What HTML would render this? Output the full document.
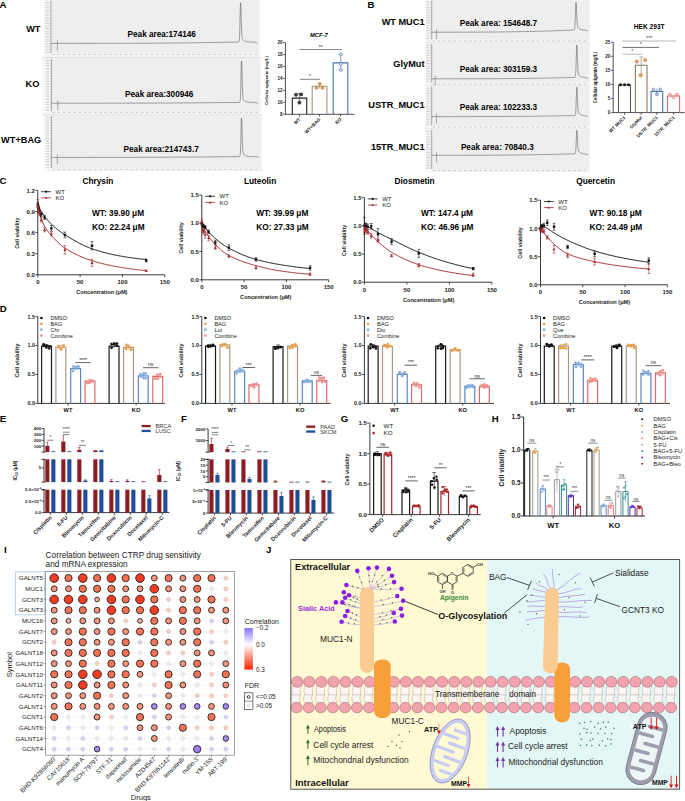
<!DOCTYPE html>
<html><head><meta charset="utf-8"><style>
html,body{margin:0;padding:0;background:#fff;width:685px;height:801px;overflow:hidden}
svg{display:block;font-family:"Liberation Sans",sans-serif}
</style></head><body>
<svg width="685" height="801" viewBox="0 0 685 801">
<text x="-0.5" y="7.8" font-size="9.6" font-weight="bold">A</text>
<text x="40.5" y="31.8" font-size="9.2" font-weight="bold" text-anchor="end">WT</text>
<text x="39.3" y="87.3" font-size="9.2" font-weight="bold" text-anchor="end">KO</text>
<text x="41.2" y="143.3" font-size="9.2" font-weight="bold" text-anchor="end">WT+BAG</text>
<rect x="44" y="0" width="216" height="57" fill="#f4f4f4"/>
<rect x="51" y="0.5" width="207.5" height="52.5" fill="#eeeeee"/>
<line x1="51" y1="0.5" x2="51" y2="53" stroke="#8c8c8c" stroke-width="0.7"/>
<line x1="49.4" y1="52" x2="51" y2="52" stroke="#a8a8a8" stroke-width="0.5"/>
<rect x="45.4" y="51.55" width="3.4" height="0.9" fill="#cdcdcd"/>
<line x1="49.4" y1="49.4" x2="51" y2="49.4" stroke="#a8a8a8" stroke-width="0.5"/>
<rect x="45.4" y="48.95" width="3.4" height="0.9" fill="#cdcdcd"/>
<line x1="49.4" y1="46.8" x2="51" y2="46.8" stroke="#a8a8a8" stroke-width="0.5"/>
<rect x="45.4" y="46.35" width="3.4" height="0.9" fill="#cdcdcd"/>
<line x1="49.4" y1="44.2" x2="51" y2="44.2" stroke="#a8a8a8" stroke-width="0.5"/>
<rect x="45.4" y="43.75" width="3.4" height="0.9" fill="#cdcdcd"/>
<line x1="49.4" y1="41.6" x2="51" y2="41.6" stroke="#a8a8a8" stroke-width="0.5"/>
<rect x="45.4" y="41.15" width="3.4" height="0.9" fill="#cdcdcd"/>
<line x1="49.4" y1="39" x2="51" y2="39" stroke="#a8a8a8" stroke-width="0.5"/>
<rect x="45.4" y="38.55" width="3.4" height="0.9" fill="#cdcdcd"/>
<line x1="49.4" y1="36.4" x2="51" y2="36.4" stroke="#a8a8a8" stroke-width="0.5"/>
<rect x="45.4" y="35.95" width="3.4" height="0.9" fill="#cdcdcd"/>
<line x1="49.4" y1="33.8" x2="51" y2="33.8" stroke="#a8a8a8" stroke-width="0.5"/>
<rect x="45.4" y="33.35" width="3.4" height="0.9" fill="#cdcdcd"/>
<line x1="49.4" y1="31.2" x2="51" y2="31.2" stroke="#a8a8a8" stroke-width="0.5"/>
<rect x="45.4" y="30.75" width="3.4" height="0.9" fill="#cdcdcd"/>
<line x1="49.4" y1="28.6" x2="51" y2="28.6" stroke="#a8a8a8" stroke-width="0.5"/>
<rect x="45.4" y="28.15" width="3.4" height="0.9" fill="#cdcdcd"/>
<line x1="49.4" y1="26" x2="51" y2="26" stroke="#a8a8a8" stroke-width="0.5"/>
<rect x="45.4" y="25.55" width="3.4" height="0.9" fill="#cdcdcd"/>
<line x1="49.4" y1="23.4" x2="51" y2="23.4" stroke="#a8a8a8" stroke-width="0.5"/>
<rect x="45.4" y="22.95" width="3.4" height="0.9" fill="#cdcdcd"/>
<line x1="49.4" y1="20.8" x2="51" y2="20.8" stroke="#a8a8a8" stroke-width="0.5"/>
<rect x="45.4" y="20.35" width="3.4" height="0.9" fill="#cdcdcd"/>
<line x1="49.4" y1="18.2" x2="51" y2="18.2" stroke="#a8a8a8" stroke-width="0.5"/>
<rect x="45.4" y="17.75" width="3.4" height="0.9" fill="#cdcdcd"/>
<line x1="49.4" y1="15.6" x2="51" y2="15.6" stroke="#a8a8a8" stroke-width="0.5"/>
<rect x="45.4" y="15.15" width="3.4" height="0.9" fill="#cdcdcd"/>
<line x1="49.4" y1="13" x2="51" y2="13" stroke="#a8a8a8" stroke-width="0.5"/>
<rect x="45.4" y="12.55" width="3.4" height="0.9" fill="#cdcdcd"/>
<line x1="49.4" y1="10.4" x2="51" y2="10.4" stroke="#a8a8a8" stroke-width="0.5"/>
<rect x="45.4" y="9.95" width="3.4" height="0.9" fill="#cdcdcd"/>
<line x1="49.4" y1="7.8" x2="51" y2="7.8" stroke="#a8a8a8" stroke-width="0.5"/>
<rect x="45.4" y="7.35" width="3.4" height="0.9" fill="#cdcdcd"/>
<line x1="49.4" y1="5.2" x2="51" y2="5.2" stroke="#a8a8a8" stroke-width="0.5"/>
<rect x="45.4" y="4.75" width="3.4" height="0.9" fill="#cdcdcd"/>
<line x1="49.4" y1="2.6" x2="51" y2="2.6" stroke="#a8a8a8" stroke-width="0.5"/>
<rect x="45.4" y="2.15" width="3.4" height="0.9" fill="#cdcdcd"/>
<line x1="52" y1="54.4" x2="54.5" y2="54.4" stroke="#b8b8b8" stroke-width="0.7"/>
<line x1="57.2" y1="54.4" x2="59.7" y2="54.4" stroke="#b8b8b8" stroke-width="0.7"/>
<line x1="62.4" y1="54.4" x2="64.9" y2="54.4" stroke="#b8b8b8" stroke-width="0.7"/>
<line x1="67.6" y1="54.4" x2="70.1" y2="54.4" stroke="#b8b8b8" stroke-width="0.7"/>
<line x1="72.8" y1="54.4" x2="75.3" y2="54.4" stroke="#b8b8b8" stroke-width="0.7"/>
<line x1="78" y1="54.4" x2="80.5" y2="54.4" stroke="#b8b8b8" stroke-width="0.7"/>
<line x1="83.2" y1="54.4" x2="85.7" y2="54.4" stroke="#b8b8b8" stroke-width="0.7"/>
<line x1="88.4" y1="54.4" x2="90.9" y2="54.4" stroke="#b8b8b8" stroke-width="0.7"/>
<line x1="93.6" y1="54.4" x2="96.1" y2="54.4" stroke="#b8b8b8" stroke-width="0.7"/>
<line x1="98.8" y1="54.4" x2="101.3" y2="54.4" stroke="#b8b8b8" stroke-width="0.7"/>
<line x1="104" y1="54.4" x2="106.5" y2="54.4" stroke="#b8b8b8" stroke-width="0.7"/>
<line x1="109.2" y1="54.4" x2="111.7" y2="54.4" stroke="#b8b8b8" stroke-width="0.7"/>
<line x1="114.4" y1="54.4" x2="116.9" y2="54.4" stroke="#b8b8b8" stroke-width="0.7"/>
<line x1="119.6" y1="54.4" x2="122.1" y2="54.4" stroke="#b8b8b8" stroke-width="0.7"/>
<line x1="124.8" y1="54.4" x2="127.3" y2="54.4" stroke="#b8b8b8" stroke-width="0.7"/>
<line x1="130" y1="54.4" x2="132.5" y2="54.4" stroke="#b8b8b8" stroke-width="0.7"/>
<line x1="135.2" y1="54.4" x2="137.7" y2="54.4" stroke="#b8b8b8" stroke-width="0.7"/>
<line x1="140.4" y1="54.4" x2="142.9" y2="54.4" stroke="#b8b8b8" stroke-width="0.7"/>
<line x1="145.6" y1="54.4" x2="148.1" y2="54.4" stroke="#b8b8b8" stroke-width="0.7"/>
<line x1="150.8" y1="54.4" x2="153.3" y2="54.4" stroke="#b8b8b8" stroke-width="0.7"/>
<line x1="156" y1="54.4" x2="158.5" y2="54.4" stroke="#b8b8b8" stroke-width="0.7"/>
<line x1="161.2" y1="54.4" x2="163.7" y2="54.4" stroke="#b8b8b8" stroke-width="0.7"/>
<line x1="166.4" y1="54.4" x2="168.9" y2="54.4" stroke="#b8b8b8" stroke-width="0.7"/>
<line x1="171.6" y1="54.4" x2="174.1" y2="54.4" stroke="#b8b8b8" stroke-width="0.7"/>
<line x1="176.8" y1="54.4" x2="179.3" y2="54.4" stroke="#b8b8b8" stroke-width="0.7"/>
<line x1="182" y1="54.4" x2="184.5" y2="54.4" stroke="#b8b8b8" stroke-width="0.7"/>
<line x1="187.2" y1="54.4" x2="189.7" y2="54.4" stroke="#b8b8b8" stroke-width="0.7"/>
<line x1="192.4" y1="54.4" x2="194.9" y2="54.4" stroke="#b8b8b8" stroke-width="0.7"/>
<line x1="197.6" y1="54.4" x2="200.1" y2="54.4" stroke="#b8b8b8" stroke-width="0.7"/>
<line x1="202.8" y1="54.4" x2="205.3" y2="54.4" stroke="#b8b8b8" stroke-width="0.7"/>
<line x1="208" y1="54.4" x2="210.5" y2="54.4" stroke="#b8b8b8" stroke-width="0.7"/>
<line x1="213.2" y1="54.4" x2="215.7" y2="54.4" stroke="#b8b8b8" stroke-width="0.7"/>
<line x1="218.4" y1="54.4" x2="220.9" y2="54.4" stroke="#b8b8b8" stroke-width="0.7"/>
<line x1="223.6" y1="54.4" x2="226.1" y2="54.4" stroke="#b8b8b8" stroke-width="0.7"/>
<line x1="228.8" y1="54.4" x2="231.3" y2="54.4" stroke="#b8b8b8" stroke-width="0.7"/>
<line x1="234" y1="54.4" x2="236.5" y2="54.4" stroke="#b8b8b8" stroke-width="0.7"/>
<line x1="239.2" y1="54.4" x2="241.7" y2="54.4" stroke="#b8b8b8" stroke-width="0.7"/>
<line x1="244.4" y1="54.4" x2="246.9" y2="54.4" stroke="#b8b8b8" stroke-width="0.7"/>
<line x1="249.6" y1="54.4" x2="252.1" y2="54.4" stroke="#b8b8b8" stroke-width="0.7"/>
<line x1="254.8" y1="54.4" x2="257.3" y2="54.4" stroke="#b8b8b8" stroke-width="0.7"/>
<path d="M51 43.4 L52.55 43.4 L54.11 43.4 L55.66 43.4 L57.22 43.4 L58.77 43.4 L60.33 43.4 L61.88 43.4 L63.44 43.4 L65 43.4 L66.55 43.4 L68.11 43.4 L69.66 43.4 L71.22 43.4 L72.77 43.4 L74.33 43.4 L75.88 43.4 L77.44 43.4 L78.99 43.4 L80.55 43.39 L82.1 43.39 L83.66 43.39 L85.21 43.39 L86.77 43.39 L88.32 43.39 L89.88 43.39 L91.43 43.39 L92.98 43.38 L94.54 43.38 L96.09 43.38 L97.65 43.38 L99.2 43.38 L100.76 43.37 L102.31 43.37 L103.87 43.37 L105.42 43.37 L106.98 43.36 L108.53 43.36 L110.09 43.36 L111.64 43.35 L113.2 43.35 L114.75 43.34 L116.31 43.34 L117.86 43.34 L119.42 43.33 L120.97 43.33 L122.53 43.32 L124.08 43.32 L125.64 43.31 L127.19 43.3 L128.75 43.3 L130.31 43.29 L131.86 43.29 L133.41 43.28 L134.97 43.27 L136.53 43.27 L138.08 43.26 L139.63 43.25 L141.19 43.24 L142.75 43.23 L144.3 43.23 L145.86 43.22 L147.41 43.21 L148.96 43.2 L150.52 43.19 L152.07 43.18 L153.63 43.17 L155.19 43.16 L156.74 43.15 L158.3 43.13 L159.85 43.12 L161.41 43.11 L162.96 43.1 L164.51 43.08 L166.07 43.07 L167.62 43.06 L169.18 43.04 L170.73 43.03 L172.29 43.02 L173.84 43 L175.4 42.99 L176.95 42.97 L178.51 42.95 L180.06 42.94 L181.62 42.92 L183.18 42.9 L184.73 42.88 L186.28 42.87 L187.84 42.85 L189.39 42.83 L190.95 42.81 L192.5 42.79 L194.06 42.77 L195.61 42.75 L197.17 42.73 L198.72 42.71 L200.28 42.68 L201.84 42.66 L203.39 42.64 L204.94 42.61 L206.5 42.59 L208.05 42.57 L209.61 42.54 L211.16 42.51 L212.72 42.49 L214.28 42.46 L215.83 42.44 L217.39 42.41 L218.94 42.38 L220.49 42.35 L222.05 42.32 L223.6 42.29 L225.16 42.26 L226.72 42.23 L228.27 42.2 L229.82 42.17 L231.38 42.14 L232.94 42.1 L234.49 42.07 L236.04 42.03 L237.6 42 L237.6 42 L237.7 42 L237.8 42 L237.9 42 L238 42 L238.1 42 L238.2 42 L238.3 42 L238.4 41.99 L238.5 41.98 L238.6 41.97 L238.7 41.94 L238.8 41.88 L238.9 41.77 L239 41.59 L239.1 41.28 L239.2 40.79 L239.3 40.05 L239.4 38.96 L239.5 37.43 L239.6 35.36 L239.7 32.69 L239.8 29.4 L239.9 25.55 L240 21.28 L240.1 16.8 L240.2 12.43 L240.3 8.51 L240.4 5.4 L240.5 3.39 L240.6 2.7 L240.7 3.19 L240.9 6.92 L241.1 13.36 L241.3 20.71 L241.5 27.32 L241.7 32.29 L241.9 35.52 L242.1 37.42 L242.3 38.48 L242.5 39.09 L242.7 39.49 L242.9 39.79 L243.1 40.04 L243.3 40.26 L243.5 40.46 L243.7 40.63 L243.9 40.78 L244.1 40.92 L244.3 41.04 L244.5 41.14 L244.7 41.24 L244.9 41.32 L245.1 41.4 L245.3 41.46 L245.5 41.52 L245.7 41.58 L245.9 41.62 L246.1 41.67 L246.3 41.7 L246.5 41.74 L246.7 41.76 L246.9 41.79 L247.1 41.81 L247.3 41.83 L247.5 41.85 L247.7 41.87 L247.9 41.88 L248.1 41.9 L248.3 41.91 L248.5 41.92 L248.7 41.93 L249.5 41.95 L250.3 41.97 L251.1 41.98 L251.9 41.99 L252.7 41.99 L253.5 42 L254.3 42.15 L255.1 42.35 L255.9 42.55 L256.7 42.75 L257.5 42.95" fill="none" stroke="#555" stroke-width="0.55"/>
<line x1="57.4" y1="40.4" x2="57.4" y2="50.4" stroke="#777" stroke-width="0.6"/>
<rect x="42.5" y="57" width="219" height="1.6" fill="#dedede"/>
<rect x="42.5" y="58.6" width="218.5" height="55.7" fill="#f4f4f4"/>
<rect x="51.5" y="59.1" width="207.7" height="51.9" fill="#eeeeee"/>
<line x1="51.5" y1="59.1" x2="51.5" y2="111" stroke="#8c8c8c" stroke-width="0.7"/>
<line x1="49.9" y1="110" x2="51.5" y2="110" stroke="#a8a8a8" stroke-width="0.5"/>
<rect x="45.9" y="109.55" width="3.4" height="0.9" fill="#cdcdcd"/>
<line x1="49.9" y1="107.4" x2="51.5" y2="107.4" stroke="#a8a8a8" stroke-width="0.5"/>
<rect x="45.9" y="106.95" width="3.4" height="0.9" fill="#cdcdcd"/>
<line x1="49.9" y1="104.8" x2="51.5" y2="104.8" stroke="#a8a8a8" stroke-width="0.5"/>
<rect x="45.9" y="104.35" width="3.4" height="0.9" fill="#cdcdcd"/>
<line x1="49.9" y1="102.2" x2="51.5" y2="102.2" stroke="#a8a8a8" stroke-width="0.5"/>
<rect x="45.9" y="101.75" width="3.4" height="0.9" fill="#cdcdcd"/>
<line x1="49.9" y1="99.6" x2="51.5" y2="99.6" stroke="#a8a8a8" stroke-width="0.5"/>
<rect x="45.9" y="99.15" width="3.4" height="0.9" fill="#cdcdcd"/>
<line x1="49.9" y1="97" x2="51.5" y2="97" stroke="#a8a8a8" stroke-width="0.5"/>
<rect x="45.9" y="96.55" width="3.4" height="0.9" fill="#cdcdcd"/>
<line x1="49.9" y1="94.4" x2="51.5" y2="94.4" stroke="#a8a8a8" stroke-width="0.5"/>
<rect x="45.9" y="93.95" width="3.4" height="0.9" fill="#cdcdcd"/>
<line x1="49.9" y1="91.8" x2="51.5" y2="91.8" stroke="#a8a8a8" stroke-width="0.5"/>
<rect x="45.9" y="91.35" width="3.4" height="0.9" fill="#cdcdcd"/>
<line x1="49.9" y1="89.2" x2="51.5" y2="89.2" stroke="#a8a8a8" stroke-width="0.5"/>
<rect x="45.9" y="88.75" width="3.4" height="0.9" fill="#cdcdcd"/>
<line x1="49.9" y1="86.6" x2="51.5" y2="86.6" stroke="#a8a8a8" stroke-width="0.5"/>
<rect x="45.9" y="86.15" width="3.4" height="0.9" fill="#cdcdcd"/>
<line x1="49.9" y1="84" x2="51.5" y2="84" stroke="#a8a8a8" stroke-width="0.5"/>
<rect x="45.9" y="83.55" width="3.4" height="0.9" fill="#cdcdcd"/>
<line x1="49.9" y1="81.4" x2="51.5" y2="81.4" stroke="#a8a8a8" stroke-width="0.5"/>
<rect x="45.9" y="80.95" width="3.4" height="0.9" fill="#cdcdcd"/>
<line x1="49.9" y1="78.8" x2="51.5" y2="78.8" stroke="#a8a8a8" stroke-width="0.5"/>
<rect x="45.9" y="78.35" width="3.4" height="0.9" fill="#cdcdcd"/>
<line x1="49.9" y1="76.2" x2="51.5" y2="76.2" stroke="#a8a8a8" stroke-width="0.5"/>
<rect x="45.9" y="75.75" width="3.4" height="0.9" fill="#cdcdcd"/>
<line x1="49.9" y1="73.6" x2="51.5" y2="73.6" stroke="#a8a8a8" stroke-width="0.5"/>
<rect x="45.9" y="73.15" width="3.4" height="0.9" fill="#cdcdcd"/>
<line x1="49.9" y1="71" x2="51.5" y2="71" stroke="#a8a8a8" stroke-width="0.5"/>
<rect x="45.9" y="70.55" width="3.4" height="0.9" fill="#cdcdcd"/>
<line x1="49.9" y1="68.4" x2="51.5" y2="68.4" stroke="#a8a8a8" stroke-width="0.5"/>
<rect x="45.9" y="67.95" width="3.4" height="0.9" fill="#cdcdcd"/>
<line x1="49.9" y1="65.8" x2="51.5" y2="65.8" stroke="#a8a8a8" stroke-width="0.5"/>
<rect x="45.9" y="65.35" width="3.4" height="0.9" fill="#cdcdcd"/>
<line x1="49.9" y1="63.2" x2="51.5" y2="63.2" stroke="#a8a8a8" stroke-width="0.5"/>
<rect x="45.9" y="62.75" width="3.4" height="0.9" fill="#cdcdcd"/>
<line x1="49.9" y1="60.6" x2="51.5" y2="60.6" stroke="#a8a8a8" stroke-width="0.5"/>
<rect x="45.9" y="60.15" width="3.4" height="0.9" fill="#cdcdcd"/>
<line x1="52.5" y1="112.4" x2="55" y2="112.4" stroke="#b8b8b8" stroke-width="0.7"/>
<line x1="57.7" y1="112.4" x2="60.2" y2="112.4" stroke="#b8b8b8" stroke-width="0.7"/>
<line x1="62.9" y1="112.4" x2="65.4" y2="112.4" stroke="#b8b8b8" stroke-width="0.7"/>
<line x1="68.1" y1="112.4" x2="70.6" y2="112.4" stroke="#b8b8b8" stroke-width="0.7"/>
<line x1="73.3" y1="112.4" x2="75.8" y2="112.4" stroke="#b8b8b8" stroke-width="0.7"/>
<line x1="78.5" y1="112.4" x2="81" y2="112.4" stroke="#b8b8b8" stroke-width="0.7"/>
<line x1="83.7" y1="112.4" x2="86.2" y2="112.4" stroke="#b8b8b8" stroke-width="0.7"/>
<line x1="88.9" y1="112.4" x2="91.4" y2="112.4" stroke="#b8b8b8" stroke-width="0.7"/>
<line x1="94.1" y1="112.4" x2="96.6" y2="112.4" stroke="#b8b8b8" stroke-width="0.7"/>
<line x1="99.3" y1="112.4" x2="101.8" y2="112.4" stroke="#b8b8b8" stroke-width="0.7"/>
<line x1="104.5" y1="112.4" x2="107" y2="112.4" stroke="#b8b8b8" stroke-width="0.7"/>
<line x1="109.7" y1="112.4" x2="112.2" y2="112.4" stroke="#b8b8b8" stroke-width="0.7"/>
<line x1="114.9" y1="112.4" x2="117.4" y2="112.4" stroke="#b8b8b8" stroke-width="0.7"/>
<line x1="120.1" y1="112.4" x2="122.6" y2="112.4" stroke="#b8b8b8" stroke-width="0.7"/>
<line x1="125.3" y1="112.4" x2="127.8" y2="112.4" stroke="#b8b8b8" stroke-width="0.7"/>
<line x1="130.5" y1="112.4" x2="133" y2="112.4" stroke="#b8b8b8" stroke-width="0.7"/>
<line x1="135.7" y1="112.4" x2="138.2" y2="112.4" stroke="#b8b8b8" stroke-width="0.7"/>
<line x1="140.9" y1="112.4" x2="143.4" y2="112.4" stroke="#b8b8b8" stroke-width="0.7"/>
<line x1="146.1" y1="112.4" x2="148.6" y2="112.4" stroke="#b8b8b8" stroke-width="0.7"/>
<line x1="151.3" y1="112.4" x2="153.8" y2="112.4" stroke="#b8b8b8" stroke-width="0.7"/>
<line x1="156.5" y1="112.4" x2="159" y2="112.4" stroke="#b8b8b8" stroke-width="0.7"/>
<line x1="161.7" y1="112.4" x2="164.2" y2="112.4" stroke="#b8b8b8" stroke-width="0.7"/>
<line x1="166.9" y1="112.4" x2="169.4" y2="112.4" stroke="#b8b8b8" stroke-width="0.7"/>
<line x1="172.1" y1="112.4" x2="174.6" y2="112.4" stroke="#b8b8b8" stroke-width="0.7"/>
<line x1="177.3" y1="112.4" x2="179.8" y2="112.4" stroke="#b8b8b8" stroke-width="0.7"/>
<line x1="182.5" y1="112.4" x2="185" y2="112.4" stroke="#b8b8b8" stroke-width="0.7"/>
<line x1="187.7" y1="112.4" x2="190.2" y2="112.4" stroke="#b8b8b8" stroke-width="0.7"/>
<line x1="192.9" y1="112.4" x2="195.4" y2="112.4" stroke="#b8b8b8" stroke-width="0.7"/>
<line x1="198.1" y1="112.4" x2="200.6" y2="112.4" stroke="#b8b8b8" stroke-width="0.7"/>
<line x1="203.3" y1="112.4" x2="205.8" y2="112.4" stroke="#b8b8b8" stroke-width="0.7"/>
<line x1="208.5" y1="112.4" x2="211" y2="112.4" stroke="#b8b8b8" stroke-width="0.7"/>
<line x1="213.7" y1="112.4" x2="216.2" y2="112.4" stroke="#b8b8b8" stroke-width="0.7"/>
<line x1="218.9" y1="112.4" x2="221.4" y2="112.4" stroke="#b8b8b8" stroke-width="0.7"/>
<line x1="224.1" y1="112.4" x2="226.6" y2="112.4" stroke="#b8b8b8" stroke-width="0.7"/>
<line x1="229.3" y1="112.4" x2="231.8" y2="112.4" stroke="#b8b8b8" stroke-width="0.7"/>
<line x1="234.5" y1="112.4" x2="237" y2="112.4" stroke="#b8b8b8" stroke-width="0.7"/>
<line x1="239.7" y1="112.4" x2="242.2" y2="112.4" stroke="#b8b8b8" stroke-width="0.7"/>
<line x1="244.9" y1="112.4" x2="247.4" y2="112.4" stroke="#b8b8b8" stroke-width="0.7"/>
<line x1="250.1" y1="112.4" x2="252.6" y2="112.4" stroke="#b8b8b8" stroke-width="0.7"/>
<line x1="255.3" y1="112.4" x2="257.8" y2="112.4" stroke="#b8b8b8" stroke-width="0.7"/>
<path d="M51.5 103.2 L53.06 103.2 L54.62 103.2 L56.17 103.2 L57.73 103.2 L59.29 103.2 L60.85 103.2 L62.41 103.2 L63.97 103.2 L65.53 103.2 L67.08 103.2 L68.64 103.2 L70.2 103.2 L71.76 103.2 L73.32 103.2 L74.88 103.2 L76.43 103.2 L77.99 103.2 L79.55 103.2 L81.11 103.2 L82.67 103.2 L84.22 103.2 L85.78 103.2 L87.34 103.19 L88.9 103.19 L90.46 103.19 L92.02 103.19 L93.58 103.19 L95.13 103.19 L96.69 103.19 L98.25 103.19 L99.81 103.19 L101.37 103.18 L102.92 103.18 L104.48 103.18 L106.04 103.18 L107.6 103.18 L109.16 103.18 L110.72 103.17 L112.28 103.17 L113.83 103.17 L115.39 103.17 L116.95 103.17 L118.51 103.16 L120.07 103.16 L121.62 103.16 L123.18 103.15 L124.74 103.15 L126.3 103.15 L127.86 103.15 L129.42 103.14 L130.97 103.14 L132.53 103.13 L134.09 103.13 L135.65 103.13 L137.21 103.12 L138.77 103.12 L140.32 103.11 L141.88 103.11 L143.44 103.1 L145 103.1 L146.56 103.09 L148.12 103.09 L149.68 103.08 L151.23 103.08 L152.79 103.07 L154.35 103.07 L155.91 103.06 L157.47 103.05 L159.03 103.05 L160.58 103.04 L162.14 103.03 L163.7 103.03 L165.26 103.02 L166.82 103.01 L168.38 103 L169.93 103 L171.49 102.99 L173.05 102.98 L174.61 102.97 L176.17 102.96 L177.72 102.95 L179.28 102.94 L180.84 102.94 L182.4 102.93 L183.96 102.92 L185.52 102.91 L187.07 102.9 L188.63 102.88 L190.19 102.87 L191.75 102.86 L193.31 102.85 L194.87 102.84 L196.43 102.83 L197.98 102.82 L199.54 102.8 L201.1 102.79 L202.66 102.78 L204.22 102.76 L205.78 102.75 L207.33 102.74 L208.89 102.72 L210.45 102.71 L212.01 102.69 L213.57 102.68 L215.12 102.66 L216.68 102.65 L218.24 102.63 L219.8 102.62 L221.36 102.6 L222.92 102.58 L224.47 102.57 L226.03 102.55 L227.59 102.53 L229.15 102.51 L230.71 102.5 L232.27 102.48 L233.82 102.46 L235.38 102.44 L236.94 102.42 L238.5 102.4 L238.5 102.4 L238.6 102.4 L238.7 102.4 L238.8 102.4 L238.9 102.4 L239 102.4 L239.1 102.4 L239.2 102.4 L239.3 102.39 L239.4 102.38 L239.5 102.37 L239.6 102.33 L239.7 102.27 L239.8 102.16 L239.9 101.96 L240 101.64 L240.1 101.13 L240.2 100.35 L240.3 99.2 L240.4 97.58 L240.5 95.4 L240.6 92.59 L240.7 89.13 L240.8 85.07 L240.9 80.57 L241 75.86 L241.1 71.25 L241.2 67.12 L241.3 63.84 L241.4 61.73 L241.5 61 L241.6 61.52 L241.8 65.5 L242 72.34 L242.2 80.13 L242.4 87.13 L242.6 92.37 L242.8 95.77 L243 97.76 L243.2 98.85 L243.4 99.48 L243.6 99.89 L243.8 100.19 L244 100.44 L244.2 100.66 L244.4 100.86 L244.6 101.03 L244.8 101.18 L245 101.32 L245.2 101.44 L245.4 101.54 L245.6 101.64 L245.8 101.72 L246 101.8 L246.2 101.86 L246.4 101.92 L246.6 101.98 L246.8 102.02 L247 102.07 L247.2 102.1 L247.4 102.14 L247.6 102.16 L247.8 102.19 L248 102.21 L248.2 102.23 L248.4 102.25 L248.6 102.27 L248.8 102.28 L249 102.3 L249.2 102.31 L249.4 102.32 L249.6 102.33 L250.4 102.35 L251.2 102.37 L252 102.38 L252.8 102.39 L253.6 102.39 L254.4 102.4 L255.2 102.6 L256 102.8 L256.8 103 L257.6 103.2" fill="none" stroke="#555" stroke-width="0.55"/>
<line x1="57.8" y1="100.2" x2="57.8" y2="110.2" stroke="#777" stroke-width="0.6"/>
<rect x="42.5" y="114.3" width="220" height="1.4" fill="#e2e2e2"/>
<rect x="44" y="115.7" width="218" height="55.8" fill="#f4f4f4"/>
<rect x="51.5" y="116.2" width="208.7" height="51.8" fill="#eeeeee"/>
<line x1="51.5" y1="116.2" x2="51.5" y2="168" stroke="#8c8c8c" stroke-width="0.7"/>
<line x1="49.9" y1="167" x2="51.5" y2="167" stroke="#a8a8a8" stroke-width="0.5"/>
<rect x="45.9" y="166.55" width="3.4" height="0.9" fill="#cdcdcd"/>
<line x1="49.9" y1="164.4" x2="51.5" y2="164.4" stroke="#a8a8a8" stroke-width="0.5"/>
<rect x="45.9" y="163.95" width="3.4" height="0.9" fill="#cdcdcd"/>
<line x1="49.9" y1="161.8" x2="51.5" y2="161.8" stroke="#a8a8a8" stroke-width="0.5"/>
<rect x="45.9" y="161.35" width="3.4" height="0.9" fill="#cdcdcd"/>
<line x1="49.9" y1="159.2" x2="51.5" y2="159.2" stroke="#a8a8a8" stroke-width="0.5"/>
<rect x="45.9" y="158.75" width="3.4" height="0.9" fill="#cdcdcd"/>
<line x1="49.9" y1="156.6" x2="51.5" y2="156.6" stroke="#a8a8a8" stroke-width="0.5"/>
<rect x="45.9" y="156.15" width="3.4" height="0.9" fill="#cdcdcd"/>
<line x1="49.9" y1="154" x2="51.5" y2="154" stroke="#a8a8a8" stroke-width="0.5"/>
<rect x="45.9" y="153.55" width="3.4" height="0.9" fill="#cdcdcd"/>
<line x1="49.9" y1="151.4" x2="51.5" y2="151.4" stroke="#a8a8a8" stroke-width="0.5"/>
<rect x="45.9" y="150.95" width="3.4" height="0.9" fill="#cdcdcd"/>
<line x1="49.9" y1="148.8" x2="51.5" y2="148.8" stroke="#a8a8a8" stroke-width="0.5"/>
<rect x="45.9" y="148.35" width="3.4" height="0.9" fill="#cdcdcd"/>
<line x1="49.9" y1="146.2" x2="51.5" y2="146.2" stroke="#a8a8a8" stroke-width="0.5"/>
<rect x="45.9" y="145.75" width="3.4" height="0.9" fill="#cdcdcd"/>
<line x1="49.9" y1="143.6" x2="51.5" y2="143.6" stroke="#a8a8a8" stroke-width="0.5"/>
<rect x="45.9" y="143.15" width="3.4" height="0.9" fill="#cdcdcd"/>
<line x1="49.9" y1="141" x2="51.5" y2="141" stroke="#a8a8a8" stroke-width="0.5"/>
<rect x="45.9" y="140.55" width="3.4" height="0.9" fill="#cdcdcd"/>
<line x1="49.9" y1="138.4" x2="51.5" y2="138.4" stroke="#a8a8a8" stroke-width="0.5"/>
<rect x="45.9" y="137.95" width="3.4" height="0.9" fill="#cdcdcd"/>
<line x1="49.9" y1="135.8" x2="51.5" y2="135.8" stroke="#a8a8a8" stroke-width="0.5"/>
<rect x="45.9" y="135.35" width="3.4" height="0.9" fill="#cdcdcd"/>
<line x1="49.9" y1="133.2" x2="51.5" y2="133.2" stroke="#a8a8a8" stroke-width="0.5"/>
<rect x="45.9" y="132.75" width="3.4" height="0.9" fill="#cdcdcd"/>
<line x1="49.9" y1="130.6" x2="51.5" y2="130.6" stroke="#a8a8a8" stroke-width="0.5"/>
<rect x="45.9" y="130.15" width="3.4" height="0.9" fill="#cdcdcd"/>
<line x1="49.9" y1="128" x2="51.5" y2="128" stroke="#a8a8a8" stroke-width="0.5"/>
<rect x="45.9" y="127.55" width="3.4" height="0.9" fill="#cdcdcd"/>
<line x1="49.9" y1="125.4" x2="51.5" y2="125.4" stroke="#a8a8a8" stroke-width="0.5"/>
<rect x="45.9" y="124.95" width="3.4" height="0.9" fill="#cdcdcd"/>
<line x1="49.9" y1="122.8" x2="51.5" y2="122.8" stroke="#a8a8a8" stroke-width="0.5"/>
<rect x="45.9" y="122.35" width="3.4" height="0.9" fill="#cdcdcd"/>
<line x1="49.9" y1="120.2" x2="51.5" y2="120.2" stroke="#a8a8a8" stroke-width="0.5"/>
<rect x="45.9" y="119.75" width="3.4" height="0.9" fill="#cdcdcd"/>
<line x1="49.9" y1="117.6" x2="51.5" y2="117.6" stroke="#a8a8a8" stroke-width="0.5"/>
<rect x="45.9" y="117.15" width="3.4" height="0.9" fill="#cdcdcd"/>
<line x1="52.5" y1="169.4" x2="55" y2="169.4" stroke="#b8b8b8" stroke-width="0.7"/>
<line x1="57.7" y1="169.4" x2="60.2" y2="169.4" stroke="#b8b8b8" stroke-width="0.7"/>
<line x1="62.9" y1="169.4" x2="65.4" y2="169.4" stroke="#b8b8b8" stroke-width="0.7"/>
<line x1="68.1" y1="169.4" x2="70.6" y2="169.4" stroke="#b8b8b8" stroke-width="0.7"/>
<line x1="73.3" y1="169.4" x2="75.8" y2="169.4" stroke="#b8b8b8" stroke-width="0.7"/>
<line x1="78.5" y1="169.4" x2="81" y2="169.4" stroke="#b8b8b8" stroke-width="0.7"/>
<line x1="83.7" y1="169.4" x2="86.2" y2="169.4" stroke="#b8b8b8" stroke-width="0.7"/>
<line x1="88.9" y1="169.4" x2="91.4" y2="169.4" stroke="#b8b8b8" stroke-width="0.7"/>
<line x1="94.1" y1="169.4" x2="96.6" y2="169.4" stroke="#b8b8b8" stroke-width="0.7"/>
<line x1="99.3" y1="169.4" x2="101.8" y2="169.4" stroke="#b8b8b8" stroke-width="0.7"/>
<line x1="104.5" y1="169.4" x2="107" y2="169.4" stroke="#b8b8b8" stroke-width="0.7"/>
<line x1="109.7" y1="169.4" x2="112.2" y2="169.4" stroke="#b8b8b8" stroke-width="0.7"/>
<line x1="114.9" y1="169.4" x2="117.4" y2="169.4" stroke="#b8b8b8" stroke-width="0.7"/>
<line x1="120.1" y1="169.4" x2="122.6" y2="169.4" stroke="#b8b8b8" stroke-width="0.7"/>
<line x1="125.3" y1="169.4" x2="127.8" y2="169.4" stroke="#b8b8b8" stroke-width="0.7"/>
<line x1="130.5" y1="169.4" x2="133" y2="169.4" stroke="#b8b8b8" stroke-width="0.7"/>
<line x1="135.7" y1="169.4" x2="138.2" y2="169.4" stroke="#b8b8b8" stroke-width="0.7"/>
<line x1="140.9" y1="169.4" x2="143.4" y2="169.4" stroke="#b8b8b8" stroke-width="0.7"/>
<line x1="146.1" y1="169.4" x2="148.6" y2="169.4" stroke="#b8b8b8" stroke-width="0.7"/>
<line x1="151.3" y1="169.4" x2="153.8" y2="169.4" stroke="#b8b8b8" stroke-width="0.7"/>
<line x1="156.5" y1="169.4" x2="159" y2="169.4" stroke="#b8b8b8" stroke-width="0.7"/>
<line x1="161.7" y1="169.4" x2="164.2" y2="169.4" stroke="#b8b8b8" stroke-width="0.7"/>
<line x1="166.9" y1="169.4" x2="169.4" y2="169.4" stroke="#b8b8b8" stroke-width="0.7"/>
<line x1="172.1" y1="169.4" x2="174.6" y2="169.4" stroke="#b8b8b8" stroke-width="0.7"/>
<line x1="177.3" y1="169.4" x2="179.8" y2="169.4" stroke="#b8b8b8" stroke-width="0.7"/>
<line x1="182.5" y1="169.4" x2="185" y2="169.4" stroke="#b8b8b8" stroke-width="0.7"/>
<line x1="187.7" y1="169.4" x2="190.2" y2="169.4" stroke="#b8b8b8" stroke-width="0.7"/>
<line x1="192.9" y1="169.4" x2="195.4" y2="169.4" stroke="#b8b8b8" stroke-width="0.7"/>
<line x1="198.1" y1="169.4" x2="200.6" y2="169.4" stroke="#b8b8b8" stroke-width="0.7"/>
<line x1="203.3" y1="169.4" x2="205.8" y2="169.4" stroke="#b8b8b8" stroke-width="0.7"/>
<line x1="208.5" y1="169.4" x2="211" y2="169.4" stroke="#b8b8b8" stroke-width="0.7"/>
<line x1="213.7" y1="169.4" x2="216.2" y2="169.4" stroke="#b8b8b8" stroke-width="0.7"/>
<line x1="218.9" y1="169.4" x2="221.4" y2="169.4" stroke="#b8b8b8" stroke-width="0.7"/>
<line x1="224.1" y1="169.4" x2="226.6" y2="169.4" stroke="#b8b8b8" stroke-width="0.7"/>
<line x1="229.3" y1="169.4" x2="231.8" y2="169.4" stroke="#b8b8b8" stroke-width="0.7"/>
<line x1="234.5" y1="169.4" x2="237" y2="169.4" stroke="#b8b8b8" stroke-width="0.7"/>
<line x1="239.7" y1="169.4" x2="242.2" y2="169.4" stroke="#b8b8b8" stroke-width="0.7"/>
<line x1="244.9" y1="169.4" x2="247.4" y2="169.4" stroke="#b8b8b8" stroke-width="0.7"/>
<line x1="250.1" y1="169.4" x2="252.6" y2="169.4" stroke="#b8b8b8" stroke-width="0.7"/>
<line x1="255.3" y1="169.4" x2="257.8" y2="169.4" stroke="#b8b8b8" stroke-width="0.7"/>
<path d="M51.5 157.4 L53.06 157.4 L54.62 157.4 L56.17 157.4 L57.73 157.4 L59.29 157.4 L60.85 157.4 L62.41 157.4 L63.97 157.4 L65.53 157.4 L67.08 157.4 L68.64 157.4 L70.2 157.4 L71.76 157.4 L73.32 157.4 L74.88 157.4 L76.43 157.4 L77.99 157.4 L79.55 157.4 L81.11 157.4 L82.67 157.4 L84.22 157.4 L85.78 157.4 L87.34 157.39 L88.9 157.39 L90.46 157.39 L92.02 157.39 L93.58 157.39 L95.13 157.39 L96.69 157.39 L98.25 157.39 L99.81 157.39 L101.37 157.38 L102.92 157.38 L104.48 157.38 L106.04 157.38 L107.6 157.38 L109.16 157.38 L110.72 157.37 L112.28 157.37 L113.83 157.37 L115.39 157.37 L116.95 157.37 L118.51 157.36 L120.07 157.36 L121.62 157.36 L123.18 157.35 L124.74 157.35 L126.3 157.35 L127.86 157.35 L129.42 157.34 L130.97 157.34 L132.53 157.33 L134.09 157.33 L135.65 157.33 L137.21 157.32 L138.77 157.32 L140.32 157.31 L141.88 157.31 L143.44 157.3 L145 157.3 L146.56 157.29 L148.12 157.29 L149.68 157.28 L151.23 157.28 L152.79 157.27 L154.35 157.27 L155.91 157.26 L157.47 157.25 L159.03 157.25 L160.58 157.24 L162.14 157.23 L163.7 157.23 L165.26 157.22 L166.82 157.21 L168.38 157.2 L169.93 157.2 L171.49 157.19 L173.05 157.18 L174.61 157.17 L176.17 157.16 L177.72 157.15 L179.28 157.14 L180.84 157.14 L182.4 157.13 L183.96 157.12 L185.52 157.11 L187.07 157.1 L188.63 157.08 L190.19 157.07 L191.75 157.06 L193.31 157.05 L194.87 157.04 L196.43 157.03 L197.98 157.02 L199.54 157 L201.1 156.99 L202.66 156.98 L204.22 156.96 L205.78 156.95 L207.33 156.94 L208.89 156.92 L210.45 156.91 L212.01 156.89 L213.57 156.88 L215.12 156.86 L216.68 156.85 L218.24 156.83 L219.8 156.82 L221.36 156.8 L222.92 156.78 L224.47 156.77 L226.03 156.75 L227.59 156.73 L229.15 156.71 L230.71 156.7 L232.27 156.68 L233.82 156.66 L235.38 156.64 L236.94 156.62 L238.5 156.6 L238.5 156.6 L238.6 156.6 L238.7 156.6 L238.8 156.6 L238.9 156.6 L239 156.6 L239.1 156.6 L239.2 156.6 L239.3 156.59 L239.4 156.58 L239.5 156.57 L239.6 156.54 L239.7 156.48 L239.8 156.37 L239.9 156.19 L240 155.89 L240.1 155.42 L240.2 154.69 L240.3 153.62 L240.4 152.11 L240.5 150.08 L240.6 147.45 L240.7 144.23 L240.8 140.45 L240.9 136.25 L241 131.85 L241.1 127.56 L241.2 123.71 L241.3 120.65 L241.4 118.68 L241.5 118 L241.6 118.47 L241.8 122.13 L242 128.43 L242.2 135.64 L242.4 142.12 L242.6 146.99 L242.8 150.17 L243 152.04 L243.2 153.09 L243.4 153.69 L243.6 154.09 L243.8 154.39 L244 154.64 L244.2 154.86 L244.4 155.06 L244.6 155.23 L244.8 155.38 L245 155.52 L245.2 155.64 L245.4 155.74 L245.6 155.84 L245.8 155.92 L246 156 L246.2 156.06 L246.4 156.12 L246.6 156.18 L246.8 156.22 L247 156.27 L247.2 156.3 L247.4 156.34 L247.6 156.36 L247.8 156.39 L248 156.41 L248.2 156.43 L248.4 156.45 L248.6 156.47 L248.8 156.48 L249 156.5 L249.2 156.51 L249.4 156.52 L249.6 156.53 L250.4 156.55 L251.2 156.57 L252 156.58 L252.8 156.59 L253.6 156.59 L254.4 156.6 L255.2 156.6 L256 156.75 L256.8 156.95 L257.6 157.15 L258.4 157.35 L259.2 157.55" fill="none" stroke="#555" stroke-width="0.55"/>
<line x1="57.3" y1="154.4" x2="57.3" y2="164.4" stroke="#777" stroke-width="0.6"/>
<text x="127.6" y="36.6" font-size="8.2" font-weight="bold">Peak area:174146</text>
<text x="125.1" y="97" font-size="8.2" font-weight="bold">Peak area:300946</text>
<text x="123.6" y="151.7" font-size="8.2" font-weight="bold">Peak area:214743.7</text>
<text x="318.8" y="37" font-size="5.8" font-weight="bold" font-style="italic" text-anchor="middle">MCF-7</text>
<line x1="285.4" y1="42.6" x2="285.4" y2="114.3" stroke="#222" stroke-width="0.8"/>
<line x1="285.4" y1="114.3" x2="354.5" y2="114.3" stroke="#222" stroke-width="0.8"/>
<line x1="283.2" y1="114.3" x2="285.4" y2="114.3" stroke="#222" stroke-width="0.7"/>
<text x="282.6" y="116" font-size="4.6" font-weight="bold" text-anchor="end" fill="#222">8</text>
<line x1="283.2" y1="102.35" x2="285.4" y2="102.35" stroke="#222" stroke-width="0.7"/>
<text x="282.6" y="104.05" font-size="4.6" font-weight="bold" text-anchor="end" fill="#222">10</text>
<line x1="283.2" y1="90.4" x2="285.4" y2="90.4" stroke="#222" stroke-width="0.7"/>
<text x="282.6" y="92.1" font-size="4.6" font-weight="bold" text-anchor="end" fill="#222">12</text>
<line x1="283.2" y1="78.45" x2="285.4" y2="78.45" stroke="#222" stroke-width="0.7"/>
<text x="282.6" y="80.15" font-size="4.6" font-weight="bold" text-anchor="end" fill="#222">14</text>
<line x1="283.2" y1="66.5" x2="285.4" y2="66.5" stroke="#222" stroke-width="0.7"/>
<text x="282.6" y="68.2" font-size="4.6" font-weight="bold" text-anchor="end" fill="#222">16</text>
<line x1="283.2" y1="54.55" x2="285.4" y2="54.55" stroke="#222" stroke-width="0.7"/>
<text x="282.6" y="56.25" font-size="4.6" font-weight="bold" text-anchor="end" fill="#222">18</text>
<line x1="283.2" y1="42.6" x2="285.4" y2="42.6" stroke="#222" stroke-width="0.7"/>
<text x="282.6" y="44.3" font-size="4.6" font-weight="bold" text-anchor="end" fill="#222">20</text>
<text x="268" y="80.6" font-size="4.3" font-weight="bold" text-anchor="middle" fill="#222" transform="rotate(-90 268 80.6)">Cellular apigenin (mg/L)</text>
<path d="M292.3 114.3 L292.3 98.17 L306.7 98.17 L306.7 114.3" fill="none" stroke="#222" stroke-width="1.1"/>
<line x1="299.5" y1="114.3" x2="299.5" y2="116.6" stroke="#222" stroke-width="0.7"/>
<path d="M312.2 114.3 L312.2 86.22 L326.9 86.22 L326.9 114.3" fill="none" stroke="#a39684" stroke-width="1.1"/>
<line x1="319.55" y1="114.3" x2="319.55" y2="116.6" stroke="#222" stroke-width="0.7"/>
<path d="M333.2 114.3 L333.2 62.91 L347.8 62.91 L347.8 114.3" fill="none" stroke="#4a72aa" stroke-width="1.1"/>
<line x1="340.5" y1="114.3" x2="340.5" y2="116.6" stroke="#222" stroke-width="0.7"/>
<line x1="299.4" y1="93.5" x2="299.4" y2="103" stroke="#333" stroke-width="0.6"/>
<line x1="297.5" y1="93.5" x2="301.3" y2="93.5" stroke="#333" stroke-width="0.6"/>
<circle cx="296" cy="94.8" r="1.7" fill="#3a3a3a" stroke="#222" stroke-width="0.4"/>
<circle cx="301.2" cy="94.4" r="1.7" fill="#3a3a3a" stroke="#222" stroke-width="0.4"/>
<circle cx="299.4" cy="102.6" r="1.7" fill="#3a3a3a" stroke="#222" stroke-width="0.4"/>
<line x1="319.6" y1="83.5" x2="319.6" y2="88.5" stroke="#8a7a68" stroke-width="0.6"/>
<circle cx="319.8" cy="83.8" r="1.6" fill="#e89a48" stroke="#9a6a30" stroke-width="0.4"/>
<circle cx="316.6" cy="87.8" r="1.6" fill="#e89a48" stroke="#9a6a30" stroke-width="0.4"/>
<circle cx="322.5" cy="87.8" r="1.6" fill="#e89a48" stroke="#9a6a30" stroke-width="0.4"/>
<line x1="340.8" y1="54.3" x2="340.8" y2="70" stroke="#4a72aa" stroke-width="0.7"/>
<line x1="338.9" y1="54.3" x2="342.7" y2="54.3" stroke="#4a72aa" stroke-width="0.7"/>
<line x1="338.9" y1="70" x2="342.7" y2="70" stroke="#4a72aa" stroke-width="0.7"/>
<circle cx="340.8" cy="54.3" r="1.5" fill="#dde6f2" stroke="#4a72aa" stroke-width="0.6"/>
<circle cx="340.8" cy="63.9" r="1.5" fill="#dde6f2" stroke="#4a72aa" stroke-width="0.6"/>
<circle cx="340.8" cy="69.9" r="1.5" fill="#dde6f2" stroke="#4a72aa" stroke-width="0.6"/>
<line x1="300" y1="79.3" x2="320" y2="79.3" stroke="#333" stroke-width="0.6"/>
<text x="310" y="78.3" font-size="5" text-anchor="middle" fill="#333">*</text>
<line x1="299.5" y1="49.5" x2="342" y2="49.5" stroke="#333" stroke-width="0.6"/>
<text x="320.7" y="48.6" font-size="5" text-anchor="middle" fill="#333">**</text>
<text x="300.9" y="119.6" font-size="4.7" font-weight="bold" text-anchor="end" fill="#222" transform="rotate(-45 300.9 119.6)">WT</text>
<text x="320.9" y="119.6" font-size="4.7" font-weight="bold" text-anchor="end" fill="#222" transform="rotate(-45 320.9 119.6)">WT+BAG</text>
<text x="341.9" y="119.6" font-size="4.7" font-weight="bold" text-anchor="end" fill="#222" transform="rotate(-45 341.9 119.6)">KO</text>
<text x="367.4" y="7.7" font-size="9.6" font-weight="bold">B</text>
<text x="424.5" y="25" font-size="9.2" font-weight="bold" text-anchor="end">WT MUC1</text>
<text x="424.5" y="67.3" font-size="9.2" font-weight="bold" text-anchor="end">GlyMut</text>
<text x="424.5" y="108.1" font-size="9.2" font-weight="bold" text-anchor="end">USTR_MUC1</text>
<text x="424.5" y="150.2" font-size="9.2" font-weight="bold" text-anchor="end">15TR_MUC1</text>
<rect x="425.5" y="0" width="164.5" height="42.4" fill="#f4f4f4"/>
<rect x="431.7" y="0.5" width="157.3" height="39" fill="#eeeeee"/>
<line x1="431.7" y1="0.5" x2="431.7" y2="39.5" stroke="#8c8c8c" stroke-width="0.7"/>
<line x1="430.1" y1="38.5" x2="431.7" y2="38.5" stroke="#a8a8a8" stroke-width="0.5"/>
<rect x="426.1" y="38.05" width="3.4" height="0.9" fill="#cdcdcd"/>
<line x1="430.1" y1="35.9" x2="431.7" y2="35.9" stroke="#a8a8a8" stroke-width="0.5"/>
<rect x="426.1" y="35.45" width="3.4" height="0.9" fill="#cdcdcd"/>
<line x1="430.1" y1="33.3" x2="431.7" y2="33.3" stroke="#a8a8a8" stroke-width="0.5"/>
<rect x="426.1" y="32.85" width="3.4" height="0.9" fill="#cdcdcd"/>
<line x1="430.1" y1="30.7" x2="431.7" y2="30.7" stroke="#a8a8a8" stroke-width="0.5"/>
<rect x="426.1" y="30.25" width="3.4" height="0.9" fill="#cdcdcd"/>
<line x1="430.1" y1="28.1" x2="431.7" y2="28.1" stroke="#a8a8a8" stroke-width="0.5"/>
<rect x="426.1" y="27.65" width="3.4" height="0.9" fill="#cdcdcd"/>
<line x1="430.1" y1="25.5" x2="431.7" y2="25.5" stroke="#a8a8a8" stroke-width="0.5"/>
<rect x="426.1" y="25.05" width="3.4" height="0.9" fill="#cdcdcd"/>
<line x1="430.1" y1="22.9" x2="431.7" y2="22.9" stroke="#a8a8a8" stroke-width="0.5"/>
<rect x="426.1" y="22.45" width="3.4" height="0.9" fill="#cdcdcd"/>
<line x1="430.1" y1="20.3" x2="431.7" y2="20.3" stroke="#a8a8a8" stroke-width="0.5"/>
<rect x="426.1" y="19.85" width="3.4" height="0.9" fill="#cdcdcd"/>
<line x1="430.1" y1="17.7" x2="431.7" y2="17.7" stroke="#a8a8a8" stroke-width="0.5"/>
<rect x="426.1" y="17.25" width="3.4" height="0.9" fill="#cdcdcd"/>
<line x1="430.1" y1="15.1" x2="431.7" y2="15.1" stroke="#a8a8a8" stroke-width="0.5"/>
<rect x="426.1" y="14.65" width="3.4" height="0.9" fill="#cdcdcd"/>
<line x1="430.1" y1="12.5" x2="431.7" y2="12.5" stroke="#a8a8a8" stroke-width="0.5"/>
<rect x="426.1" y="12.05" width="3.4" height="0.9" fill="#cdcdcd"/>
<line x1="430.1" y1="9.9" x2="431.7" y2="9.9" stroke="#a8a8a8" stroke-width="0.5"/>
<rect x="426.1" y="9.45" width="3.4" height="0.9" fill="#cdcdcd"/>
<line x1="430.1" y1="7.3" x2="431.7" y2="7.3" stroke="#a8a8a8" stroke-width="0.5"/>
<rect x="426.1" y="6.85" width="3.4" height="0.9" fill="#cdcdcd"/>
<line x1="430.1" y1="4.7" x2="431.7" y2="4.7" stroke="#a8a8a8" stroke-width="0.5"/>
<rect x="426.1" y="4.25" width="3.4" height="0.9" fill="#cdcdcd"/>
<line x1="430.1" y1="2.1" x2="431.7" y2="2.1" stroke="#a8a8a8" stroke-width="0.5"/>
<rect x="426.1" y="1.65" width="3.4" height="0.9" fill="#cdcdcd"/>
<line x1="432.7" y1="40.9" x2="435.2" y2="40.9" stroke="#b8b8b8" stroke-width="0.7"/>
<line x1="437.9" y1="40.9" x2="440.4" y2="40.9" stroke="#b8b8b8" stroke-width="0.7"/>
<line x1="443.1" y1="40.9" x2="445.6" y2="40.9" stroke="#b8b8b8" stroke-width="0.7"/>
<line x1="448.3" y1="40.9" x2="450.8" y2="40.9" stroke="#b8b8b8" stroke-width="0.7"/>
<line x1="453.5" y1="40.9" x2="456" y2="40.9" stroke="#b8b8b8" stroke-width="0.7"/>
<line x1="458.7" y1="40.9" x2="461.2" y2="40.9" stroke="#b8b8b8" stroke-width="0.7"/>
<line x1="463.9" y1="40.9" x2="466.4" y2="40.9" stroke="#b8b8b8" stroke-width="0.7"/>
<line x1="469.1" y1="40.9" x2="471.6" y2="40.9" stroke="#b8b8b8" stroke-width="0.7"/>
<line x1="474.3" y1="40.9" x2="476.8" y2="40.9" stroke="#b8b8b8" stroke-width="0.7"/>
<line x1="479.5" y1="40.9" x2="482" y2="40.9" stroke="#b8b8b8" stroke-width="0.7"/>
<line x1="484.7" y1="40.9" x2="487.2" y2="40.9" stroke="#b8b8b8" stroke-width="0.7"/>
<line x1="489.9" y1="40.9" x2="492.4" y2="40.9" stroke="#b8b8b8" stroke-width="0.7"/>
<line x1="495.1" y1="40.9" x2="497.6" y2="40.9" stroke="#b8b8b8" stroke-width="0.7"/>
<line x1="500.3" y1="40.9" x2="502.8" y2="40.9" stroke="#b8b8b8" stroke-width="0.7"/>
<line x1="505.5" y1="40.9" x2="508" y2="40.9" stroke="#b8b8b8" stroke-width="0.7"/>
<line x1="510.7" y1="40.9" x2="513.2" y2="40.9" stroke="#b8b8b8" stroke-width="0.7"/>
<line x1="515.9" y1="40.9" x2="518.4" y2="40.9" stroke="#b8b8b8" stroke-width="0.7"/>
<line x1="521.1" y1="40.9" x2="523.6" y2="40.9" stroke="#b8b8b8" stroke-width="0.7"/>
<line x1="526.3" y1="40.9" x2="528.8" y2="40.9" stroke="#b8b8b8" stroke-width="0.7"/>
<line x1="531.5" y1="40.9" x2="534" y2="40.9" stroke="#b8b8b8" stroke-width="0.7"/>
<line x1="536.7" y1="40.9" x2="539.2" y2="40.9" stroke="#b8b8b8" stroke-width="0.7"/>
<line x1="541.9" y1="40.9" x2="544.4" y2="40.9" stroke="#b8b8b8" stroke-width="0.7"/>
<line x1="547.1" y1="40.9" x2="549.6" y2="40.9" stroke="#b8b8b8" stroke-width="0.7"/>
<line x1="552.3" y1="40.9" x2="554.8" y2="40.9" stroke="#b8b8b8" stroke-width="0.7"/>
<line x1="557.5" y1="40.9" x2="560" y2="40.9" stroke="#b8b8b8" stroke-width="0.7"/>
<line x1="562.7" y1="40.9" x2="565.2" y2="40.9" stroke="#b8b8b8" stroke-width="0.7"/>
<line x1="567.9" y1="40.9" x2="570.4" y2="40.9" stroke="#b8b8b8" stroke-width="0.7"/>
<line x1="573.1" y1="40.9" x2="575.6" y2="40.9" stroke="#b8b8b8" stroke-width="0.7"/>
<line x1="578.3" y1="40.9" x2="580.8" y2="40.9" stroke="#b8b8b8" stroke-width="0.7"/>
<line x1="583.5" y1="40.9" x2="586" y2="40.9" stroke="#b8b8b8" stroke-width="0.7"/>
<path d="M431.7 32.2 L432.88 32.2 L434.06 32.2 L435.23 32.2 L436.41 32.2 L437.59 32.2 L438.76 32.2 L439.94 32.2 L441.12 32.2 L442.3 32.2 L443.47 32.2 L444.65 32.2 L445.83 32.2 L447.01 32.2 L448.19 32.2 L449.36 32.2 L450.54 32.19 L451.72 32.19 L452.89 32.19 L454.07 32.19 L455.25 32.19 L456.43 32.19 L457.61 32.19 L458.78 32.18 L459.96 32.18 L461.14 32.18 L462.31 32.18 L463.49 32.17 L464.67 32.17 L465.85 32.17 L467.02 32.17 L468.2 32.16 L469.38 32.16 L470.56 32.15 L471.74 32.15 L472.91 32.15 L474.09 32.14 L475.27 32.14 L476.44 32.13 L477.62 32.12 L478.8 32.12 L479.98 32.11 L481.15 32.11 L482.33 32.1 L483.51 32.09 L484.69 32.08 L485.87 32.08 L487.04 32.07 L488.22 32.06 L489.4 32.05 L490.57 32.04 L491.75 32.03 L492.93 32.02 L494.11 32.01 L495.28 32 L496.46 31.99 L497.64 31.98 L498.82 31.96 L500 31.95 L501.17 31.94 L502.35 31.93 L503.53 31.91 L504.7 31.9 L505.88 31.88 L507.06 31.87 L508.24 31.85 L509.41 31.83 L510.59 31.82 L511.77 31.8 L512.95 31.78 L514.12 31.76 L515.3 31.74 L516.48 31.72 L517.66 31.7 L518.84 31.68 L520.01 31.66 L521.19 31.64 L522.37 31.62 L523.54 31.6 L524.72 31.57 L525.9 31.55 L527.08 31.52 L528.25 31.5 L529.43 31.47 L530.61 31.45 L531.79 31.42 L532.97 31.39 L534.14 31.36 L535.32 31.33 L536.5 31.3 L537.67 31.27 L538.85 31.24 L540.03 31.21 L541.21 31.18 L542.38 31.14 L543.56 31.11 L544.74 31.07 L545.92 31.04 L547.1 31 L548.27 30.96 L549.45 30.93 L550.63 30.89 L551.8 30.85 L552.98 30.81 L554.16 30.77 L555.34 30.73 L556.51 30.68 L557.69 30.64 L558.87 30.6 L560.05 30.55 L561.23 30.51 L562.4 30.46 L563.58 30.41 L564.76 30.36 L565.93 30.31 L567.11 30.26 L568.29 30.21 L569.47 30.16 L570.64 30.11 L571.82 30.05 L573 30 L573 30 L573.1 30 L573.2 30 L573.3 30 L573.4 30 L573.5 30 L573.6 30 L573.7 30 L573.8 29.99 L573.9 29.99 L574 29.98 L574.1 29.95 L574.2 29.91 L574.3 29.84 L574.4 29.71 L574.5 29.49 L574.6 29.15 L574.7 28.62 L574.8 27.85 L574.9 26.77 L575 25.3 L575.1 23.41 L575.2 21.09 L575.3 18.37 L575.4 15.34 L575.5 12.18 L575.6 9.08 L575.7 6.31 L575.8 4.11 L575.9 2.69 L576 2.2 L576.1 2.51 L576.3 4.91 L576.5 9.14 L576.7 14.06 L576.9 18.56 L577.1 22.02 L577.3 24.34 L577.5 25.76 L577.7 26.6 L577.9 27.13 L578.1 27.5 L578.3 27.8 L578.5 28.05 L578.7 28.26 L578.9 28.46 L579.1 28.63 L579.3 28.78 L579.5 28.92 L579.7 29.04 L579.9 29.14 L580.1 29.24 L580.3 29.32 L580.5 29.4 L580.7 29.46 L580.9 29.52 L581.1 29.58 L581.3 29.62 L581.5 29.67 L581.7 29.7 L581.9 29.74 L582.1 29.76 L582.3 29.79 L582.5 29.81 L582.7 29.83 L582.9 29.85 L583.1 29.87 L583.3 29.88 L583.5 29.9 L583.7 29.91 L583.9 29.92 L584.1 29.93 L584.9 30.13 L585.7 30.35 L586.5 30.56 L587.3 30.76 L588.1 30.97" fill="none" stroke="#555" stroke-width="0.55"/>
<line x1="436.5" y1="29.2" x2="436.5" y2="39.2" stroke="#777" stroke-width="0.6"/>
<rect x="425" y="42.4" width="165" height="1" fill="#dcdcdc"/>
<rect x="425.5" y="43.2" width="164.5" height="42.2" fill="#f4f4f4"/>
<rect x="431.7" y="43.7" width="157.3" height="38.9" fill="#eeeeee"/>
<line x1="431.7" y1="43.7" x2="431.7" y2="82.6" stroke="#8c8c8c" stroke-width="0.7"/>
<line x1="430.1" y1="81.6" x2="431.7" y2="81.6" stroke="#a8a8a8" stroke-width="0.5"/>
<rect x="426.1" y="81.15" width="3.4" height="0.9" fill="#cdcdcd"/>
<line x1="430.1" y1="79" x2="431.7" y2="79" stroke="#a8a8a8" stroke-width="0.5"/>
<rect x="426.1" y="78.55" width="3.4" height="0.9" fill="#cdcdcd"/>
<line x1="430.1" y1="76.4" x2="431.7" y2="76.4" stroke="#a8a8a8" stroke-width="0.5"/>
<rect x="426.1" y="75.95" width="3.4" height="0.9" fill="#cdcdcd"/>
<line x1="430.1" y1="73.8" x2="431.7" y2="73.8" stroke="#a8a8a8" stroke-width="0.5"/>
<rect x="426.1" y="73.35" width="3.4" height="0.9" fill="#cdcdcd"/>
<line x1="430.1" y1="71.2" x2="431.7" y2="71.2" stroke="#a8a8a8" stroke-width="0.5"/>
<rect x="426.1" y="70.75" width="3.4" height="0.9" fill="#cdcdcd"/>
<line x1="430.1" y1="68.6" x2="431.7" y2="68.6" stroke="#a8a8a8" stroke-width="0.5"/>
<rect x="426.1" y="68.15" width="3.4" height="0.9" fill="#cdcdcd"/>
<line x1="430.1" y1="66" x2="431.7" y2="66" stroke="#a8a8a8" stroke-width="0.5"/>
<rect x="426.1" y="65.55" width="3.4" height="0.9" fill="#cdcdcd"/>
<line x1="430.1" y1="63.4" x2="431.7" y2="63.4" stroke="#a8a8a8" stroke-width="0.5"/>
<rect x="426.1" y="62.95" width="3.4" height="0.9" fill="#cdcdcd"/>
<line x1="430.1" y1="60.8" x2="431.7" y2="60.8" stroke="#a8a8a8" stroke-width="0.5"/>
<rect x="426.1" y="60.35" width="3.4" height="0.9" fill="#cdcdcd"/>
<line x1="430.1" y1="58.2" x2="431.7" y2="58.2" stroke="#a8a8a8" stroke-width="0.5"/>
<rect x="426.1" y="57.75" width="3.4" height="0.9" fill="#cdcdcd"/>
<line x1="430.1" y1="55.6" x2="431.7" y2="55.6" stroke="#a8a8a8" stroke-width="0.5"/>
<rect x="426.1" y="55.15" width="3.4" height="0.9" fill="#cdcdcd"/>
<line x1="430.1" y1="53" x2="431.7" y2="53" stroke="#a8a8a8" stroke-width="0.5"/>
<rect x="426.1" y="52.55" width="3.4" height="0.9" fill="#cdcdcd"/>
<line x1="430.1" y1="50.4" x2="431.7" y2="50.4" stroke="#a8a8a8" stroke-width="0.5"/>
<rect x="426.1" y="49.95" width="3.4" height="0.9" fill="#cdcdcd"/>
<line x1="430.1" y1="47.8" x2="431.7" y2="47.8" stroke="#a8a8a8" stroke-width="0.5"/>
<rect x="426.1" y="47.35" width="3.4" height="0.9" fill="#cdcdcd"/>
<line x1="430.1" y1="45.2" x2="431.7" y2="45.2" stroke="#a8a8a8" stroke-width="0.5"/>
<rect x="426.1" y="44.75" width="3.4" height="0.9" fill="#cdcdcd"/>
<line x1="432.7" y1="84" x2="435.2" y2="84" stroke="#b8b8b8" stroke-width="0.7"/>
<line x1="437.9" y1="84" x2="440.4" y2="84" stroke="#b8b8b8" stroke-width="0.7"/>
<line x1="443.1" y1="84" x2="445.6" y2="84" stroke="#b8b8b8" stroke-width="0.7"/>
<line x1="448.3" y1="84" x2="450.8" y2="84" stroke="#b8b8b8" stroke-width="0.7"/>
<line x1="453.5" y1="84" x2="456" y2="84" stroke="#b8b8b8" stroke-width="0.7"/>
<line x1="458.7" y1="84" x2="461.2" y2="84" stroke="#b8b8b8" stroke-width="0.7"/>
<line x1="463.9" y1="84" x2="466.4" y2="84" stroke="#b8b8b8" stroke-width="0.7"/>
<line x1="469.1" y1="84" x2="471.6" y2="84" stroke="#b8b8b8" stroke-width="0.7"/>
<line x1="474.3" y1="84" x2="476.8" y2="84" stroke="#b8b8b8" stroke-width="0.7"/>
<line x1="479.5" y1="84" x2="482" y2="84" stroke="#b8b8b8" stroke-width="0.7"/>
<line x1="484.7" y1="84" x2="487.2" y2="84" stroke="#b8b8b8" stroke-width="0.7"/>
<line x1="489.9" y1="84" x2="492.4" y2="84" stroke="#b8b8b8" stroke-width="0.7"/>
<line x1="495.1" y1="84" x2="497.6" y2="84" stroke="#b8b8b8" stroke-width="0.7"/>
<line x1="500.3" y1="84" x2="502.8" y2="84" stroke="#b8b8b8" stroke-width="0.7"/>
<line x1="505.5" y1="84" x2="508" y2="84" stroke="#b8b8b8" stroke-width="0.7"/>
<line x1="510.7" y1="84" x2="513.2" y2="84" stroke="#b8b8b8" stroke-width="0.7"/>
<line x1="515.9" y1="84" x2="518.4" y2="84" stroke="#b8b8b8" stroke-width="0.7"/>
<line x1="521.1" y1="84" x2="523.6" y2="84" stroke="#b8b8b8" stroke-width="0.7"/>
<line x1="526.3" y1="84" x2="528.8" y2="84" stroke="#b8b8b8" stroke-width="0.7"/>
<line x1="531.5" y1="84" x2="534" y2="84" stroke="#b8b8b8" stroke-width="0.7"/>
<line x1="536.7" y1="84" x2="539.2" y2="84" stroke="#b8b8b8" stroke-width="0.7"/>
<line x1="541.9" y1="84" x2="544.4" y2="84" stroke="#b8b8b8" stroke-width="0.7"/>
<line x1="547.1" y1="84" x2="549.6" y2="84" stroke="#b8b8b8" stroke-width="0.7"/>
<line x1="552.3" y1="84" x2="554.8" y2="84" stroke="#b8b8b8" stroke-width="0.7"/>
<line x1="557.5" y1="84" x2="560" y2="84" stroke="#b8b8b8" stroke-width="0.7"/>
<line x1="562.7" y1="84" x2="565.2" y2="84" stroke="#b8b8b8" stroke-width="0.7"/>
<line x1="567.9" y1="84" x2="570.4" y2="84" stroke="#b8b8b8" stroke-width="0.7"/>
<line x1="573.1" y1="84" x2="575.6" y2="84" stroke="#b8b8b8" stroke-width="0.7"/>
<line x1="578.3" y1="84" x2="580.8" y2="84" stroke="#b8b8b8" stroke-width="0.7"/>
<line x1="583.5" y1="84" x2="586" y2="84" stroke="#b8b8b8" stroke-width="0.7"/>
<path d="M431.7 78.8 L432.88 78.8 L434.07 78.8 L435.25 78.8 L436.44 78.8 L437.62 78.8 L438.81 78.8 L439.99 78.8 L441.17 78.8 L442.36 78.8 L443.54 78.8 L444.73 78.8 L445.91 78.8 L447.09 78.8 L448.28 78.8 L449.46 78.8 L450.65 78.8 L451.83 78.8 L453.01 78.8 L454.2 78.79 L455.38 78.79 L456.57 78.79 L457.75 78.79 L458.94 78.79 L460.12 78.79 L461.3 78.79 L462.49 78.79 L463.67 78.78 L464.86 78.78 L466.04 78.78 L467.22 78.78 L468.41 78.78 L469.59 78.77 L470.78 78.77 L471.96 78.77 L473.15 78.77 L474.33 78.76 L475.51 78.76 L476.7 78.76 L477.88 78.75 L479.07 78.75 L480.25 78.74 L481.44 78.74 L482.62 78.74 L483.8 78.73 L484.99 78.73 L486.17 78.72 L487.36 78.72 L488.54 78.71 L489.72 78.7 L490.91 78.7 L492.09 78.69 L493.28 78.69 L494.46 78.68 L495.64 78.67 L496.83 78.67 L498.01 78.66 L499.2 78.65 L500.38 78.64 L501.57 78.63 L502.75 78.62 L503.93 78.62 L505.12 78.61 L506.3 78.6 L507.49 78.59 L508.67 78.58 L509.85 78.57 L511.04 78.56 L512.22 78.55 L513.41 78.53 L514.59 78.52 L515.78 78.51 L516.96 78.5 L518.14 78.48 L519.33 78.47 L520.51 78.46 L521.7 78.44 L522.88 78.43 L524.06 78.42 L525.25 78.4 L526.43 78.39 L527.62 78.37 L528.8 78.35 L529.99 78.34 L531.17 78.32 L532.35 78.3 L533.54 78.28 L534.72 78.27 L535.91 78.25 L537.09 78.23 L538.27 78.21 L539.46 78.19 L540.64 78.17 L541.83 78.15 L543.01 78.13 L544.2 78.11 L545.38 78.08 L546.56 78.06 L547.75 78.04 L548.93 78.01 L550.12 77.99 L551.3 77.97 L552.49 77.94 L553.67 77.91 L554.85 77.89 L556.04 77.86 L557.22 77.84 L558.41 77.81 L559.59 77.78 L560.77 77.75 L561.96 77.72 L563.14 77.69 L564.33 77.66 L565.51 77.63 L566.69 77.6 L567.88 77.57 L569.06 77.54 L570.25 77.5 L571.43 77.47 L572.62 77.43 L573.8 77.4 L573.8 77.4 L573.9 77.4 L574 77.4 L574.1 77.4 L574.2 77.4 L574.3 77.4 L574.4 77.4 L574.5 77.4 L574.6 77.39 L574.7 77.39 L574.8 77.37 L574.9 77.35 L575 77.3 L575.1 77.21 L575.2 77.06 L575.3 76.81 L575.4 76.41 L575.5 75.79 L575.6 74.9 L575.7 73.63 L575.8 71.92 L575.9 69.72 L576 67.01 L576.1 63.84 L576.2 60.32 L576.3 56.63 L576.4 53.02 L576.5 49.79 L576.6 47.22 L576.7 45.57 L576.8 45 L576.9 45.38 L577.1 48.32 L577.3 53.43 L577.5 59.32 L577.7 64.67 L577.9 68.73 L578.1 71.42 L578.3 73.02 L578.5 73.95 L578.7 74.51 L578.9 74.9 L579.1 75.2 L579.3 75.45 L579.5 75.66 L579.7 75.86 L579.9 76.03 L580.1 76.18 L580.3 76.32 L580.5 76.44 L580.7 76.54 L580.9 76.64 L581.1 76.72 L581.3 76.8 L581.5 76.86 L581.7 76.92 L581.9 76.98 L582.1 77.02 L582.3 77.07 L582.5 77.1 L582.7 77.14 L582.9 77.16 L583.1 77.19 L583.3 77.21 L583.5 77.23 L583.7 77.25 L583.9 77.27 L584.1 77.28 L584.3 77.32 L584.5 77.38 L584.7 77.44 L584.9 77.5 L585.7 77.73 L586.5 77.95 L587.3 78.16 L588.1 78.36" fill="none" stroke="#555" stroke-width="0.55"/>
<line x1="435.3" y1="75.8" x2="435.3" y2="85.8" stroke="#777" stroke-width="0.6"/>
<rect x="425" y="85.4" width="165" height="1" fill="#dcdcdc"/>
<rect x="425.5" y="86.2" width="164.5" height="42.2" fill="#f4f4f4"/>
<rect x="431.7" y="86.7" width="157.3" height="38.9" fill="#eeeeee"/>
<line x1="431.7" y1="86.7" x2="431.7" y2="125.6" stroke="#8c8c8c" stroke-width="0.7"/>
<line x1="430.1" y1="124.6" x2="431.7" y2="124.6" stroke="#a8a8a8" stroke-width="0.5"/>
<rect x="426.1" y="124.15" width="3.4" height="0.9" fill="#cdcdcd"/>
<line x1="430.1" y1="122" x2="431.7" y2="122" stroke="#a8a8a8" stroke-width="0.5"/>
<rect x="426.1" y="121.55" width="3.4" height="0.9" fill="#cdcdcd"/>
<line x1="430.1" y1="119.4" x2="431.7" y2="119.4" stroke="#a8a8a8" stroke-width="0.5"/>
<rect x="426.1" y="118.95" width="3.4" height="0.9" fill="#cdcdcd"/>
<line x1="430.1" y1="116.8" x2="431.7" y2="116.8" stroke="#a8a8a8" stroke-width="0.5"/>
<rect x="426.1" y="116.35" width="3.4" height="0.9" fill="#cdcdcd"/>
<line x1="430.1" y1="114.2" x2="431.7" y2="114.2" stroke="#a8a8a8" stroke-width="0.5"/>
<rect x="426.1" y="113.75" width="3.4" height="0.9" fill="#cdcdcd"/>
<line x1="430.1" y1="111.6" x2="431.7" y2="111.6" stroke="#a8a8a8" stroke-width="0.5"/>
<rect x="426.1" y="111.15" width="3.4" height="0.9" fill="#cdcdcd"/>
<line x1="430.1" y1="109" x2="431.7" y2="109" stroke="#a8a8a8" stroke-width="0.5"/>
<rect x="426.1" y="108.55" width="3.4" height="0.9" fill="#cdcdcd"/>
<line x1="430.1" y1="106.4" x2="431.7" y2="106.4" stroke="#a8a8a8" stroke-width="0.5"/>
<rect x="426.1" y="105.95" width="3.4" height="0.9" fill="#cdcdcd"/>
<line x1="430.1" y1="103.8" x2="431.7" y2="103.8" stroke="#a8a8a8" stroke-width="0.5"/>
<rect x="426.1" y="103.35" width="3.4" height="0.9" fill="#cdcdcd"/>
<line x1="430.1" y1="101.2" x2="431.7" y2="101.2" stroke="#a8a8a8" stroke-width="0.5"/>
<rect x="426.1" y="100.75" width="3.4" height="0.9" fill="#cdcdcd"/>
<line x1="430.1" y1="98.6" x2="431.7" y2="98.6" stroke="#a8a8a8" stroke-width="0.5"/>
<rect x="426.1" y="98.15" width="3.4" height="0.9" fill="#cdcdcd"/>
<line x1="430.1" y1="96" x2="431.7" y2="96" stroke="#a8a8a8" stroke-width="0.5"/>
<rect x="426.1" y="95.55" width="3.4" height="0.9" fill="#cdcdcd"/>
<line x1="430.1" y1="93.4" x2="431.7" y2="93.4" stroke="#a8a8a8" stroke-width="0.5"/>
<rect x="426.1" y="92.95" width="3.4" height="0.9" fill="#cdcdcd"/>
<line x1="430.1" y1="90.8" x2="431.7" y2="90.8" stroke="#a8a8a8" stroke-width="0.5"/>
<rect x="426.1" y="90.35" width="3.4" height="0.9" fill="#cdcdcd"/>
<line x1="430.1" y1="88.2" x2="431.7" y2="88.2" stroke="#a8a8a8" stroke-width="0.5"/>
<rect x="426.1" y="87.75" width="3.4" height="0.9" fill="#cdcdcd"/>
<line x1="432.7" y1="127" x2="435.2" y2="127" stroke="#b8b8b8" stroke-width="0.7"/>
<line x1="437.9" y1="127" x2="440.4" y2="127" stroke="#b8b8b8" stroke-width="0.7"/>
<line x1="443.1" y1="127" x2="445.6" y2="127" stroke="#b8b8b8" stroke-width="0.7"/>
<line x1="448.3" y1="127" x2="450.8" y2="127" stroke="#b8b8b8" stroke-width="0.7"/>
<line x1="453.5" y1="127" x2="456" y2="127" stroke="#b8b8b8" stroke-width="0.7"/>
<line x1="458.7" y1="127" x2="461.2" y2="127" stroke="#b8b8b8" stroke-width="0.7"/>
<line x1="463.9" y1="127" x2="466.4" y2="127" stroke="#b8b8b8" stroke-width="0.7"/>
<line x1="469.1" y1="127" x2="471.6" y2="127" stroke="#b8b8b8" stroke-width="0.7"/>
<line x1="474.3" y1="127" x2="476.8" y2="127" stroke="#b8b8b8" stroke-width="0.7"/>
<line x1="479.5" y1="127" x2="482" y2="127" stroke="#b8b8b8" stroke-width="0.7"/>
<line x1="484.7" y1="127" x2="487.2" y2="127" stroke="#b8b8b8" stroke-width="0.7"/>
<line x1="489.9" y1="127" x2="492.4" y2="127" stroke="#b8b8b8" stroke-width="0.7"/>
<line x1="495.1" y1="127" x2="497.6" y2="127" stroke="#b8b8b8" stroke-width="0.7"/>
<line x1="500.3" y1="127" x2="502.8" y2="127" stroke="#b8b8b8" stroke-width="0.7"/>
<line x1="505.5" y1="127" x2="508" y2="127" stroke="#b8b8b8" stroke-width="0.7"/>
<line x1="510.7" y1="127" x2="513.2" y2="127" stroke="#b8b8b8" stroke-width="0.7"/>
<line x1="515.9" y1="127" x2="518.4" y2="127" stroke="#b8b8b8" stroke-width="0.7"/>
<line x1="521.1" y1="127" x2="523.6" y2="127" stroke="#b8b8b8" stroke-width="0.7"/>
<line x1="526.3" y1="127" x2="528.8" y2="127" stroke="#b8b8b8" stroke-width="0.7"/>
<line x1="531.5" y1="127" x2="534" y2="127" stroke="#b8b8b8" stroke-width="0.7"/>
<line x1="536.7" y1="127" x2="539.2" y2="127" stroke="#b8b8b8" stroke-width="0.7"/>
<line x1="541.9" y1="127" x2="544.4" y2="127" stroke="#b8b8b8" stroke-width="0.7"/>
<line x1="547.1" y1="127" x2="549.6" y2="127" stroke="#b8b8b8" stroke-width="0.7"/>
<line x1="552.3" y1="127" x2="554.8" y2="127" stroke="#b8b8b8" stroke-width="0.7"/>
<line x1="557.5" y1="127" x2="560" y2="127" stroke="#b8b8b8" stroke-width="0.7"/>
<line x1="562.7" y1="127" x2="565.2" y2="127" stroke="#b8b8b8" stroke-width="0.7"/>
<line x1="567.9" y1="127" x2="570.4" y2="127" stroke="#b8b8b8" stroke-width="0.7"/>
<line x1="573.1" y1="127" x2="575.6" y2="127" stroke="#b8b8b8" stroke-width="0.7"/>
<line x1="578.3" y1="127" x2="580.8" y2="127" stroke="#b8b8b8" stroke-width="0.7"/>
<line x1="583.5" y1="127" x2="586" y2="127" stroke="#b8b8b8" stroke-width="0.7"/>
<path d="M431.7 116.6 L432.88 116.6 L434.07 116.6 L435.25 116.6 L436.44 116.6 L437.62 116.6 L438.81 116.6 L439.99 116.6 L441.17 116.6 L442.36 116.6 L443.54 116.6 L444.73 116.6 L445.91 116.6 L447.09 116.6 L448.28 116.6 L449.46 116.6 L450.65 116.6 L451.83 116.6 L453.01 116.6 L454.2 116.6 L455.38 116.6 L456.57 116.59 L457.75 116.59 L458.94 116.59 L460.12 116.59 L461.3 116.59 L462.49 116.59 L463.67 116.59 L464.86 116.59 L466.04 116.59 L467.22 116.58 L468.41 116.58 L469.59 116.58 L470.78 116.58 L471.96 116.58 L473.15 116.58 L474.33 116.57 L475.51 116.57 L476.7 116.57 L477.88 116.57 L479.07 116.56 L480.25 116.56 L481.44 116.56 L482.62 116.55 L483.8 116.55 L484.99 116.55 L486.17 116.54 L487.36 116.54 L488.54 116.54 L489.72 116.53 L490.91 116.53 L492.09 116.52 L493.28 116.52 L494.46 116.51 L495.64 116.51 L496.83 116.5 L498.01 116.5 L499.2 116.49 L500.38 116.49 L501.57 116.48 L502.75 116.47 L503.93 116.47 L505.12 116.46 L506.3 116.46 L507.49 116.45 L508.67 116.44 L509.85 116.43 L511.04 116.43 L512.22 116.42 L513.41 116.41 L514.59 116.4 L515.78 116.39 L516.96 116.38 L518.14 116.37 L519.33 116.37 L520.51 116.36 L521.7 116.35 L522.88 116.34 L524.06 116.33 L525.25 116.31 L526.43 116.3 L527.62 116.29 L528.8 116.28 L529.99 116.27 L531.17 116.26 L532.35 116.24 L533.54 116.23 L534.72 116.22 L535.91 116.21 L537.09 116.19 L538.27 116.18 L539.46 116.16 L540.64 116.15 L541.83 116.13 L543.01 116.12 L544.2 116.1 L545.38 116.09 L546.56 116.07 L547.75 116.06 L548.93 116.04 L550.12 116.02 L551.3 116 L552.49 115.99 L553.67 115.97 L554.85 115.95 L556.04 115.93 L557.22 115.91 L558.41 115.89 L559.59 115.87 L560.77 115.85 L561.96 115.83 L563.14 115.81 L564.33 115.79 L565.51 115.76 L566.69 115.74 L567.88 115.72 L569.06 115.7 L570.25 115.67 L571.43 115.65 L572.62 115.62 L573.8 115.6 L573.8 115.6 L573.9 115.6 L574 115.6 L574.1 115.6 L574.2 115.6 L574.3 115.6 L574.4 115.6 L574.5 115.6 L574.6 115.59 L574.7 115.59 L574.8 115.58 L574.9 115.55 L575 115.51 L575.1 115.43 L575.2 115.3 L575.3 115.08 L575.4 114.73 L575.5 114.19 L575.6 113.4 L575.7 112.3 L575.8 110.8 L575.9 108.87 L576 106.5 L576.1 103.71 L576.2 100.62 L576.3 97.39 L576.4 94.23 L576.5 91.4 L576.6 89.15 L576.7 87.7 L576.8 87.2 L576.9 87.52 L577.1 89.99 L577.3 94.34 L577.5 99.38 L577.7 104 L577.9 107.53 L578.1 109.9 L578.3 111.34 L578.5 112.2 L578.7 112.73 L578.9 113.1 L579.1 113.4 L579.3 113.65 L579.5 113.86 L579.7 114.06 L579.9 114.23 L580.1 114.38 L580.3 114.52 L580.5 114.64 L580.7 114.74 L580.9 114.84 L581.1 114.92 L581.3 115 L581.5 115.06 L581.7 115.12 L581.9 115.18 L582.1 115.22 L582.3 115.27 L582.5 115.3 L582.7 115.34 L582.9 115.36 L583.1 115.39 L583.3 115.41 L583.5 115.43 L583.7 115.45 L583.9 115.47 L584.1 115.48 L584.3 115.52 L584.5 115.58 L584.7 115.64 L584.9 115.7 L585.7 115.93 L586.5 116.15 L587.3 116.36 L588.1 116.56" fill="none" stroke="#555" stroke-width="0.55"/>
<line x1="436.5" y1="113.6" x2="436.5" y2="123.6" stroke="#777" stroke-width="0.6"/>
<rect x="425" y="128.4" width="165" height="1" fill="#dcdcdc"/>
<rect x="425.5" y="129.2" width="164.5" height="42.8" fill="#f4f4f4"/>
<rect x="431.7" y="129.7" width="157.3" height="39.3" fill="#eeeeee"/>
<line x1="431.7" y1="129.7" x2="431.7" y2="169" stroke="#8c8c8c" stroke-width="0.7"/>
<line x1="430.1" y1="168" x2="431.7" y2="168" stroke="#a8a8a8" stroke-width="0.5"/>
<rect x="426.1" y="167.55" width="3.4" height="0.9" fill="#cdcdcd"/>
<line x1="430.1" y1="165.4" x2="431.7" y2="165.4" stroke="#a8a8a8" stroke-width="0.5"/>
<rect x="426.1" y="164.95" width="3.4" height="0.9" fill="#cdcdcd"/>
<line x1="430.1" y1="162.8" x2="431.7" y2="162.8" stroke="#a8a8a8" stroke-width="0.5"/>
<rect x="426.1" y="162.35" width="3.4" height="0.9" fill="#cdcdcd"/>
<line x1="430.1" y1="160.2" x2="431.7" y2="160.2" stroke="#a8a8a8" stroke-width="0.5"/>
<rect x="426.1" y="159.75" width="3.4" height="0.9" fill="#cdcdcd"/>
<line x1="430.1" y1="157.6" x2="431.7" y2="157.6" stroke="#a8a8a8" stroke-width="0.5"/>
<rect x="426.1" y="157.15" width="3.4" height="0.9" fill="#cdcdcd"/>
<line x1="430.1" y1="155" x2="431.7" y2="155" stroke="#a8a8a8" stroke-width="0.5"/>
<rect x="426.1" y="154.55" width="3.4" height="0.9" fill="#cdcdcd"/>
<line x1="430.1" y1="152.4" x2="431.7" y2="152.4" stroke="#a8a8a8" stroke-width="0.5"/>
<rect x="426.1" y="151.95" width="3.4" height="0.9" fill="#cdcdcd"/>
<line x1="430.1" y1="149.8" x2="431.7" y2="149.8" stroke="#a8a8a8" stroke-width="0.5"/>
<rect x="426.1" y="149.35" width="3.4" height="0.9" fill="#cdcdcd"/>
<line x1="430.1" y1="147.2" x2="431.7" y2="147.2" stroke="#a8a8a8" stroke-width="0.5"/>
<rect x="426.1" y="146.75" width="3.4" height="0.9" fill="#cdcdcd"/>
<line x1="430.1" y1="144.6" x2="431.7" y2="144.6" stroke="#a8a8a8" stroke-width="0.5"/>
<rect x="426.1" y="144.15" width="3.4" height="0.9" fill="#cdcdcd"/>
<line x1="430.1" y1="142" x2="431.7" y2="142" stroke="#a8a8a8" stroke-width="0.5"/>
<rect x="426.1" y="141.55" width="3.4" height="0.9" fill="#cdcdcd"/>
<line x1="430.1" y1="139.4" x2="431.7" y2="139.4" stroke="#a8a8a8" stroke-width="0.5"/>
<rect x="426.1" y="138.95" width="3.4" height="0.9" fill="#cdcdcd"/>
<line x1="430.1" y1="136.8" x2="431.7" y2="136.8" stroke="#a8a8a8" stroke-width="0.5"/>
<rect x="426.1" y="136.35" width="3.4" height="0.9" fill="#cdcdcd"/>
<line x1="430.1" y1="134.2" x2="431.7" y2="134.2" stroke="#a8a8a8" stroke-width="0.5"/>
<rect x="426.1" y="133.75" width="3.4" height="0.9" fill="#cdcdcd"/>
<line x1="430.1" y1="131.6" x2="431.7" y2="131.6" stroke="#a8a8a8" stroke-width="0.5"/>
<rect x="426.1" y="131.15" width="3.4" height="0.9" fill="#cdcdcd"/>
<line x1="432.7" y1="170.4" x2="435.2" y2="170.4" stroke="#b8b8b8" stroke-width="0.7"/>
<line x1="437.9" y1="170.4" x2="440.4" y2="170.4" stroke="#b8b8b8" stroke-width="0.7"/>
<line x1="443.1" y1="170.4" x2="445.6" y2="170.4" stroke="#b8b8b8" stroke-width="0.7"/>
<line x1="448.3" y1="170.4" x2="450.8" y2="170.4" stroke="#b8b8b8" stroke-width="0.7"/>
<line x1="453.5" y1="170.4" x2="456" y2="170.4" stroke="#b8b8b8" stroke-width="0.7"/>
<line x1="458.7" y1="170.4" x2="461.2" y2="170.4" stroke="#b8b8b8" stroke-width="0.7"/>
<line x1="463.9" y1="170.4" x2="466.4" y2="170.4" stroke="#b8b8b8" stroke-width="0.7"/>
<line x1="469.1" y1="170.4" x2="471.6" y2="170.4" stroke="#b8b8b8" stroke-width="0.7"/>
<line x1="474.3" y1="170.4" x2="476.8" y2="170.4" stroke="#b8b8b8" stroke-width="0.7"/>
<line x1="479.5" y1="170.4" x2="482" y2="170.4" stroke="#b8b8b8" stroke-width="0.7"/>
<line x1="484.7" y1="170.4" x2="487.2" y2="170.4" stroke="#b8b8b8" stroke-width="0.7"/>
<line x1="489.9" y1="170.4" x2="492.4" y2="170.4" stroke="#b8b8b8" stroke-width="0.7"/>
<line x1="495.1" y1="170.4" x2="497.6" y2="170.4" stroke="#b8b8b8" stroke-width="0.7"/>
<line x1="500.3" y1="170.4" x2="502.8" y2="170.4" stroke="#b8b8b8" stroke-width="0.7"/>
<line x1="505.5" y1="170.4" x2="508" y2="170.4" stroke="#b8b8b8" stroke-width="0.7"/>
<line x1="510.7" y1="170.4" x2="513.2" y2="170.4" stroke="#b8b8b8" stroke-width="0.7"/>
<line x1="515.9" y1="170.4" x2="518.4" y2="170.4" stroke="#b8b8b8" stroke-width="0.7"/>
<line x1="521.1" y1="170.4" x2="523.6" y2="170.4" stroke="#b8b8b8" stroke-width="0.7"/>
<line x1="526.3" y1="170.4" x2="528.8" y2="170.4" stroke="#b8b8b8" stroke-width="0.7"/>
<line x1="531.5" y1="170.4" x2="534" y2="170.4" stroke="#b8b8b8" stroke-width="0.7"/>
<line x1="536.7" y1="170.4" x2="539.2" y2="170.4" stroke="#b8b8b8" stroke-width="0.7"/>
<line x1="541.9" y1="170.4" x2="544.4" y2="170.4" stroke="#b8b8b8" stroke-width="0.7"/>
<line x1="547.1" y1="170.4" x2="549.6" y2="170.4" stroke="#b8b8b8" stroke-width="0.7"/>
<line x1="552.3" y1="170.4" x2="554.8" y2="170.4" stroke="#b8b8b8" stroke-width="0.7"/>
<line x1="557.5" y1="170.4" x2="560" y2="170.4" stroke="#b8b8b8" stroke-width="0.7"/>
<line x1="562.7" y1="170.4" x2="565.2" y2="170.4" stroke="#b8b8b8" stroke-width="0.7"/>
<line x1="567.9" y1="170.4" x2="570.4" y2="170.4" stroke="#b8b8b8" stroke-width="0.7"/>
<line x1="573.1" y1="170.4" x2="575.6" y2="170.4" stroke="#b8b8b8" stroke-width="0.7"/>
<line x1="578.3" y1="170.4" x2="580.8" y2="170.4" stroke="#b8b8b8" stroke-width="0.7"/>
<line x1="583.5" y1="170.4" x2="586" y2="170.4" stroke="#b8b8b8" stroke-width="0.7"/>
<path d="M431.7 155.3 L432.88 155.3 L434.07 155.3 L435.25 155.3 L436.44 155.3 L437.62 155.3 L438.81 155.3 L439.99 155.3 L441.17 155.3 L442.36 155.3 L443.54 155.3 L444.73 155.3 L445.91 155.3 L447.09 155.3 L448.28 155.3 L449.46 155.3 L450.65 155.3 L451.83 155.3 L453.01 155.29 L454.2 155.29 L455.38 155.29 L456.57 155.29 L457.75 155.29 L458.94 155.29 L460.12 155.29 L461.3 155.29 L462.49 155.28 L463.67 155.28 L464.86 155.28 L466.04 155.28 L467.22 155.28 L468.41 155.27 L469.59 155.27 L470.78 155.27 L471.96 155.27 L473.15 155.26 L474.33 155.26 L475.51 155.26 L476.7 155.25 L477.88 155.25 L479.07 155.24 L480.25 155.24 L481.44 155.24 L482.62 155.23 L483.8 155.23 L484.99 155.22 L486.17 155.22 L487.36 155.21 L488.54 155.2 L489.72 155.2 L490.91 155.19 L492.09 155.18 L493.28 155.18 L494.46 155.17 L495.64 155.16 L496.83 155.16 L498.01 155.15 L499.2 155.14 L500.38 155.13 L501.57 155.12 L502.75 155.11 L503.93 155.1 L505.12 155.09 L506.3 155.08 L507.49 155.07 L508.67 155.06 L509.85 155.05 L511.04 155.04 L512.22 155.03 L513.41 155.01 L514.59 155 L515.78 154.99 L516.96 154.98 L518.14 154.96 L519.33 154.95 L520.51 154.93 L521.7 154.92 L522.88 154.9 L524.06 154.89 L525.25 154.87 L526.43 154.86 L527.62 154.84 L528.8 154.82 L529.99 154.8 L531.17 154.79 L532.35 154.77 L533.54 154.75 L534.72 154.73 L535.91 154.71 L537.09 154.69 L538.27 154.67 L539.46 154.65 L540.64 154.62 L541.83 154.6 L543.01 154.58 L544.2 154.56 L545.38 154.53 L546.56 154.51 L547.75 154.48 L548.93 154.46 L550.12 154.43 L551.3 154.41 L552.49 154.38 L553.67 154.35 L554.85 154.32 L556.04 154.3 L557.22 154.27 L558.41 154.24 L559.59 154.21 L560.77 154.18 L561.96 154.14 L563.14 154.11 L564.33 154.08 L565.51 154.05 L566.69 154.01 L567.88 153.98 L569.06 153.95 L570.25 153.91 L571.43 153.87 L572.62 153.84 L573.8 153.8 L573.8 153.8 L573.9 153.8 L574 153.8 L574.1 153.8 L574.2 153.8 L574.3 153.8 L574.4 153.8 L574.5 153.8 L574.6 153.8 L574.7 153.79 L574.8 153.78 L574.9 153.76 L575 153.73 L575.1 153.66 L575.2 153.55 L575.3 153.37 L575.4 153.08 L575.5 152.63 L575.6 151.98 L575.7 151.05 L575.8 149.81 L575.9 148.21 L576 146.24 L576.1 143.92 L576.2 141.36 L576.3 138.67 L576.4 136.04 L576.5 133.69 L576.6 131.82 L576.7 130.62 L576.8 130.2 L576.9 130.44 L577.1 132.36 L577.3 135.78 L577.5 139.81 L577.7 143.55 L577.9 146.46 L578.1 148.44 L578.3 149.69 L578.5 150.45 L578.7 150.95 L578.9 151.31 L579.1 151.6 L579.3 151.85 L579.5 152.06 L579.7 152.26 L579.9 152.43 L580.1 152.58 L580.3 152.72 L580.5 152.84 L580.7 152.94 L580.9 153.04 L581.1 153.12 L581.3 153.2 L581.5 153.26 L581.7 153.32 L581.9 153.38 L582.1 153.42 L582.3 153.47 L582.5 153.5 L582.7 153.54 L582.9 153.56 L583.1 153.59 L583.3 153.61 L583.5 153.63 L583.7 153.65 L583.9 153.67 L584.1 153.68 L584.3 153.72 L584.5 153.78 L584.7 153.84 L584.9 153.9 L585.7 154.13 L586.5 154.35 L587.3 154.56 L588.1 154.76" fill="none" stroke="#555" stroke-width="0.55"/>
<line x1="436.5" y1="152.3" x2="436.5" y2="162.3" stroke="#777" stroke-width="0.6"/>
<text x="459.7" y="25.6" font-size="8.2" font-weight="bold">Peak area: 154648.7</text>
<text x="459.7" y="71.6" font-size="8.2" font-weight="bold">Peak area: 303159.3</text>
<text x="459.7" y="109.7" font-size="8.2" font-weight="bold">Peak area: 102233.3</text>
<text x="460.9" y="150" font-size="8.2" font-weight="bold">Peak area: 70840.3</text>
<text x="649.2" y="28.6" font-size="6.6" font-weight="bold" text-anchor="middle">HEK 293T</text>
<line x1="613.2" y1="42.2" x2="613.2" y2="112.6" stroke="#222" stroke-width="0.8"/>
<line x1="613.2" y1="112.6" x2="684.6" y2="112.6" stroke="#222" stroke-width="0.8"/>
<line x1="611" y1="112.6" x2="613.2" y2="112.6" stroke="#222" stroke-width="0.7"/>
<text x="610.4" y="114.3" font-size="4.6" font-weight="bold" text-anchor="end" fill="#222">0</text>
<line x1="611" y1="98.52" x2="613.2" y2="98.52" stroke="#222" stroke-width="0.7"/>
<text x="610.4" y="100.22" font-size="4.6" font-weight="bold" text-anchor="end" fill="#222">5</text>
<line x1="611" y1="84.44" x2="613.2" y2="84.44" stroke="#222" stroke-width="0.7"/>
<text x="610.4" y="86.14" font-size="4.6" font-weight="bold" text-anchor="end" fill="#222">10</text>
<line x1="611" y1="70.36" x2="613.2" y2="70.36" stroke="#222" stroke-width="0.7"/>
<text x="610.4" y="72.06" font-size="4.6" font-weight="bold" text-anchor="end" fill="#222">15</text>
<line x1="611" y1="56.28" x2="613.2" y2="56.28" stroke="#222" stroke-width="0.7"/>
<text x="610.4" y="57.98" font-size="4.6" font-weight="bold" text-anchor="end" fill="#222">20</text>
<line x1="611" y1="42.2" x2="613.2" y2="42.2" stroke="#222" stroke-width="0.7"/>
<text x="610.4" y="43.9" font-size="4.6" font-weight="bold" text-anchor="end" fill="#222">25</text>
<text x="597.4" y="77.7" font-size="4.5" font-weight="bold" text-anchor="middle" fill="#222" transform="rotate(-90 597.4 77.7)">Cellular apigenin (mg/L)</text>
<path d="M618.5 112.6 L618.5 84.72 L630.5 84.72 L630.5 112.6" fill="none" stroke="#555" stroke-width="1.1"/>
<line x1="624.5" y1="112.6" x2="624.5" y2="114.8" stroke="#222" stroke-width="0.7"/>
<text x="625.9" y="117.9" font-size="4.6" font-weight="bold" text-anchor="end" fill="#222" transform="rotate(-45 625.9 117.9)">WT MUC1</text>
<path d="M635.4 112.6 L635.4 65.29 L647 65.29 L647 112.6" fill="none" stroke="#8a7a66" stroke-width="1.1"/>
<line x1="641.2" y1="112.6" x2="641.2" y2="114.8" stroke="#222" stroke-width="0.7"/>
<text x="642.6" y="117.9" font-size="4.6" font-weight="bold" text-anchor="end" fill="#222" transform="rotate(-45 642.6 117.9)">GlyMut</text>
<path d="M651.1 112.6 L651.1 91.48 L662.7 91.48 L662.7 112.6" fill="none" stroke="#4a72aa" stroke-width="1.1"/>
<line x1="656.9" y1="112.6" x2="656.9" y2="114.8" stroke="#222" stroke-width="0.7"/>
<text x="658.3" y="117.9" font-size="4.6" font-weight="bold" text-anchor="end" fill="#222" transform="rotate(-45 658.3 117.9)">USTR_MUC1</text>
<path d="M667.6 112.6 L667.6 95.99 L679.6 95.99 L679.6 112.6" fill="none" stroke="#e06868" stroke-width="1.1"/>
<line x1="673.6" y1="112.6" x2="673.6" y2="114.8" stroke="#222" stroke-width="0.7"/>
<text x="675" y="117.9" font-size="4.6" font-weight="bold" text-anchor="end" fill="#222" transform="rotate(-45 675 117.9)">15TR_MUC1</text>
<circle cx="620.5" cy="84.8" r="1.5" fill="#111"/>
<circle cx="624.5" cy="84.8" r="1.5" fill="#111"/>
<circle cx="628.5" cy="84.8" r="1.5" fill="#111"/>
<line x1="641.2" y1="57" x2="641.2" y2="76" stroke="#8a7a66" stroke-width="0.6"/>
<line x1="639.4" y1="57" x2="643" y2="57" stroke="#8a7a66" stroke-width="0.6"/>
<circle cx="636.8" cy="61.6" r="1.7" fill="#e8a050" stroke="#9a6a30" stroke-width="0.4"/>
<circle cx="645.2" cy="60.1" r="1.7" fill="#e8a050" stroke="#9a6a30" stroke-width="0.4"/>
<circle cx="640.7" cy="75.3" r="1.7" fill="#e8a050" stroke="#9a6a30" stroke-width="0.4"/>
<circle cx="653.5" cy="89.5" r="1.4" fill="#dde6f2" stroke="#4a72aa" stroke-width="0.7"/>
<circle cx="660.2" cy="89.5" r="1.4" fill="#dde6f2" stroke="#4a72aa" stroke-width="0.7"/>
<circle cx="656.9" cy="94.2" r="1.4" fill="#dde6f2" stroke="#4a72aa" stroke-width="0.7"/>
<line x1="656.9" y1="88.5" x2="656.9" y2="94.5" stroke="#4a72aa" stroke-width="0.6"/>
<circle cx="670" cy="94.6" r="1.4" fill="#f6d0d0" stroke="#e06868" stroke-width="0.7"/>
<circle cx="677" cy="94.6" r="1.4" fill="#f6d0d0" stroke="#e06868" stroke-width="0.7"/>
<circle cx="673.5" cy="97.2" r="1.4" fill="#f6d0d0" stroke="#e06868" stroke-width="0.7"/>
<line x1="622.5" y1="54.2" x2="642" y2="54.2" stroke="#999" stroke-width="0.7"/>
<text x="632.3" y="52.7" font-size="5" text-anchor="middle" fill="#333">*</text>
<line x1="622.5" y1="47.4" x2="659" y2="47.4" stroke="#333" stroke-width="0.7"/>
<text x="640.8" y="45.9" font-size="5" text-anchor="middle" fill="#333">*</text>
<line x1="622.5" y1="41" x2="676" y2="41" stroke="#999" stroke-width="0.7"/>
<text x="649.2" y="39.5" font-size="5" text-anchor="middle" fill="#333">***</text>
<text x="97.9" y="184" font-size="8.3" font-weight="bold" text-anchor="middle">Chrysin</text>
<line x1="37.8" y1="190.4" x2="37.8" y2="274.8" stroke="#222" stroke-width="0.9"/>
<line x1="37.8" y1="274.8" x2="164.8" y2="274.8" stroke="#222" stroke-width="0.9"/>
<line x1="35.4" y1="274.8" x2="37.8" y2="274.8" stroke="#222" stroke-width="0.8"/>
<text x="34.9" y="276.9" font-size="6" font-weight="bold" text-anchor="end" fill="#222">0.0</text>
<line x1="35.4" y1="253.7" x2="37.8" y2="253.7" stroke="#222" stroke-width="0.8"/>
<text x="34.9" y="255.8" font-size="6" font-weight="bold" text-anchor="end" fill="#222">0.3</text>
<line x1="35.4" y1="232.6" x2="37.8" y2="232.6" stroke="#222" stroke-width="0.8"/>
<text x="34.9" y="234.7" font-size="6" font-weight="bold" text-anchor="end" fill="#222">0.6</text>
<line x1="35.4" y1="211.5" x2="37.8" y2="211.5" stroke="#222" stroke-width="0.8"/>
<text x="34.9" y="213.6" font-size="6" font-weight="bold" text-anchor="end" fill="#222">0.9</text>
<line x1="35.4" y1="190.4" x2="37.8" y2="190.4" stroke="#222" stroke-width="0.8"/>
<text x="34.9" y="192.5" font-size="6" font-weight="bold" text-anchor="end" fill="#222">1.2</text>
<line x1="37.8" y1="274.8" x2="37.8" y2="277.2" stroke="#222" stroke-width="0.8"/>
<text x="37.8" y="284.2" font-size="6" font-weight="bold" text-anchor="middle" fill="#222">0</text>
<line x1="80.13" y1="274.8" x2="80.13" y2="277.2" stroke="#222" stroke-width="0.8"/>
<text x="80.13" y="284.2" font-size="6" font-weight="bold" text-anchor="middle" fill="#222">50</text>
<line x1="122.47" y1="274.8" x2="122.47" y2="277.2" stroke="#222" stroke-width="0.8"/>
<text x="122.47" y="284.2" font-size="6" font-weight="bold" text-anchor="middle" fill="#222">100</text>
<line x1="164.8" y1="274.8" x2="164.8" y2="277.2" stroke="#222" stroke-width="0.8"/>
<text x="164.8" y="284.2" font-size="6" font-weight="bold" text-anchor="middle" fill="#222">150</text>
<text x="101.8" y="294.4" font-size="5.6" font-weight="bold" text-anchor="middle" fill="#222">Concentration (μM)</text>
<text x="19.2" y="233.1" font-size="5.4" font-weight="bold" text-anchor="middle" fill="#222" transform="rotate(-90 19.2 233.1)">Cell viability</text>
<line x1="41.2" y1="191.7" x2="51" y2="191.7" stroke="#111" stroke-width="0.8"/>
<circle cx="46.1" cy="191.7" r="1.1" fill="#111"/>
<line x1="41.2" y1="197.8" x2="51" y2="197.8" stroke="#a8262a" stroke-width="0.8"/>
<path d="M46.1 196.5 L47.4 198.8 L44.8 198.8 Z" fill="#a8262a"/>
<text x="55.6" y="193.8" font-size="6" fill="#222">WT</text>
<text x="55.6" y="199.9" font-size="6" fill="#222">KO</text>
<path d="M37.8 204.47 L38.65 206.43 L39.49 208.27 L40.34 209.97 L41.19 211.5 L42.03 212.88 L42.88 214.14 L43.73 215.31 L44.57 216.42 L45.42 217.51 L46.27 218.57 L47.11 219.59 L47.96 220.59 L48.81 221.55 L49.65 222.46 L50.5 223.33 L51.35 224.16 L52.19 224.95 L53.04 225.72 L53.89 226.47 L54.73 227.21 L55.58 227.92 L56.43 228.62 L57.27 229.3 L58.12 229.96 L58.97 230.6 L59.81 231.23 L60.66 231.85 L61.51 232.45 L62.35 233.03 L63.2 233.61 L64.05 234.16 L64.89 234.71 L65.74 235.25 L66.59 235.78 L67.43 236.31 L68.28 236.84 L69.13 237.36 L69.97 237.88 L70.82 238.39 L71.67 238.9 L72.51 239.4 L73.36 239.89 L74.21 240.38 L75.05 240.87 L75.9 241.34 L76.75 241.81 L77.59 242.27 L78.44 242.73 L79.29 243.18 L80.13 243.62 L80.98 244.05 L81.83 244.47 L82.67 244.88 L83.52 245.29 L84.37 245.68 L85.21 246.07 L86.06 246.45 L86.91 246.81 L87.75 247.17 L88.6 247.51 L89.45 247.84 L90.29 248.17 L91.14 248.48 L91.99 248.78 L92.83 249.07 L93.68 249.35 L94.53 249.63 L95.37 249.91 L96.22 250.18 L97.07 250.45 L97.91 250.71 L98.76 250.97 L99.61 251.22 L100.45 251.47 L101.3 251.71 L102.15 251.95 L102.99 252.19 L103.84 252.42 L104.69 252.64 L105.53 252.86 L106.38 253.08 L107.23 253.29 L108.07 253.5 L108.92 253.7 L109.77 253.9 L110.61 254.1 L111.46 254.29 L112.31 254.47 L113.15 254.66 L114 254.83 L114.85 255.01 L115.69 255.18 L116.54 255.34 L117.39 255.5 L118.23 255.66 L119.08 255.81 L119.93 255.96 L120.77 256.11 L121.62 256.26 L122.47 256.4 L123.31 256.54 L124.16 256.69 L125.01 256.83 L125.85 256.97 L126.7 257.1 L127.55 257.24 L128.39 257.37 L129.24 257.5 L130.09 257.63 L130.93 257.75 L131.78 257.87 L132.63 257.99 L133.47 258.11 L134.32 258.23 L135.17 258.34 L136.01 258.44 L136.86 258.55 L137.71 258.65 L138.55 258.75 L139.4 258.84 L140.25 258.94 L141.09 259.02 L141.94 259.11 L142.79 259.19 L143.63 259.26 L144.48 259.34 L145.33 259.4 L146.17 259.47" fill="none" stroke="#111" stroke-width="1"/>
<path d="M37.8 206.58 L38.65 209.98 L39.49 213.14 L40.34 216 L41.19 218.53 L42.03 220.79 L42.88 222.84 L43.73 224.67 L44.57 226.27 L45.42 227.69 L46.27 229 L47.11 230.23 L47.96 231.37 L48.81 232.44 L49.65 233.47 L50.5 234.45 L51.35 235.41 L52.19 236.36 L53.04 237.3 L53.89 238.22 L54.73 239.13 L55.58 240.02 L56.43 240.89 L57.27 241.73 L58.12 242.56 L58.97 243.35 L59.81 244.13 L60.66 244.87 L61.51 245.58 L62.35 246.26 L63.2 246.9 L64.05 247.51 L64.89 248.07 L65.74 248.62 L66.59 249.15 L67.43 249.67 L68.28 250.18 L69.13 250.68 L69.97 251.17 L70.82 251.65 L71.67 252.12 L72.51 252.58 L73.36 253.03 L74.21 253.47 L75.05 253.9 L75.9 254.33 L76.75 254.74 L77.59 255.14 L78.44 255.54 L79.29 255.93 L80.13 256.3 L80.98 256.67 L81.83 257.03 L82.67 257.38 L83.52 257.73 L84.37 258.06 L85.21 258.39 L86.06 258.71 L86.91 259.02 L87.75 259.32 L88.6 259.62 L89.45 259.91 L90.29 260.19 L91.14 260.47 L91.99 260.73 L92.83 260.99 L93.68 261.25 L94.53 261.5 L95.37 261.75 L96.22 261.99 L97.07 262.23 L97.91 262.47 L98.76 262.7 L99.61 262.92 L100.45 263.14 L101.3 263.36 L102.15 263.58 L102.99 263.78 L103.84 263.99 L104.69 264.19 L105.53 264.39 L106.38 264.58 L107.23 264.77 L108.07 264.96 L108.92 265.14 L109.77 265.32 L110.61 265.49 L111.46 265.67 L112.31 265.83 L113.15 266 L114 266.16 L114.85 266.32 L115.69 266.47 L116.54 266.63 L117.39 266.77 L118.23 266.92 L119.08 267.06 L119.93 267.2 L120.77 267.34 L121.62 267.48 L122.47 267.62 L123.31 267.75 L124.16 267.89 L125.01 268.02 L125.85 268.15 L126.7 268.28 L127.55 268.41 L128.39 268.53 L129.24 268.65 L130.09 268.77 L130.93 268.89 L131.78 269.01 L132.63 269.12 L133.47 269.23 L134.32 269.34 L135.17 269.45 L136.01 269.56 L136.86 269.66 L137.71 269.76 L138.55 269.85 L139.4 269.95 L140.25 270.04 L141.09 270.12 L141.94 270.21 L142.79 270.29 L143.63 270.37 L144.48 270.44 L145.33 270.51 L146.17 270.58" fill="none" stroke="#a8262a" stroke-width="1"/>
<line x1="37.8" y1="206.58" x2="37.8" y2="202.36" stroke="#111" stroke-width="0.6"/>
<line x1="36.5" y1="202.36" x2="39.1" y2="202.36" stroke="#111" stroke-width="0.6"/>
<line x1="36.5" y1="206.58" x2="39.1" y2="206.58" stroke="#111" stroke-width="0.6"/>
<rect x="36.6" y="203.27" width="2.4" height="2.4" fill="#111"/>
<line x1="38.65" y1="210.8" x2="38.65" y2="205.17" stroke="#111" stroke-width="0.6"/>
<line x1="37.35" y1="205.17" x2="39.95" y2="205.17" stroke="#111" stroke-width="0.6"/>
<line x1="37.35" y1="210.8" x2="39.95" y2="210.8" stroke="#111" stroke-width="0.6"/>
<rect x="37.45" y="206.78" width="2.4" height="2.4" fill="#111"/>
<line x1="39.49" y1="213.61" x2="39.49" y2="209.39" stroke="#111" stroke-width="0.6"/>
<line x1="38.19" y1="209.39" x2="40.79" y2="209.39" stroke="#111" stroke-width="0.6"/>
<line x1="38.19" y1="213.61" x2="40.79" y2="213.61" stroke="#111" stroke-width="0.6"/>
<rect x="38.29" y="210.3" width="2.4" height="2.4" fill="#111"/>
<line x1="41.19" y1="216.42" x2="41.19" y2="212.2" stroke="#111" stroke-width="0.6"/>
<line x1="39.89" y1="212.2" x2="42.49" y2="212.2" stroke="#111" stroke-width="0.6"/>
<line x1="39.89" y1="216.42" x2="42.49" y2="216.42" stroke="#111" stroke-width="0.6"/>
<rect x="39.99" y="213.11" width="2.4" height="2.4" fill="#111"/>
<line x1="44.57" y1="219.59" x2="44.57" y2="215.37" stroke="#111" stroke-width="0.6"/>
<line x1="43.27" y1="215.37" x2="45.87" y2="215.37" stroke="#111" stroke-width="0.6"/>
<line x1="43.27" y1="219.59" x2="45.87" y2="219.59" stroke="#111" stroke-width="0.6"/>
<rect x="43.37" y="216.28" width="2.4" height="2.4" fill="#111"/>
<line x1="51.35" y1="231.19" x2="51.35" y2="225.57" stroke="#111" stroke-width="0.6"/>
<line x1="50.05" y1="225.57" x2="52.65" y2="225.57" stroke="#111" stroke-width="0.6"/>
<line x1="50.05" y1="231.19" x2="52.65" y2="231.19" stroke="#111" stroke-width="0.6"/>
<rect x="50.15" y="227.18" width="2.4" height="2.4" fill="#111"/>
<line x1="64.89" y1="237.73" x2="64.89" y2="232.11" stroke="#111" stroke-width="0.6"/>
<line x1="63.59" y1="232.11" x2="66.19" y2="232.11" stroke="#111" stroke-width="0.6"/>
<line x1="63.59" y1="237.73" x2="66.19" y2="237.73" stroke="#111" stroke-width="0.6"/>
<rect x="63.69" y="233.72" width="2.4" height="2.4" fill="#111"/>
<line x1="91.99" y1="249.97" x2="91.99" y2="241.53" stroke="#111" stroke-width="0.6"/>
<line x1="90.69" y1="241.53" x2="93.29" y2="241.53" stroke="#111" stroke-width="0.6"/>
<line x1="90.69" y1="249.97" x2="93.29" y2="249.97" stroke="#111" stroke-width="0.6"/>
<rect x="90.79" y="244.55" width="2.4" height="2.4" fill="#111"/>
<line x1="146.17" y1="261.86" x2="146.17" y2="259.05" stroke="#111" stroke-width="0.6"/>
<line x1="144.87" y1="259.05" x2="147.47" y2="259.05" stroke="#111" stroke-width="0.6"/>
<line x1="144.87" y1="261.86" x2="147.47" y2="261.86" stroke="#111" stroke-width="0.6"/>
<rect x="144.97" y="259.25" width="2.4" height="2.4" fill="#111"/>
<line x1="37.8" y1="213.61" x2="37.8" y2="199.54" stroke="#a8262a" stroke-width="0.6"/>
<line x1="36.5" y1="199.54" x2="39.1" y2="199.54" stroke="#a8262a" stroke-width="0.6"/>
<line x1="36.5" y1="213.61" x2="39.1" y2="213.61" stroke="#a8262a" stroke-width="0.6"/>
<path d="M37.8 205.08 L39.3 207.68 L36.3 207.68 Z" fill="#a8262a"/>
<line x1="38.65" y1="213.61" x2="38.65" y2="206.58" stroke="#a8262a" stroke-width="0.6"/>
<line x1="37.35" y1="206.58" x2="39.95" y2="206.58" stroke="#a8262a" stroke-width="0.6"/>
<line x1="37.35" y1="213.61" x2="39.95" y2="213.61" stroke="#a8262a" stroke-width="0.6"/>
<path d="M38.65 208.59 L40.15 211.19 L37.15 211.19 Z" fill="#a8262a"/>
<line x1="39.49" y1="215.72" x2="39.49" y2="210.09" stroke="#a8262a" stroke-width="0.6"/>
<line x1="38.19" y1="210.09" x2="40.79" y2="210.09" stroke="#a8262a" stroke-width="0.6"/>
<line x1="38.19" y1="215.72" x2="40.79" y2="215.72" stroke="#a8262a" stroke-width="0.6"/>
<path d="M39.49 211.41 L40.99 214.01 L37.99 214.01 Z" fill="#a8262a"/>
<line x1="41.19" y1="222.05" x2="41.19" y2="217.83" stroke="#a8262a" stroke-width="0.6"/>
<line x1="39.89" y1="217.83" x2="42.49" y2="217.83" stroke="#a8262a" stroke-width="0.6"/>
<line x1="39.89" y1="222.05" x2="42.49" y2="222.05" stroke="#a8262a" stroke-width="0.6"/>
<path d="M41.19 218.44 L42.69 221.04 L39.69 221.04 Z" fill="#a8262a"/>
<line x1="44.57" y1="231.9" x2="44.57" y2="227.68" stroke="#a8262a" stroke-width="0.6"/>
<line x1="43.27" y1="227.68" x2="45.87" y2="227.68" stroke="#a8262a" stroke-width="0.6"/>
<line x1="43.27" y1="231.9" x2="45.87" y2="231.9" stroke="#a8262a" stroke-width="0.6"/>
<path d="M44.57 228.29 L46.07 230.89 L43.07 230.89 Z" fill="#a8262a"/>
<line x1="51.35" y1="236.12" x2="51.35" y2="231.9" stroke="#a8262a" stroke-width="0.6"/>
<line x1="50.05" y1="231.9" x2="52.65" y2="231.9" stroke="#a8262a" stroke-width="0.6"/>
<line x1="50.05" y1="236.12" x2="52.65" y2="236.12" stroke="#a8262a" stroke-width="0.6"/>
<path d="M51.35 232.51 L52.85 235.11 L49.85 235.11 Z" fill="#a8262a"/>
<line x1="64.89" y1="254.05" x2="64.89" y2="245.61" stroke="#a8262a" stroke-width="0.6"/>
<line x1="63.59" y1="245.61" x2="66.19" y2="245.61" stroke="#a8262a" stroke-width="0.6"/>
<line x1="63.59" y1="254.05" x2="66.19" y2="254.05" stroke="#a8262a" stroke-width="0.6"/>
<path d="M64.89 248.33 L66.39 250.93 L63.39 250.93 Z" fill="#a8262a"/>
<line x1="91.99" y1="266.36" x2="91.99" y2="259.33" stroke="#a8262a" stroke-width="0.6"/>
<line x1="90.69" y1="259.33" x2="93.29" y2="259.33" stroke="#a8262a" stroke-width="0.6"/>
<line x1="90.69" y1="266.36" x2="93.29" y2="266.36" stroke="#a8262a" stroke-width="0.6"/>
<path d="M91.99 261.34 L93.49 263.94 L90.49 263.94 Z" fill="#a8262a"/>
<line x1="146.17" y1="271.42" x2="146.17" y2="270.02" stroke="#a8262a" stroke-width="0.6"/>
<line x1="144.87" y1="270.02" x2="147.47" y2="270.02" stroke="#a8262a" stroke-width="0.6"/>
<line x1="144.87" y1="271.42" x2="147.47" y2="271.42" stroke="#a8262a" stroke-width="0.6"/>
<path d="M146.17 269.22 L147.67 271.82 L144.67 271.82 Z" fill="#a8262a"/>
<text x="92" y="215.6" font-size="8.3" font-weight="bold">WT: 39.90 μM</text>
<text x="92" y="230" font-size="8.3" font-weight="bold">KO: 22.24 μM</text>
<text x="260.1" y="184" font-size="8.3" font-weight="bold" text-anchor="middle">Luteolin</text>
<line x1="201.8" y1="195" x2="201.8" y2="279.8" stroke="#222" stroke-width="0.9"/>
<line x1="201.8" y1="279.8" x2="328.7" y2="279.8" stroke="#222" stroke-width="0.9"/>
<line x1="199.4" y1="279.8" x2="201.8" y2="279.8" stroke="#222" stroke-width="0.8"/>
<text x="198.9" y="281.9" font-size="6" font-weight="bold" text-anchor="end" fill="#222">0.0</text>
<line x1="199.4" y1="251.53" x2="201.8" y2="251.53" stroke="#222" stroke-width="0.8"/>
<text x="198.9" y="253.63" font-size="6" font-weight="bold" text-anchor="end" fill="#222">0.5</text>
<line x1="199.4" y1="223.27" x2="201.8" y2="223.27" stroke="#222" stroke-width="0.8"/>
<text x="198.9" y="225.37" font-size="6" font-weight="bold" text-anchor="end" fill="#222">1.0</text>
<line x1="199.4" y1="195" x2="201.8" y2="195" stroke="#222" stroke-width="0.8"/>
<text x="198.9" y="197.1" font-size="6" font-weight="bold" text-anchor="end" fill="#222">1.5</text>
<line x1="201.8" y1="279.8" x2="201.8" y2="282.2" stroke="#222" stroke-width="0.8"/>
<text x="201.8" y="289.2" font-size="6" font-weight="bold" text-anchor="middle" fill="#222">0</text>
<line x1="244.1" y1="279.8" x2="244.1" y2="282.2" stroke="#222" stroke-width="0.8"/>
<text x="244.1" y="289.2" font-size="6" font-weight="bold" text-anchor="middle" fill="#222">50</text>
<line x1="286.4" y1="279.8" x2="286.4" y2="282.2" stroke="#222" stroke-width="0.8"/>
<text x="286.4" y="289.2" font-size="6" font-weight="bold" text-anchor="middle" fill="#222">100</text>
<line x1="328.7" y1="279.8" x2="328.7" y2="282.2" stroke="#222" stroke-width="0.8"/>
<text x="328.7" y="289.2" font-size="6" font-weight="bold" text-anchor="middle" fill="#222">150</text>
<text x="265.75" y="299.4" font-size="5.6" font-weight="bold" text-anchor="middle" fill="#222">Concentration (μM)</text>
<text x="183.2" y="237.9" font-size="5.4" font-weight="bold" text-anchor="middle" fill="#222" transform="rotate(-90 183.2 237.9)">Cell viability</text>
<line x1="205.2" y1="196.3" x2="215" y2="196.3" stroke="#111" stroke-width="0.8"/>
<circle cx="210.1" cy="196.3" r="1.1" fill="#111"/>
<line x1="205.2" y1="202.4" x2="215" y2="202.4" stroke="#a8262a" stroke-width="0.8"/>
<path d="M210.1 201.1 L211.4 203.4 L208.8 203.4 Z" fill="#a8262a"/>
<text x="219.6" y="198.4" font-size="6" fill="#222">WT</text>
<text x="219.6" y="204.5" font-size="6" fill="#222">KO</text>
<path d="M201.8 223.27 L202.65 224.45 L203.49 225.6 L204.34 226.71 L205.18 227.79 L206.03 228.83 L206.88 229.84 L207.72 230.81 L208.57 231.75 L209.41 232.66 L210.26 233.57 L211.11 234.47 L211.95 235.34 L212.8 236.19 L213.64 237.01 L214.49 237.79 L215.34 238.53 L216.18 239.24 L217.03 239.94 L217.87 240.63 L218.72 241.3 L219.57 241.96 L220.41 242.61 L221.26 243.24 L222.1 243.85 L222.95 244.45 L223.8 245.03 L224.64 245.6 L225.49 246.15 L226.33 246.67 L227.18 247.18 L228.03 247.67 L228.87 248.14 L229.72 248.6 L230.56 249.05 L231.41 249.49 L232.26 249.93 L233.1 250.36 L233.95 250.78 L234.79 251.2 L235.64 251.62 L236.49 252.02 L237.33 252.42 L238.18 252.82 L239.02 253.2 L239.87 253.58 L240.72 253.96 L241.56 254.32 L242.41 254.68 L243.25 255.04 L244.1 255.38 L244.95 255.72 L245.79 256.05 L246.64 256.38 L247.48 256.7 L248.33 257.01 L249.18 257.31 L250.02 257.6 L250.87 257.89 L251.71 258.17 L252.56 258.44 L253.41 258.7 L254.25 258.96 L255.1 259.21 L255.94 259.45 L256.79 259.68 L257.64 259.91 L258.48 260.13 L259.33 260.35 L260.17 260.57 L261.02 260.78 L261.87 260.99 L262.71 261.19 L263.56 261.39 L264.4 261.59 L265.25 261.78 L266.1 261.97 L266.94 262.15 L267.79 262.33 L268.63 262.51 L269.48 262.69 L270.33 262.86 L271.17 263.03 L272.02 263.19 L272.86 263.35 L273.71 263.51 L274.56 263.67 L275.4 263.82 L276.25 263.98 L277.09 264.12 L277.94 264.27 L278.79 264.41 L279.63 264.56 L280.48 264.7 L281.32 264.83 L282.17 264.97 L283.02 265.1 L283.86 265.23 L284.71 265.36 L285.55 265.49 L286.4 265.62 L287.25 265.75 L288.09 265.87 L288.94 266 L289.78 266.12 L290.63 266.24 L291.48 266.36 L292.32 266.48 L293.17 266.6 L294.01 266.71 L294.86 266.82 L295.71 266.94 L296.55 267.04 L297.4 267.15 L298.24 267.26 L299.09 267.36 L299.94 267.46 L300.78 267.56 L301.63 267.66 L302.47 267.75 L303.32 267.84 L304.17 267.93 L305.01 268.02 L305.86 268.11 L306.7 268.19 L307.55 268.27 L308.4 268.35 L309.24 268.42 L310.09 268.49" fill="none" stroke="#111" stroke-width="1"/>
<path d="M201.8 224.96 L202.65 226.63 L203.49 228.22 L204.34 229.74 L205.18 231.18 L206.03 232.54 L206.88 233.84 L207.72 235.08 L208.57 236.27 L209.41 237.44 L210.26 238.59 L211.11 239.73 L211.95 240.83 L212.8 241.9 L213.64 242.91 L214.49 243.87 L215.34 244.75 L216.18 245.58 L217.03 246.4 L217.87 247.2 L218.72 247.99 L219.57 248.75 L220.41 249.49 L221.26 250.21 L222.1 250.91 L222.95 251.58 L223.8 252.22 L224.64 252.84 L225.49 253.43 L226.33 253.99 L227.18 254.53 L228.03 255.02 L228.87 255.49 L229.72 255.93 L230.56 256.37 L231.41 256.79 L232.26 257.2 L233.1 257.61 L233.95 258 L234.79 258.39 L235.64 258.76 L236.49 259.13 L237.33 259.49 L238.18 259.84 L239.02 260.18 L239.87 260.51 L240.72 260.84 L241.56 261.16 L242.41 261.47 L243.25 261.77 L244.1 262.07 L244.95 262.36 L245.79 262.65 L246.64 262.93 L247.48 263.2 L248.33 263.47 L249.18 263.73 L250.02 263.99 L250.87 264.24 L251.71 264.49 L252.56 264.73 L253.41 264.97 L254.25 265.21 L255.1 265.44 L255.94 265.67 L256.79 265.89 L257.64 266.12 L258.48 266.34 L259.33 266.55 L260.17 266.77 L261.02 266.98 L261.87 267.19 L262.71 267.4 L263.56 267.6 L264.4 267.8 L265.25 268 L266.1 268.19 L266.94 268.38 L267.79 268.57 L268.63 268.75 L269.48 268.93 L270.33 269.11 L271.17 269.28 L272.02 269.45 L272.86 269.62 L273.71 269.78 L274.56 269.94 L275.4 270.1 L276.25 270.25 L277.09 270.4 L277.94 270.54 L278.79 270.68 L279.63 270.82 L280.48 270.95 L281.32 271.08 L282.17 271.2 L283.02 271.32 L283.86 271.44 L284.71 271.55 L285.55 271.67 L286.4 271.78 L287.25 271.9 L288.09 272.01 L288.94 272.12 L289.78 272.23 L290.63 272.33 L291.48 272.44 L292.32 272.54 L293.17 272.64 L294.01 272.74 L294.86 272.84 L295.71 272.93 L296.55 273.03 L297.4 273.12 L298.24 273.21 L299.09 273.29 L299.94 273.38 L300.78 273.46 L301.63 273.54 L302.47 273.61 L303.32 273.68 L304.17 273.75 L305.01 273.82 L305.86 273.88 L306.7 273.94 L307.55 274 L308.4 274.05 L309.24 274.1 L310.09 274.15" fill="none" stroke="#a8262a" stroke-width="1"/>
<line x1="201.8" y1="224.96" x2="201.8" y2="221.57" stroke="#111" stroke-width="0.6"/>
<line x1="200.5" y1="221.57" x2="203.1" y2="221.57" stroke="#111" stroke-width="0.6"/>
<line x1="200.5" y1="224.96" x2="203.1" y2="224.96" stroke="#111" stroke-width="0.6"/>
<rect x="200.6" y="222.07" width="2.4" height="2.4" fill="#111"/>
<line x1="202.65" y1="227.22" x2="202.65" y2="223.83" stroke="#111" stroke-width="0.6"/>
<line x1="201.35" y1="223.83" x2="203.95" y2="223.83" stroke="#111" stroke-width="0.6"/>
<line x1="201.35" y1="227.22" x2="203.95" y2="227.22" stroke="#111" stroke-width="0.6"/>
<rect x="201.45" y="224.33" width="2.4" height="2.4" fill="#111"/>
<line x1="203.49" y1="227.79" x2="203.49" y2="224.4" stroke="#111" stroke-width="0.6"/>
<line x1="202.19" y1="224.4" x2="204.79" y2="224.4" stroke="#111" stroke-width="0.6"/>
<line x1="202.19" y1="227.79" x2="204.79" y2="227.79" stroke="#111" stroke-width="0.6"/>
<rect x="202.29" y="224.89" width="2.4" height="2.4" fill="#111"/>
<line x1="205.18" y1="228.92" x2="205.18" y2="225.53" stroke="#111" stroke-width="0.6"/>
<line x1="203.88" y1="225.53" x2="206.48" y2="225.53" stroke="#111" stroke-width="0.6"/>
<line x1="203.88" y1="228.92" x2="206.48" y2="228.92" stroke="#111" stroke-width="0.6"/>
<rect x="203.98" y="226.02" width="2.4" height="2.4" fill="#111"/>
<line x1="208.57" y1="233.44" x2="208.57" y2="230.05" stroke="#111" stroke-width="0.6"/>
<line x1="207.27" y1="230.05" x2="209.87" y2="230.05" stroke="#111" stroke-width="0.6"/>
<line x1="207.27" y1="233.44" x2="209.87" y2="233.44" stroke="#111" stroke-width="0.6"/>
<rect x="207.37" y="230.55" width="2.4" height="2.4" fill="#111"/>
<line x1="215.34" y1="244.75" x2="215.34" y2="240.23" stroke="#111" stroke-width="0.6"/>
<line x1="214.04" y1="240.23" x2="216.64" y2="240.23" stroke="#111" stroke-width="0.6"/>
<line x1="214.04" y1="244.75" x2="216.64" y2="244.75" stroke="#111" stroke-width="0.6"/>
<rect x="214.14" y="241.29" width="2.4" height="2.4" fill="#111"/>
<line x1="228.87" y1="250.4" x2="228.87" y2="244.75" stroke="#111" stroke-width="0.6"/>
<line x1="227.57" y1="244.75" x2="230.17" y2="244.75" stroke="#111" stroke-width="0.6"/>
<line x1="227.57" y1="250.4" x2="230.17" y2="250.4" stroke="#111" stroke-width="0.6"/>
<rect x="227.67" y="246.38" width="2.4" height="2.4" fill="#111"/>
<line x1="255.94" y1="261.14" x2="255.94" y2="257.75" stroke="#111" stroke-width="0.6"/>
<line x1="254.64" y1="257.75" x2="257.24" y2="257.75" stroke="#111" stroke-width="0.6"/>
<line x1="254.64" y1="261.14" x2="257.24" y2="261.14" stroke="#111" stroke-width="0.6"/>
<rect x="254.74" y="258.25" width="2.4" height="2.4" fill="#111"/>
<line x1="310.09" y1="270.19" x2="310.09" y2="265.67" stroke="#111" stroke-width="0.6"/>
<line x1="308.79" y1="265.67" x2="311.39" y2="265.67" stroke="#111" stroke-width="0.6"/>
<line x1="308.79" y1="270.19" x2="311.39" y2="270.19" stroke="#111" stroke-width="0.6"/>
<rect x="308.89" y="266.73" width="2.4" height="2.4" fill="#111"/>
<line x1="201.8" y1="224.96" x2="201.8" y2="219.31" stroke="#a8262a" stroke-width="0.6"/>
<line x1="200.5" y1="219.31" x2="203.1" y2="219.31" stroke="#a8262a" stroke-width="0.6"/>
<line x1="200.5" y1="224.96" x2="203.1" y2="224.96" stroke="#a8262a" stroke-width="0.6"/>
<path d="M201.8 220.64 L203.3 223.24 L200.3 223.24 Z" fill="#a8262a"/>
<line x1="202.65" y1="232.31" x2="202.65" y2="227.79" stroke="#a8262a" stroke-width="0.6"/>
<line x1="201.35" y1="227.79" x2="203.95" y2="227.79" stroke="#a8262a" stroke-width="0.6"/>
<line x1="201.35" y1="232.31" x2="203.95" y2="232.31" stroke="#a8262a" stroke-width="0.6"/>
<path d="M202.65 228.55 L204.15 231.15 L201.15 231.15 Z" fill="#a8262a"/>
<line x1="203.49" y1="234.01" x2="203.49" y2="229.49" stroke="#a8262a" stroke-width="0.6"/>
<line x1="202.19" y1="229.49" x2="204.79" y2="229.49" stroke="#a8262a" stroke-width="0.6"/>
<line x1="202.19" y1="234.01" x2="204.79" y2="234.01" stroke="#a8262a" stroke-width="0.6"/>
<path d="M203.49 230.25 L204.99 232.85 L201.99 232.85 Z" fill="#a8262a"/>
<line x1="205.18" y1="237.97" x2="205.18" y2="231.18" stroke="#a8262a" stroke-width="0.6"/>
<line x1="203.88" y1="231.18" x2="206.48" y2="231.18" stroke="#a8262a" stroke-width="0.6"/>
<line x1="203.88" y1="237.97" x2="206.48" y2="237.97" stroke="#a8262a" stroke-width="0.6"/>
<path d="M205.18 233.07 L206.68 235.67 L203.68 235.67 Z" fill="#a8262a"/>
<line x1="208.57" y1="240.79" x2="208.57" y2="235.14" stroke="#a8262a" stroke-width="0.6"/>
<line x1="207.27" y1="235.14" x2="209.87" y2="235.14" stroke="#a8262a" stroke-width="0.6"/>
<line x1="207.27" y1="240.79" x2="209.87" y2="240.79" stroke="#a8262a" stroke-width="0.6"/>
<path d="M208.57 236.47 L210.07 239.07 L207.07 239.07 Z" fill="#a8262a"/>
<line x1="215.34" y1="249.27" x2="215.34" y2="245.88" stroke="#a8262a" stroke-width="0.6"/>
<line x1="214.04" y1="245.88" x2="216.64" y2="245.88" stroke="#a8262a" stroke-width="0.6"/>
<line x1="214.04" y1="249.27" x2="216.64" y2="249.27" stroke="#a8262a" stroke-width="0.6"/>
<path d="M215.34 246.08 L216.84 248.68 L213.84 248.68 Z" fill="#a8262a"/>
<line x1="228.87" y1="257.19" x2="228.87" y2="254.93" stroke="#a8262a" stroke-width="0.6"/>
<line x1="227.57" y1="254.93" x2="230.17" y2="254.93" stroke="#a8262a" stroke-width="0.6"/>
<line x1="227.57" y1="257.19" x2="230.17" y2="257.19" stroke="#a8262a" stroke-width="0.6"/>
<path d="M228.87 254.56 L230.37 257.16 L227.37 257.16 Z" fill="#a8262a"/>
<line x1="255.94" y1="269.06" x2="255.94" y2="266.8" stroke="#a8262a" stroke-width="0.6"/>
<line x1="254.64" y1="266.8" x2="257.24" y2="266.8" stroke="#a8262a" stroke-width="0.6"/>
<line x1="254.64" y1="269.06" x2="257.24" y2="269.06" stroke="#a8262a" stroke-width="0.6"/>
<path d="M255.94 266.43 L257.44 269.03 L254.44 269.03 Z" fill="#a8262a"/>
<line x1="310.09" y1="275.28" x2="310.09" y2="273.02" stroke="#a8262a" stroke-width="0.6"/>
<line x1="308.79" y1="273.02" x2="311.39" y2="273.02" stroke="#a8262a" stroke-width="0.6"/>
<line x1="308.79" y1="275.28" x2="311.39" y2="275.28" stroke="#a8262a" stroke-width="0.6"/>
<path d="M310.09 272.65 L311.59 275.25 L308.59 275.25 Z" fill="#a8262a"/>
<text x="256.2" y="215.6" font-size="8.3" font-weight="bold">WT: 39.99 μM</text>
<text x="256.2" y="230" font-size="8.3" font-weight="bold">KO: 27.33 μM</text>
<text x="414.6" y="184" font-size="8.3" font-weight="bold" text-anchor="middle">Diosmetin</text>
<line x1="364.4" y1="197.6" x2="364.4" y2="282.2" stroke="#222" stroke-width="0.9"/>
<line x1="364.4" y1="282.2" x2="491.9" y2="282.2" stroke="#222" stroke-width="0.9"/>
<line x1="362" y1="282.2" x2="364.4" y2="282.2" stroke="#222" stroke-width="0.8"/>
<text x="361.5" y="284.3" font-size="6" font-weight="bold" text-anchor="end" fill="#222">0.0</text>
<line x1="362" y1="254" x2="364.4" y2="254" stroke="#222" stroke-width="0.8"/>
<text x="361.5" y="256.1" font-size="6" font-weight="bold" text-anchor="end" fill="#222">0.5</text>
<line x1="362" y1="225.8" x2="364.4" y2="225.8" stroke="#222" stroke-width="0.8"/>
<text x="361.5" y="227.9" font-size="6" font-weight="bold" text-anchor="end" fill="#222">1.0</text>
<line x1="362" y1="197.6" x2="364.4" y2="197.6" stroke="#222" stroke-width="0.8"/>
<text x="361.5" y="199.7" font-size="6" font-weight="bold" text-anchor="end" fill="#222">1.5</text>
<line x1="364.4" y1="282.2" x2="364.4" y2="284.6" stroke="#222" stroke-width="0.8"/>
<text x="364.4" y="291.6" font-size="6" font-weight="bold" text-anchor="middle" fill="#222">0</text>
<line x1="406.9" y1="282.2" x2="406.9" y2="284.6" stroke="#222" stroke-width="0.8"/>
<text x="406.9" y="291.6" font-size="6" font-weight="bold" text-anchor="middle" fill="#222">50</text>
<line x1="449.4" y1="282.2" x2="449.4" y2="284.6" stroke="#222" stroke-width="0.8"/>
<text x="449.4" y="291.6" font-size="6" font-weight="bold" text-anchor="middle" fill="#222">100</text>
<line x1="491.9" y1="282.2" x2="491.9" y2="284.6" stroke="#222" stroke-width="0.8"/>
<text x="491.9" y="291.6" font-size="6" font-weight="bold" text-anchor="middle" fill="#222">150</text>
<text x="428.65" y="301.8" font-size="5.6" font-weight="bold" text-anchor="middle" fill="#222">Concentration (μM)</text>
<text x="345.8" y="240.4" font-size="5.4" font-weight="bold" text-anchor="middle" fill="#222" transform="rotate(-90 345.8 240.4)">Cell viability</text>
<line x1="367.8" y1="198.9" x2="377.6" y2="198.9" stroke="#111" stroke-width="0.8"/>
<circle cx="372.7" cy="198.9" r="1.1" fill="#111"/>
<line x1="367.8" y1="205" x2="377.6" y2="205" stroke="#a8262a" stroke-width="0.8"/>
<path d="M372.7 203.7 L374 206 L371.4 206 Z" fill="#a8262a"/>
<text x="382.2" y="201" font-size="6" fill="#222">WT</text>
<text x="382.2" y="207.1" font-size="6" fill="#222">KO</text>
<path d="M364.4 225.8 L365.25 226.03 L366.1 226.3 L366.95 226.6 L367.8 226.93 L368.65 227.3 L369.5 227.72 L370.35 228.17 L371.2 228.62 L372.05 229.09 L372.9 229.57 L373.75 230.08 L374.6 230.59 L375.45 231.1 L376.3 231.6 L377.15 232.1 L378 232.57 L378.85 233.02 L379.7 233.47 L380.55 233.91 L381.4 234.35 L382.25 234.78 L383.1 235.2 L383.95 235.62 L384.8 236.04 L385.65 236.46 L386.5 236.87 L387.35 237.28 L388.2 237.69 L389.05 238.1 L389.9 238.51 L390.75 238.92 L391.6 239.34 L392.45 239.75 L393.3 240.17 L394.15 240.59 L395 241.01 L395.85 241.44 L396.7 241.86 L397.55 242.29 L398.4 242.71 L399.25 243.14 L400.1 243.57 L400.95 243.99 L401.8 244.42 L402.65 244.84 L403.5 245.26 L404.35 245.68 L405.2 246.1 L406.05 246.52 L406.9 246.94 L407.75 247.35 L408.6 247.76 L409.45 248.16 L410.3 248.56 L411.15 248.96 L412 249.35 L412.85 249.74 L413.7 250.13 L414.55 250.5 L415.4 250.88 L416.25 251.24 L417.1 251.61 L417.95 251.96 L418.8 252.31 L419.65 252.65 L420.5 252.99 L421.35 253.33 L422.2 253.67 L423.05 254 L423.9 254.33 L424.75 254.66 L425.6 254.98 L426.45 255.31 L427.3 255.63 L428.15 255.94 L429 256.26 L429.85 256.57 L430.7 256.88 L431.55 257.19 L432.4 257.49 L433.25 257.79 L434.1 258.08 L434.95 258.38 L435.8 258.67 L436.65 258.96 L437.5 259.24 L438.35 259.52 L439.2 259.8 L440.05 260.07 L440.9 260.34 L441.75 260.61 L442.6 260.88 L443.45 261.14 L444.3 261.39 L445.15 261.65 L446 261.9 L446.85 262.14 L447.7 262.39 L448.55 262.63 L449.4 262.87 L450.25 263.11 L451.1 263.35 L451.95 263.59 L452.8 263.82 L453.65 264.05 L454.5 264.28 L455.35 264.5 L456.2 264.73 L457.05 264.95 L457.9 265.17 L458.75 265.39 L459.6 265.6 L460.45 265.81 L461.3 266.02 L462.15 266.23 L463 266.44 L463.85 266.64 L464.7 266.84 L465.55 267.03 L466.4 267.22 L467.25 267.42 L468.1 267.6 L468.95 267.79 L469.8 267.97 L470.65 268.15 L471.5 268.32 L472.35 268.49 L473.2 268.66" fill="none" stroke="#111" stroke-width="1"/>
<path d="M364.4 227.49 L365.25 228.29 L366.1 229.12 L366.95 229.98 L367.8 230.88 L368.65 231.83 L369.5 232.85 L370.35 233.86 L371.2 234.82 L372.05 235.74 L372.9 236.63 L373.75 237.51 L374.6 238.37 L375.45 239.21 L376.3 240.03 L377.15 240.82 L378 241.59 L378.85 242.35 L379.7 243.1 L380.55 243.85 L381.4 244.59 L382.25 245.32 L383.1 246.05 L383.95 246.76 L384.8 247.45 L385.65 248.13 L386.5 248.8 L387.35 249.44 L388.2 250.06 L389.05 250.66 L389.9 251.24 L390.75 251.79 L391.6 252.31 L392.45 252.81 L393.3 253.3 L394.15 253.79 L395 254.27 L395.85 254.74 L396.7 255.21 L397.55 255.66 L398.4 256.11 L399.25 256.56 L400.1 256.99 L400.95 257.42 L401.8 257.84 L402.65 258.25 L403.5 258.65 L404.35 259.05 L405.2 259.44 L406.05 259.82 L406.9 260.2 L407.75 260.57 L408.6 260.93 L409.45 261.28 L410.3 261.63 L411.15 261.97 L412 262.3 L412.85 262.63 L413.7 262.95 L414.55 263.26 L415.4 263.57 L416.25 263.86 L417.1 264.15 L417.95 264.44 L418.8 264.72 L419.65 264.99 L420.5 265.25 L421.35 265.52 L422.2 265.78 L423.05 266.03 L423.9 266.28 L424.75 266.53 L425.6 266.77 L426.45 267.01 L427.3 267.24 L428.15 267.48 L429 267.7 L429.85 267.93 L430.7 268.14 L431.55 268.36 L432.4 268.57 L433.25 268.78 L434.1 268.98 L434.95 269.18 L435.8 269.38 L436.65 269.58 L437.5 269.77 L438.35 269.95 L439.2 270.14 L440.05 270.32 L440.9 270.49 L441.75 270.67 L442.6 270.84 L443.45 271 L444.3 271.17 L445.15 271.33 L446 271.48 L446.85 271.64 L447.7 271.79 L448.55 271.95 L449.4 272.1 L450.25 272.25 L451.1 272.39 L451.95 272.54 L452.8 272.68 L453.65 272.83 L454.5 272.97 L455.35 273.1 L456.2 273.24 L457.05 273.37 L457.9 273.51 L458.75 273.64 L459.6 273.76 L460.45 273.89 L461.3 274.01 L462.15 274.13 L463 274.25 L463.85 274.36 L464.7 274.48 L465.55 274.59 L466.4 274.69 L467.25 274.8 L468.1 274.9 L468.95 274.99 L469.8 275.09 L470.65 275.18 L471.5 275.27 L472.35 275.35 L473.2 275.43" fill="none" stroke="#a8262a" stroke-width="1"/>
<line x1="364.4" y1="234.26" x2="364.4" y2="217.34" stroke="#111" stroke-width="0.6"/>
<line x1="363.1" y1="217.34" x2="365.7" y2="217.34" stroke="#111" stroke-width="0.6"/>
<line x1="363.1" y1="234.26" x2="365.7" y2="234.26" stroke="#111" stroke-width="0.6"/>
<rect x="363.2" y="224.6" width="2.4" height="2.4" fill="#111"/>
<line x1="365.25" y1="228.62" x2="365.25" y2="222.98" stroke="#111" stroke-width="0.6"/>
<line x1="363.95" y1="222.98" x2="366.55" y2="222.98" stroke="#111" stroke-width="0.6"/>
<line x1="363.95" y1="228.62" x2="366.55" y2="228.62" stroke="#111" stroke-width="0.6"/>
<rect x="364.05" y="224.6" width="2.4" height="2.4" fill="#111"/>
<line x1="366.1" y1="228.06" x2="366.1" y2="223.54" stroke="#111" stroke-width="0.6"/>
<line x1="364.8" y1="223.54" x2="367.4" y2="223.54" stroke="#111" stroke-width="0.6"/>
<line x1="364.8" y1="228.06" x2="367.4" y2="228.06" stroke="#111" stroke-width="0.6"/>
<rect x="364.9" y="224.6" width="2.4" height="2.4" fill="#111"/>
<line x1="367.8" y1="229.75" x2="367.8" y2="224.11" stroke="#111" stroke-width="0.6"/>
<line x1="366.5" y1="224.11" x2="369.1" y2="224.11" stroke="#111" stroke-width="0.6"/>
<line x1="366.5" y1="229.75" x2="369.1" y2="229.75" stroke="#111" stroke-width="0.6"/>
<rect x="366.6" y="225.73" width="2.4" height="2.4" fill="#111"/>
<line x1="371.2" y1="229.18" x2="371.2" y2="223.54" stroke="#111" stroke-width="0.6"/>
<line x1="369.9" y1="223.54" x2="372.5" y2="223.54" stroke="#111" stroke-width="0.6"/>
<line x1="369.9" y1="229.18" x2="372.5" y2="229.18" stroke="#111" stroke-width="0.6"/>
<rect x="370" y="225.16" width="2.4" height="2.4" fill="#111"/>
<line x1="378" y1="239.9" x2="378" y2="228.62" stroke="#111" stroke-width="0.6"/>
<line x1="376.7" y1="228.62" x2="379.3" y2="228.62" stroke="#111" stroke-width="0.6"/>
<line x1="376.7" y1="239.9" x2="379.3" y2="239.9" stroke="#111" stroke-width="0.6"/>
<rect x="376.8" y="233.06" width="2.4" height="2.4" fill="#111"/>
<line x1="391.6" y1="244.41" x2="391.6" y2="238.77" stroke="#111" stroke-width="0.6"/>
<line x1="390.3" y1="238.77" x2="392.9" y2="238.77" stroke="#111" stroke-width="0.6"/>
<line x1="390.3" y1="244.41" x2="392.9" y2="244.41" stroke="#111" stroke-width="0.6"/>
<rect x="390.4" y="240.39" width="2.4" height="2.4" fill="#111"/>
<line x1="418.8" y1="257.38" x2="418.8" y2="249.49" stroke="#111" stroke-width="0.6"/>
<line x1="417.5" y1="249.49" x2="420.1" y2="249.49" stroke="#111" stroke-width="0.6"/>
<line x1="417.5" y1="257.38" x2="420.1" y2="257.38" stroke="#111" stroke-width="0.6"/>
<rect x="417.6" y="252.24" width="2.4" height="2.4" fill="#111"/>
<line x1="473.2" y1="269.79" x2="473.2" y2="267.54" stroke="#111" stroke-width="0.6"/>
<line x1="471.9" y1="267.54" x2="474.5" y2="267.54" stroke="#111" stroke-width="0.6"/>
<line x1="471.9" y1="269.79" x2="474.5" y2="269.79" stroke="#111" stroke-width="0.6"/>
<rect x="472" y="267.46" width="2.4" height="2.4" fill="#111"/>
<line x1="364.4" y1="232" x2="364.4" y2="225.24" stroke="#a8262a" stroke-width="0.6"/>
<line x1="363.1" y1="225.24" x2="365.7" y2="225.24" stroke="#a8262a" stroke-width="0.6"/>
<line x1="363.1" y1="232" x2="365.7" y2="232" stroke="#a8262a" stroke-width="0.6"/>
<path d="M364.4 227.12 L365.9 229.72 L362.9 229.72 Z" fill="#a8262a"/>
<line x1="365.25" y1="232" x2="365.25" y2="227.49" stroke="#a8262a" stroke-width="0.6"/>
<line x1="363.95" y1="227.49" x2="366.55" y2="227.49" stroke="#a8262a" stroke-width="0.6"/>
<line x1="363.95" y1="232" x2="366.55" y2="232" stroke="#a8262a" stroke-width="0.6"/>
<path d="M365.25 228.25 L366.75 230.85 L363.75 230.85 Z" fill="#a8262a"/>
<line x1="366.1" y1="232.57" x2="366.1" y2="228.06" stroke="#a8262a" stroke-width="0.6"/>
<line x1="364.8" y1="228.06" x2="367.4" y2="228.06" stroke="#a8262a" stroke-width="0.6"/>
<line x1="364.8" y1="232.57" x2="367.4" y2="232.57" stroke="#a8262a" stroke-width="0.6"/>
<path d="M366.1 228.81 L367.6 231.41 L364.6 231.41 Z" fill="#a8262a"/>
<line x1="367.8" y1="234.26" x2="367.8" y2="230.88" stroke="#a8262a" stroke-width="0.6"/>
<line x1="366.5" y1="230.88" x2="369.1" y2="230.88" stroke="#a8262a" stroke-width="0.6"/>
<line x1="366.5" y1="234.26" x2="369.1" y2="234.26" stroke="#a8262a" stroke-width="0.6"/>
<path d="M367.8 231.07 L369.3 233.67 L366.3 233.67 Z" fill="#a8262a"/>
<line x1="371.2" y1="238.21" x2="371.2" y2="233.7" stroke="#a8262a" stroke-width="0.6"/>
<line x1="369.9" y1="233.7" x2="372.5" y2="233.7" stroke="#a8262a" stroke-width="0.6"/>
<line x1="369.9" y1="238.21" x2="372.5" y2="238.21" stroke="#a8262a" stroke-width="0.6"/>
<path d="M371.2 234.45 L372.7 237.05 L369.7 237.05 Z" fill="#a8262a"/>
<line x1="378" y1="242.16" x2="378" y2="238.77" stroke="#a8262a" stroke-width="0.6"/>
<line x1="376.7" y1="238.77" x2="379.3" y2="238.77" stroke="#a8262a" stroke-width="0.6"/>
<line x1="376.7" y1="242.16" x2="379.3" y2="242.16" stroke="#a8262a" stroke-width="0.6"/>
<path d="M378 238.96 L379.5 241.56 L376.5 241.56 Z" fill="#a8262a"/>
<line x1="391.6" y1="256.82" x2="391.6" y2="254.56" stroke="#a8262a" stroke-width="0.6"/>
<line x1="390.3" y1="254.56" x2="392.9" y2="254.56" stroke="#a8262a" stroke-width="0.6"/>
<line x1="390.3" y1="256.82" x2="392.9" y2="256.82" stroke="#a8262a" stroke-width="0.6"/>
<path d="M391.6 254.19 L393.1 256.79 L390.1 256.79 Z" fill="#a8262a"/>
<line x1="418.8" y1="266.97" x2="418.8" y2="263.59" stroke="#a8262a" stroke-width="0.6"/>
<line x1="417.5" y1="263.59" x2="420.1" y2="263.59" stroke="#a8262a" stroke-width="0.6"/>
<line x1="417.5" y1="266.97" x2="420.1" y2="266.97" stroke="#a8262a" stroke-width="0.6"/>
<path d="M418.8 263.78 L420.3 266.38 L417.3 266.38 Z" fill="#a8262a"/>
<line x1="473.2" y1="276.56" x2="473.2" y2="273.18" stroke="#a8262a" stroke-width="0.6"/>
<line x1="471.9" y1="273.18" x2="474.5" y2="273.18" stroke="#a8262a" stroke-width="0.6"/>
<line x1="471.9" y1="276.56" x2="474.5" y2="276.56" stroke="#a8262a" stroke-width="0.6"/>
<path d="M473.2 273.37 L474.7 275.97 L471.7 275.97 Z" fill="#a8262a"/>
<text x="420.9" y="215.6" font-size="8.3" font-weight="bold">WT: 147.4 μM</text>
<text x="420.9" y="230" font-size="8.3" font-weight="bold">KO: 46.96 μM</text>
<text x="595.6" y="184" font-size="8.3" font-weight="bold" text-anchor="middle">Quercetin</text>
<line x1="540.5" y1="200.2" x2="540.5" y2="284.8" stroke="#222" stroke-width="0.9"/>
<line x1="540.5" y1="284.8" x2="667.4" y2="284.8" stroke="#222" stroke-width="0.9"/>
<line x1="538.1" y1="284.8" x2="540.5" y2="284.8" stroke="#222" stroke-width="0.8"/>
<text x="537.6" y="286.9" font-size="6" font-weight="bold" text-anchor="end" fill="#222">0.0</text>
<line x1="538.1" y1="256.6" x2="540.5" y2="256.6" stroke="#222" stroke-width="0.8"/>
<text x="537.6" y="258.7" font-size="6" font-weight="bold" text-anchor="end" fill="#222">0.5</text>
<line x1="538.1" y1="228.4" x2="540.5" y2="228.4" stroke="#222" stroke-width="0.8"/>
<text x="537.6" y="230.5" font-size="6" font-weight="bold" text-anchor="end" fill="#222">1.0</text>
<line x1="538.1" y1="200.2" x2="540.5" y2="200.2" stroke="#222" stroke-width="0.8"/>
<text x="537.6" y="202.3" font-size="6" font-weight="bold" text-anchor="end" fill="#222">1.5</text>
<line x1="540.5" y1="284.8" x2="540.5" y2="287.2" stroke="#222" stroke-width="0.8"/>
<text x="540.5" y="294.2" font-size="6" font-weight="bold" text-anchor="middle" fill="#222">0</text>
<line x1="582.8" y1="284.8" x2="582.8" y2="287.2" stroke="#222" stroke-width="0.8"/>
<text x="582.8" y="294.2" font-size="6" font-weight="bold" text-anchor="middle" fill="#222">50</text>
<line x1="625.1" y1="284.8" x2="625.1" y2="287.2" stroke="#222" stroke-width="0.8"/>
<text x="625.1" y="294.2" font-size="6" font-weight="bold" text-anchor="middle" fill="#222">100</text>
<line x1="667.4" y1="284.8" x2="667.4" y2="287.2" stroke="#222" stroke-width="0.8"/>
<text x="667.4" y="294.2" font-size="6" font-weight="bold" text-anchor="middle" fill="#222">150</text>
<text x="604.45" y="304.4" font-size="5.6" font-weight="bold" text-anchor="middle" fill="#222">Concentration (μM)</text>
<text x="521.9" y="243" font-size="5.4" font-weight="bold" text-anchor="middle" fill="#222" transform="rotate(-90 521.9 243)">Cell viability</text>
<line x1="543.9" y1="201.5" x2="553.7" y2="201.5" stroke="#111" stroke-width="0.8"/>
<circle cx="548.8" cy="201.5" r="1.1" fill="#111"/>
<line x1="543.9" y1="207.6" x2="553.7" y2="207.6" stroke="#a8262a" stroke-width="0.8"/>
<path d="M548.8 206.3 L550.1 208.6 L547.5 208.6 Z" fill="#a8262a"/>
<text x="558.3" y="203.6" font-size="6" fill="#222">WT</text>
<text x="558.3" y="209.7" font-size="6" fill="#222">KO</text>
<path d="M540.5 224.45 L541.35 224.91 L542.19 225.39 L543.04 225.87 L543.88 226.36 L544.73 226.86 L545.58 227.36 L546.42 227.88 L547.27 228.4 L548.11 228.94 L548.96 229.51 L549.81 230.08 L550.65 230.67 L551.5 231.26 L552.34 231.83 L553.19 232.38 L554.04 232.91 L554.88 233.42 L555.73 233.92 L556.57 234.42 L557.42 234.91 L558.27 235.4 L559.11 235.88 L559.96 236.35 L560.8 236.81 L561.65 237.27 L562.5 237.72 L563.34 238.16 L564.19 238.6 L565.03 239.02 L565.88 239.44 L566.73 239.85 L567.57 240.24 L568.42 240.64 L569.26 241.03 L570.11 241.41 L570.96 241.8 L571.8 242.18 L572.65 242.56 L573.49 242.93 L574.34 243.3 L575.19 243.67 L576.03 244.03 L576.88 244.39 L577.72 244.75 L578.57 245.1 L579.42 245.45 L580.26 245.8 L581.11 246.14 L581.95 246.48 L582.8 246.81 L583.65 247.14 L584.49 247.46 L585.34 247.78 L586.18 248.1 L587.03 248.4 L587.88 248.71 L588.72 249.01 L589.57 249.3 L590.41 249.59 L591.26 249.88 L592.11 250.16 L592.95 250.43 L593.8 250.7 L594.64 250.96 L595.49 251.22 L596.34 251.47 L597.18 251.72 L598.03 251.97 L598.87 252.22 L599.72 252.46 L600.57 252.7 L601.41 252.93 L602.26 253.16 L603.1 253.39 L603.95 253.62 L604.8 253.84 L605.64 254.06 L606.49 254.28 L607.33 254.49 L608.18 254.7 L609.03 254.91 L609.87 255.12 L610.72 255.32 L611.56 255.52 L612.41 255.72 L613.26 255.92 L614.1 256.11 L614.95 256.3 L615.79 256.49 L616.64 256.67 L617.49 256.85 L618.33 257.03 L619.18 257.21 L620.02 257.38 L620.87 257.56 L621.72 257.73 L622.56 257.9 L623.41 258.06 L624.25 258.23 L625.1 258.39 L625.95 258.56 L626.79 258.72 L627.64 258.88 L628.48 259.04 L629.33 259.19 L630.18 259.35 L631.02 259.5 L631.87 259.65 L632.71 259.8 L633.56 259.95 L634.41 260.09 L635.25 260.24 L636.1 260.38 L636.94 260.52 L637.79 260.66 L638.64 260.79 L639.48 260.93 L640.33 261.06 L641.17 261.19 L642.02 261.31 L642.87 261.44 L643.71 261.56 L644.56 261.68 L645.4 261.8 L646.25 261.91 L647.1 262.02 L647.94 262.13 L648.79 262.24" fill="none" stroke="#111" stroke-width="1"/>
<path d="M540.5 229.53 L541.35 230.32 L542.19 231.15 L543.04 232.02 L543.88 232.91 L544.73 233.86 L545.58 234.86 L546.42 235.88 L547.27 236.86 L548.11 237.82 L548.96 238.8 L549.81 239.78 L550.65 240.74 L551.5 241.67 L552.34 242.57 L553.19 243.41 L554.04 244.19 L554.88 244.93 L555.73 245.66 L556.57 246.38 L557.42 247.08 L558.27 247.78 L559.11 248.45 L559.96 249.1 L560.8 249.74 L561.65 250.35 L562.5 250.93 L563.34 251.49 L564.19 252.01 L565.03 252.51 L565.88 252.97 L566.73 253.39 L567.57 253.78 L568.42 254.14 L569.26 254.49 L570.11 254.83 L570.96 255.16 L571.8 255.48 L572.65 255.8 L573.49 256.1 L574.34 256.39 L575.19 256.68 L576.03 256.96 L576.88 257.23 L577.72 257.49 L578.57 257.75 L579.42 258 L580.26 258.24 L581.11 258.48 L581.95 258.71 L582.8 258.93 L583.65 259.15 L584.49 259.37 L585.34 259.58 L586.18 259.78 L587.03 259.99 L587.88 260.18 L588.72 260.38 L589.57 260.57 L590.41 260.76 L591.26 260.95 L592.11 261.13 L592.95 261.31 L593.8 261.5 L594.64 261.68 L595.49 261.85 L596.34 262.03 L597.18 262.2 L598.03 262.37 L598.87 262.54 L599.72 262.7 L600.57 262.87 L601.41 263.03 L602.26 263.18 L603.1 263.34 L603.95 263.49 L604.8 263.64 L605.64 263.79 L606.49 263.93 L607.33 264.08 L608.18 264.22 L609.03 264.35 L609.87 264.49 L610.72 264.62 L611.56 264.76 L612.41 264.89 L613.26 265.01 L614.1 265.14 L614.95 265.26 L615.79 265.39 L616.64 265.51 L617.49 265.62 L618.33 265.74 L619.18 265.85 L620.02 265.97 L620.87 266.08 L621.72 266.19 L622.56 266.3 L623.41 266.4 L624.25 266.51 L625.1 266.61 L625.95 266.72 L626.79 266.82 L627.64 266.92 L628.48 267.02 L629.33 267.12 L630.18 267.22 L631.02 267.32 L631.87 267.42 L632.71 267.51 L633.56 267.6 L634.41 267.69 L635.25 267.79 L636.1 267.87 L636.94 267.96 L637.79 268.05 L638.64 268.13 L639.48 268.21 L640.33 268.3 L641.17 268.37 L642.02 268.45 L642.87 268.53 L643.71 268.6 L644.56 268.67 L645.4 268.75 L646.25 268.81 L647.1 268.88 L647.94 268.95 L648.79 269.01" fill="none" stroke="#a8262a" stroke-width="1"/>
<line x1="540.5" y1="229.53" x2="540.5" y2="227.27" stroke="#111" stroke-width="0.6"/>
<line x1="539.2" y1="227.27" x2="541.8" y2="227.27" stroke="#111" stroke-width="0.6"/>
<line x1="539.2" y1="229.53" x2="541.8" y2="229.53" stroke="#111" stroke-width="0.6"/>
<rect x="539.3" y="227.2" width="2.4" height="2.4" fill="#111"/>
<line x1="541.35" y1="228.96" x2="541.35" y2="225.58" stroke="#111" stroke-width="0.6"/>
<line x1="540.05" y1="225.58" x2="542.65" y2="225.58" stroke="#111" stroke-width="0.6"/>
<line x1="540.05" y1="228.96" x2="542.65" y2="228.96" stroke="#111" stroke-width="0.6"/>
<rect x="540.15" y="226.07" width="2.4" height="2.4" fill="#111"/>
<line x1="542.19" y1="227.84" x2="542.19" y2="224.45" stroke="#111" stroke-width="0.6"/>
<line x1="540.89" y1="224.45" x2="543.49" y2="224.45" stroke="#111" stroke-width="0.6"/>
<line x1="540.89" y1="227.84" x2="543.49" y2="227.84" stroke="#111" stroke-width="0.6"/>
<rect x="540.99" y="224.94" width="2.4" height="2.4" fill="#111"/>
<line x1="543.88" y1="227.84" x2="543.88" y2="223.32" stroke="#111" stroke-width="0.6"/>
<line x1="542.58" y1="223.32" x2="545.18" y2="223.32" stroke="#111" stroke-width="0.6"/>
<line x1="542.58" y1="227.84" x2="545.18" y2="227.84" stroke="#111" stroke-width="0.6"/>
<rect x="542.68" y="224.38" width="2.4" height="2.4" fill="#111"/>
<line x1="547.27" y1="225.58" x2="547.27" y2="219.94" stroke="#111" stroke-width="0.6"/>
<line x1="545.97" y1="219.94" x2="548.57" y2="219.94" stroke="#111" stroke-width="0.6"/>
<line x1="545.97" y1="225.58" x2="548.57" y2="225.58" stroke="#111" stroke-width="0.6"/>
<rect x="546.07" y="221.56" width="2.4" height="2.4" fill="#111"/>
<line x1="554.04" y1="230.09" x2="554.04" y2="223.32" stroke="#111" stroke-width="0.6"/>
<line x1="552.74" y1="223.32" x2="555.34" y2="223.32" stroke="#111" stroke-width="0.6"/>
<line x1="552.74" y1="230.09" x2="555.34" y2="230.09" stroke="#111" stroke-width="0.6"/>
<rect x="552.84" y="225.51" width="2.4" height="2.4" fill="#111"/>
<line x1="567.57" y1="248.7" x2="567.57" y2="245.32" stroke="#111" stroke-width="0.6"/>
<line x1="566.27" y1="245.32" x2="568.87" y2="245.32" stroke="#111" stroke-width="0.6"/>
<line x1="566.27" y1="248.7" x2="568.87" y2="248.7" stroke="#111" stroke-width="0.6"/>
<rect x="566.37" y="245.81" width="2.4" height="2.4" fill="#111"/>
<line x1="594.64" y1="256.6" x2="594.64" y2="250.96" stroke="#111" stroke-width="0.6"/>
<line x1="593.34" y1="250.96" x2="595.94" y2="250.96" stroke="#111" stroke-width="0.6"/>
<line x1="593.34" y1="256.6" x2="595.94" y2="256.6" stroke="#111" stroke-width="0.6"/>
<rect x="593.44" y="252.58" width="2.4" height="2.4" fill="#111"/>
<line x1="648.79" y1="263.37" x2="648.79" y2="257.73" stroke="#111" stroke-width="0.6"/>
<line x1="647.49" y1="257.73" x2="650.09" y2="257.73" stroke="#111" stroke-width="0.6"/>
<line x1="647.49" y1="263.37" x2="650.09" y2="263.37" stroke="#111" stroke-width="0.6"/>
<rect x="647.59" y="259.35" width="2.4" height="2.4" fill="#111"/>
<line x1="540.5" y1="231.22" x2="540.5" y2="227.84" stroke="#a8262a" stroke-width="0.6"/>
<line x1="539.2" y1="227.84" x2="541.8" y2="227.84" stroke="#a8262a" stroke-width="0.6"/>
<line x1="539.2" y1="231.22" x2="541.8" y2="231.22" stroke="#a8262a" stroke-width="0.6"/>
<path d="M540.5 228.03 L542 230.63 L539 230.63 Z" fill="#a8262a"/>
<line x1="541.35" y1="231.78" x2="541.35" y2="228.4" stroke="#a8262a" stroke-width="0.6"/>
<line x1="540.05" y1="228.4" x2="542.65" y2="228.4" stroke="#a8262a" stroke-width="0.6"/>
<line x1="540.05" y1="231.78" x2="542.65" y2="231.78" stroke="#a8262a" stroke-width="0.6"/>
<path d="M541.35 228.59 L542.85 231.19 L539.85 231.19 Z" fill="#a8262a"/>
<line x1="542.19" y1="232.35" x2="542.19" y2="228.96" stroke="#a8262a" stroke-width="0.6"/>
<line x1="540.89" y1="228.96" x2="543.49" y2="228.96" stroke="#a8262a" stroke-width="0.6"/>
<line x1="540.89" y1="232.35" x2="543.49" y2="232.35" stroke="#a8262a" stroke-width="0.6"/>
<path d="M542.19 229.16 L543.69 231.76 L540.69 231.76 Z" fill="#a8262a"/>
<line x1="543.88" y1="232.91" x2="543.88" y2="229.53" stroke="#a8262a" stroke-width="0.6"/>
<line x1="542.58" y1="229.53" x2="545.18" y2="229.53" stroke="#a8262a" stroke-width="0.6"/>
<line x1="542.58" y1="232.91" x2="545.18" y2="232.91" stroke="#a8262a" stroke-width="0.6"/>
<path d="M543.88 229.72 L545.38 232.32 L542.38 232.32 Z" fill="#a8262a"/>
<line x1="547.27" y1="239.12" x2="547.27" y2="235.73" stroke="#a8262a" stroke-width="0.6"/>
<line x1="545.97" y1="235.73" x2="548.57" y2="235.73" stroke="#a8262a" stroke-width="0.6"/>
<line x1="545.97" y1="239.12" x2="548.57" y2="239.12" stroke="#a8262a" stroke-width="0.6"/>
<path d="M547.27 235.92 L548.77 238.52 L545.77 238.52 Z" fill="#a8262a"/>
<line x1="554.04" y1="253.22" x2="554.04" y2="245.32" stroke="#a8262a" stroke-width="0.6"/>
<line x1="552.74" y1="245.32" x2="555.34" y2="245.32" stroke="#a8262a" stroke-width="0.6"/>
<line x1="552.74" y1="253.22" x2="555.34" y2="253.22" stroke="#a8262a" stroke-width="0.6"/>
<path d="M554.04 247.77 L555.54 250.37 L552.54 250.37 Z" fill="#a8262a"/>
<line x1="567.57" y1="257.73" x2="567.57" y2="253.22" stroke="#a8262a" stroke-width="0.6"/>
<line x1="566.27" y1="253.22" x2="568.87" y2="253.22" stroke="#a8262a" stroke-width="0.6"/>
<line x1="566.27" y1="257.73" x2="568.87" y2="257.73" stroke="#a8262a" stroke-width="0.6"/>
<path d="M567.57 253.97 L569.07 256.57 L566.07 256.57 Z" fill="#a8262a"/>
<line x1="594.64" y1="265.06" x2="594.64" y2="258.29" stroke="#a8262a" stroke-width="0.6"/>
<line x1="593.34" y1="258.29" x2="595.94" y2="258.29" stroke="#a8262a" stroke-width="0.6"/>
<line x1="593.34" y1="265.06" x2="595.94" y2="265.06" stroke="#a8262a" stroke-width="0.6"/>
<path d="M594.64 260.18 L596.14 262.78 L593.14 262.78 Z" fill="#a8262a"/>
<line x1="648.79" y1="273.52" x2="648.79" y2="264.5" stroke="#a8262a" stroke-width="0.6"/>
<line x1="647.49" y1="264.5" x2="650.09" y2="264.5" stroke="#a8262a" stroke-width="0.6"/>
<line x1="647.49" y1="273.52" x2="650.09" y2="273.52" stroke="#a8262a" stroke-width="0.6"/>
<path d="M648.79 267.51 L650.29 270.11 L647.29 270.11 Z" fill="#a8262a"/>
<text x="589.6" y="215.6" font-size="8.3" font-weight="bold">WT: 90.18 μM</text>
<text x="589.6" y="230" font-size="8.3" font-weight="bold">KO: 24.49 μM</text>
<text x="-0.5" y="184" font-size="9.6" font-weight="bold">C</text>
<line x1="37.8" y1="316.6" x2="37.8" y2="403.4" stroke="#222" stroke-width="0.9"/>
<line x1="37.8" y1="403.4" x2="164.8" y2="403.4" stroke="#222" stroke-width="0.9"/>
<line x1="35.4" y1="403.4" x2="37.8" y2="403.4" stroke="#222" stroke-width="0.8"/>
<text x="35" y="405.3" font-size="5.4" font-weight="bold" text-anchor="end" fill="#222">0.0</text>
<line x1="35.4" y1="374.47" x2="37.8" y2="374.47" stroke="#222" stroke-width="0.8"/>
<text x="35" y="376.37" font-size="5.4" font-weight="bold" text-anchor="end" fill="#222">0.5</text>
<line x1="35.4" y1="345.53" x2="37.8" y2="345.53" stroke="#222" stroke-width="0.8"/>
<text x="35" y="347.43" font-size="5.4" font-weight="bold" text-anchor="end" fill="#222">1.0</text>
<line x1="35.4" y1="316.6" x2="37.8" y2="316.6" stroke="#222" stroke-width="0.8"/>
<text x="35" y="318.5" font-size="5.4" font-weight="bold" text-anchor="end" fill="#222">1.5</text>
<text x="19.4" y="360.5" font-size="5.8" font-weight="bold" text-anchor="middle" fill="#222" transform="rotate(-90 19.4 360.5)">Cell viability</text>
<path d="M41.6 403.4 L41.6 346.11 L51.5 346.11 L51.5 403.4" fill="none" stroke="#1a1a1a" stroke-width="1.2"/>
<line x1="46.55" y1="347.85" x2="46.55" y2="344.38" stroke="#1a1a1a" stroke-width="0.6"/>
<line x1="44.55" y1="344.38" x2="48.55" y2="344.38" stroke="#1a1a1a" stroke-width="0.6"/>
<circle cx="43.74" cy="345.88" r="1.35" fill="#111111"/>
<circle cx="46.45" cy="345.57" r="1.35" fill="#111111"/>
<circle cx="49.25" cy="348.37" r="1.35" fill="#111111"/>
<circle cx="43.56" cy="344.35" r="1.35" fill="#111111"/>
<circle cx="46.36" cy="347.5" r="1.35" fill="#111111"/>
<circle cx="49.55" cy="346.27" r="1.35" fill="#111111"/>
<path d="M55.9 403.4 L55.9 347.27 L65.8 347.27 L65.8 403.4" fill="none" stroke="#a6998a" stroke-width="1.2"/>
<line x1="60.85" y1="349.01" x2="60.85" y2="345.53" stroke="#a6998a" stroke-width="0.6"/>
<line x1="58.85" y1="345.53" x2="62.85" y2="345.53" stroke="#a6998a" stroke-width="0.6"/>
<circle cx="58.52" cy="347.39" r="1.35" fill="#f0a040"/>
<circle cx="60.96" cy="349.09" r="1.35" fill="#f0a040"/>
<circle cx="63.56" cy="345.35" r="1.35" fill="#f0a040"/>
<circle cx="58.27" cy="346.01" r="1.35" fill="#f0a040"/>
<circle cx="60.99" cy="349.54" r="1.35" fill="#f0a040"/>
<circle cx="63.66" cy="346.79" r="1.35" fill="#f0a040"/>
<path d="M70.7 403.4 L70.7 368.68 L80.6 368.68 L80.6 403.4" fill="none" stroke="#5b86c4" stroke-width="1.2"/>
<line x1="75.65" y1="370.13" x2="75.65" y2="367.23" stroke="#5b86c4" stroke-width="0.6"/>
<line x1="73.65" y1="367.23" x2="77.65" y2="367.23" stroke="#5b86c4" stroke-width="0.6"/>
<circle cx="72.89" cy="371.12" r="1.35" fill="#86aee0"/>
<circle cx="75.94" cy="368.82" r="1.35" fill="#86aee0"/>
<circle cx="78.43" cy="366.71" r="1.35" fill="#86aee0"/>
<circle cx="73.22" cy="366.49" r="1.35" fill="#86aee0"/>
<circle cx="75.57" cy="367.11" r="1.35" fill="#86aee0"/>
<circle cx="78.21" cy="366.41" r="1.35" fill="#86aee0"/>
<path d="M85 403.4 L85 381.12 L94.9 381.12 L94.9 403.4" fill="none" stroke="#e06a6a" stroke-width="1.2"/>
<line x1="89.95" y1="382.57" x2="89.95" y2="379.67" stroke="#e06a6a" stroke-width="0.6"/>
<line x1="87.95" y1="379.67" x2="91.95" y2="379.67" stroke="#e06a6a" stroke-width="0.6"/>
<circle cx="87.65" cy="383.22" r="1.35" fill="#f09090"/>
<circle cx="89.66" cy="382.6" r="1.35" fill="#f09090"/>
<circle cx="92.92" cy="381.45" r="1.35" fill="#f09090"/>
<circle cx="87.45" cy="382.16" r="1.35" fill="#f09090"/>
<circle cx="89.96" cy="381.72" r="1.35" fill="#f09090"/>
<circle cx="92.43" cy="380.68" r="1.35" fill="#f09090"/>
<path d="M109.1 403.4 L109.1 346.11 L119 346.11 L119 403.4" fill="none" stroke="#1a1a1a" stroke-width="1.2"/>
<line x1="114.05" y1="347.85" x2="114.05" y2="344.38" stroke="#1a1a1a" stroke-width="0.6"/>
<line x1="112.05" y1="344.38" x2="116.05" y2="344.38" stroke="#1a1a1a" stroke-width="0.6"/>
<circle cx="111.52" cy="344.01" r="1.35" fill="#111111"/>
<circle cx="114.2" cy="343.88" r="1.35" fill="#111111"/>
<circle cx="116.94" cy="343.55" r="1.35" fill="#111111"/>
<circle cx="111.59" cy="347.87" r="1.35" fill="#111111"/>
<circle cx="114.34" cy="343.69" r="1.35" fill="#111111"/>
<circle cx="116.97" cy="345.75" r="1.35" fill="#111111"/>
<path d="M123.6 403.4 L123.6 347.44 L133.5 347.44 L133.5 403.4" fill="none" stroke="#a6998a" stroke-width="1.2"/>
<line x1="128.55" y1="349.18" x2="128.55" y2="345.71" stroke="#a6998a" stroke-width="0.6"/>
<line x1="126.55" y1="345.71" x2="130.55" y2="345.71" stroke="#a6998a" stroke-width="0.6"/>
<circle cx="126.12" cy="348.95" r="1.35" fill="#f0a040"/>
<circle cx="128.82" cy="347.06" r="1.35" fill="#f0a040"/>
<circle cx="130.98" cy="349.72" r="1.35" fill="#f0a040"/>
<circle cx="126.23" cy="344.89" r="1.35" fill="#f0a040"/>
<circle cx="128.22" cy="345.88" r="1.35" fill="#f0a040"/>
<circle cx="131.08" cy="349.26" r="1.35" fill="#f0a040"/>
<path d="M138.3 403.4 L138.3 375.86 L148.2 375.86 L148.2 403.4" fill="none" stroke="#5b86c4" stroke-width="1.2"/>
<line x1="143.25" y1="377.3" x2="143.25" y2="374.41" stroke="#5b86c4" stroke-width="0.6"/>
<line x1="141.25" y1="374.41" x2="145.25" y2="374.41" stroke="#5b86c4" stroke-width="0.6"/>
<circle cx="140.49" cy="374.46" r="1.35" fill="#86aee0"/>
<circle cx="143.55" cy="378.23" r="1.35" fill="#86aee0"/>
<circle cx="145.94" cy="378.23" r="1.35" fill="#86aee0"/>
<circle cx="140.82" cy="376.74" r="1.35" fill="#86aee0"/>
<circle cx="143.55" cy="373.35" r="1.35" fill="#86aee0"/>
<circle cx="145.85" cy="373.26" r="1.35" fill="#86aee0"/>
<path d="M152.8 403.4 L152.8 376.43 L162.7 376.43 L162.7 403.4" fill="none" stroke="#e06a6a" stroke-width="1.2"/>
<line x1="157.75" y1="377.88" x2="157.75" y2="374.99" stroke="#e06a6a" stroke-width="0.6"/>
<line x1="155.75" y1="374.99" x2="159.75" y2="374.99" stroke="#e06a6a" stroke-width="0.6"/>
<circle cx="155" cy="378.64" r="1.35" fill="#f09090"/>
<circle cx="157.83" cy="378.87" r="1.35" fill="#f09090"/>
<circle cx="160.11" cy="376.91" r="1.35" fill="#f09090"/>
<circle cx="155.24" cy="378.22" r="1.35" fill="#f09090"/>
<circle cx="157.38" cy="374.52" r="1.35" fill="#f09090"/>
<circle cx="160.2" cy="374.05" r="1.35" fill="#f09090"/>
<line x1="68" y1="403.4" x2="68" y2="405.6" stroke="#222" stroke-width="0.8"/>
<text x="68" y="412.3" font-size="5.7" font-weight="bold" text-anchor="middle" fill="#111">WT</text>
<line x1="136.1" y1="403.4" x2="136.1" y2="405.6" stroke="#222" stroke-width="0.8"/>
<text x="136.1" y="412.3" font-size="5.7" font-weight="bold" text-anchor="middle" fill="#111">KO</text>
<line x1="75.4" y1="362.6" x2="90.7" y2="362.6" stroke="#222" stroke-width="0.7"/>
<text x="83.05" y="361.6" font-size="5" text-anchor="middle" fill="#222">****</text>
<line x1="143" y1="367.7" x2="158.4" y2="367.7" stroke="#222" stroke-width="0.7"/>
<text x="150.7" y="366.4" font-size="5" text-anchor="middle" fill="#222">ns</text>
<circle cx="41.4" cy="318" r="1.35" fill="#111"/>
<text x="50.4" y="320" font-size="5.6" fill="#222">DMSO</text>
<circle cx="41.4" cy="323.85" r="1.35" fill="#f0a040"/>
<text x="50.4" y="325.85" font-size="5.6" fill="#222">BAG</text>
<circle cx="41.4" cy="329.7" r="1.35" fill="#86aee0"/>
<text x="50.4" y="331.7" font-size="5.6" fill="#222">Chr</text>
<circle cx="41.4" cy="335.55" r="1.35" fill="#f09090"/>
<text x="50.4" y="337.55" font-size="5.6" fill="#222">Combine</text>
<line x1="201.8" y1="316.6" x2="201.8" y2="403.4" stroke="#222" stroke-width="0.9"/>
<line x1="201.8" y1="403.4" x2="330.5" y2="403.4" stroke="#222" stroke-width="0.9"/>
<line x1="199.4" y1="403.4" x2="201.8" y2="403.4" stroke="#222" stroke-width="0.8"/>
<text x="199" y="405.3" font-size="5.4" font-weight="bold" text-anchor="end" fill="#222">0.0</text>
<line x1="199.4" y1="374.47" x2="201.8" y2="374.47" stroke="#222" stroke-width="0.8"/>
<text x="199" y="376.37" font-size="5.4" font-weight="bold" text-anchor="end" fill="#222">0.5</text>
<line x1="199.4" y1="345.53" x2="201.8" y2="345.53" stroke="#222" stroke-width="0.8"/>
<text x="199" y="347.43" font-size="5.4" font-weight="bold" text-anchor="end" fill="#222">1.0</text>
<line x1="199.4" y1="316.6" x2="201.8" y2="316.6" stroke="#222" stroke-width="0.8"/>
<text x="199" y="318.5" font-size="5.4" font-weight="bold" text-anchor="end" fill="#222">1.5</text>
<text x="183.4" y="360.5" font-size="5.8" font-weight="bold" text-anchor="middle" fill="#222" transform="rotate(-90 183.4 360.5)">Cell viability</text>
<path d="M205.6 403.4 L205.6 346.11 L215.5 346.11 L215.5 403.4" fill="none" stroke="#1a1a1a" stroke-width="1.2"/>
<line x1="210.55" y1="347.85" x2="210.55" y2="344.38" stroke="#1a1a1a" stroke-width="0.6"/>
<line x1="208.55" y1="344.38" x2="212.55" y2="344.38" stroke="#1a1a1a" stroke-width="0.6"/>
<circle cx="208.27" cy="346.75" r="1.35" fill="#111111"/>
<circle cx="210.52" cy="346.01" r="1.35" fill="#111111"/>
<circle cx="213.27" cy="345.61" r="1.35" fill="#111111"/>
<circle cx="208" cy="345.49" r="1.35" fill="#111111"/>
<circle cx="210.9" cy="346.08" r="1.35" fill="#111111"/>
<circle cx="213.09" cy="344.96" r="1.35" fill="#111111"/>
<path d="M219.9 403.4 L219.9 344.95 L229.8 344.95 L229.8 403.4" fill="none" stroke="#a6998a" stroke-width="1.2"/>
<line x1="224.85" y1="346.69" x2="224.85" y2="343.22" stroke="#a6998a" stroke-width="0.6"/>
<line x1="222.85" y1="343.22" x2="226.85" y2="343.22" stroke="#a6998a" stroke-width="0.6"/>
<circle cx="222.04" cy="345.99" r="1.35" fill="#f0a040"/>
<circle cx="225.23" cy="344.84" r="1.35" fill="#f0a040"/>
<circle cx="227.49" cy="347.5" r="1.35" fill="#f0a040"/>
<circle cx="222.18" cy="344.54" r="1.35" fill="#f0a040"/>
<circle cx="224.47" cy="344.35" r="1.35" fill="#f0a040"/>
<circle cx="227.56" cy="347.25" r="1.35" fill="#f0a040"/>
<path d="M234.7 403.4 L234.7 370.99 L244.6 370.99 L244.6 403.4" fill="none" stroke="#5b86c4" stroke-width="1.2"/>
<line x1="239.65" y1="372.44" x2="239.65" y2="369.55" stroke="#5b86c4" stroke-width="0.6"/>
<line x1="237.65" y1="369.55" x2="241.65" y2="369.55" stroke="#5b86c4" stroke-width="0.6"/>
<circle cx="237.15" cy="371.17" r="1.35" fill="#86aee0"/>
<circle cx="239.79" cy="371.76" r="1.35" fill="#86aee0"/>
<circle cx="242.42" cy="369.75" r="1.35" fill="#86aee0"/>
<circle cx="236.67" cy="373.28" r="1.35" fill="#86aee0"/>
<circle cx="239.79" cy="368.58" r="1.35" fill="#86aee0"/>
<circle cx="242.05" cy="371.22" r="1.35" fill="#86aee0"/>
<path d="M249 403.4 L249 384.88 L258.9 384.88 L258.9 403.4" fill="none" stroke="#e06a6a" stroke-width="1.2"/>
<line x1="253.95" y1="386.33" x2="253.95" y2="383.44" stroke="#e06a6a" stroke-width="0.6"/>
<line x1="251.95" y1="383.44" x2="255.95" y2="383.44" stroke="#e06a6a" stroke-width="0.6"/>
<circle cx="251.42" cy="385.82" r="1.35" fill="#f09090"/>
<circle cx="253.84" cy="385.86" r="1.35" fill="#f09090"/>
<circle cx="256.45" cy="384.38" r="1.35" fill="#f09090"/>
<circle cx="251.19" cy="385.52" r="1.35" fill="#f09090"/>
<circle cx="254.17" cy="387.35" r="1.35" fill="#f09090"/>
<circle cx="256.61" cy="383.66" r="1.35" fill="#f09090"/>
<path d="M273.1 403.4 L273.1 346.69 L283 346.69 L283 403.4" fill="none" stroke="#1a1a1a" stroke-width="1.2"/>
<line x1="278.05" y1="348.43" x2="278.05" y2="344.95" stroke="#1a1a1a" stroke-width="0.6"/>
<line x1="276.05" y1="344.95" x2="280.05" y2="344.95" stroke="#1a1a1a" stroke-width="0.6"/>
<circle cx="275.3" cy="348.14" r="1.35" fill="#111111"/>
<circle cx="278.29" cy="348.05" r="1.35" fill="#111111"/>
<circle cx="280.4" cy="347.03" r="1.35" fill="#111111"/>
<circle cx="275.61" cy="348.76" r="1.35" fill="#111111"/>
<circle cx="277.91" cy="347.56" r="1.35" fill="#111111"/>
<circle cx="280.92" cy="347.01" r="1.35" fill="#111111"/>
<path d="M287.6 403.4 L287.6 346.11 L297.5 346.11 L297.5 403.4" fill="none" stroke="#a6998a" stroke-width="1.2"/>
<line x1="292.55" y1="347.85" x2="292.55" y2="344.38" stroke="#a6998a" stroke-width="0.6"/>
<line x1="290.55" y1="344.38" x2="294.55" y2="344.38" stroke="#a6998a" stroke-width="0.6"/>
<circle cx="290.23" cy="347.83" r="1.35" fill="#f0a040"/>
<circle cx="292.42" cy="345.33" r="1.35" fill="#f0a040"/>
<circle cx="295.46" cy="346.37" r="1.35" fill="#f0a040"/>
<circle cx="289.73" cy="348.09" r="1.35" fill="#f0a040"/>
<circle cx="292.57" cy="347.72" r="1.35" fill="#f0a040"/>
<circle cx="295.4" cy="344.35" r="1.35" fill="#f0a040"/>
<path d="M302.3 403.4 L302.3 380.83 L312.2 380.83 L312.2 403.4" fill="none" stroke="#5b86c4" stroke-width="1.2"/>
<line x1="307.25" y1="382.28" x2="307.25" y2="379.39" stroke="#5b86c4" stroke-width="0.6"/>
<line x1="305.25" y1="379.39" x2="309.25" y2="379.39" stroke="#5b86c4" stroke-width="0.6"/>
<circle cx="304.4" cy="381.99" r="1.35" fill="#86aee0"/>
<circle cx="307.5" cy="380.09" r="1.35" fill="#86aee0"/>
<circle cx="310.1" cy="381.64" r="1.35" fill="#86aee0"/>
<circle cx="304.35" cy="381.92" r="1.35" fill="#86aee0"/>
<circle cx="307.49" cy="382.02" r="1.35" fill="#86aee0"/>
<circle cx="309.73" cy="381.26" r="1.35" fill="#86aee0"/>
<path d="M316.8 403.4 L316.8 380.25 L326.7 380.25 L326.7 403.4" fill="none" stroke="#e06a6a" stroke-width="1.2"/>
<line x1="321.75" y1="381.7" x2="321.75" y2="378.81" stroke="#e06a6a" stroke-width="0.6"/>
<line x1="319.75" y1="378.81" x2="323.75" y2="378.81" stroke="#e06a6a" stroke-width="0.6"/>
<circle cx="319.09" cy="380.72" r="1.35" fill="#f09090"/>
<circle cx="322.09" cy="382.04" r="1.35" fill="#f09090"/>
<circle cx="323.95" cy="377.94" r="1.35" fill="#f09090"/>
<circle cx="319.45" cy="377.72" r="1.35" fill="#f09090"/>
<circle cx="321.7" cy="377.91" r="1.35" fill="#f09090"/>
<circle cx="324.69" cy="381.7" r="1.35" fill="#f09090"/>
<line x1="232" y1="403.4" x2="232" y2="405.6" stroke="#222" stroke-width="0.8"/>
<text x="232" y="412.3" font-size="5.7" font-weight="bold" text-anchor="middle" fill="#111">WT</text>
<line x1="300.1" y1="403.4" x2="300.1" y2="405.6" stroke="#222" stroke-width="0.8"/>
<text x="300.1" y="412.3" font-size="5.7" font-weight="bold" text-anchor="middle" fill="#111">KO</text>
<line x1="242.5" y1="367.5" x2="254.9" y2="367.5" stroke="#222" stroke-width="0.7"/>
<text x="248.7" y="366.5" font-size="5" text-anchor="middle" fill="#222">***</text>
<line x1="310.8" y1="375.4" x2="322.1" y2="375.4" stroke="#222" stroke-width="0.7"/>
<text x="316.45" y="374.1" font-size="5" text-anchor="middle" fill="#222">ns</text>
<circle cx="205.4" cy="318" r="1.35" fill="#111"/>
<text x="214.4" y="320" font-size="5.6" fill="#222">DMSO</text>
<circle cx="205.4" cy="323.85" r="1.35" fill="#f0a040"/>
<text x="214.4" y="325.85" font-size="5.6" fill="#222">BAG</text>
<circle cx="205.4" cy="329.7" r="1.35" fill="#86aee0"/>
<text x="214.4" y="331.7" font-size="5.6" fill="#222">Lut</text>
<circle cx="205.4" cy="335.55" r="1.35" fill="#f09090"/>
<text x="214.4" y="337.55" font-size="5.6" fill="#222">Combine</text>
<line x1="364.4" y1="316.6" x2="364.4" y2="403.4" stroke="#222" stroke-width="0.9"/>
<line x1="364.4" y1="403.4" x2="494" y2="403.4" stroke="#222" stroke-width="0.9"/>
<line x1="362" y1="403.4" x2="364.4" y2="403.4" stroke="#222" stroke-width="0.8"/>
<text x="361.6" y="405.3" font-size="5.4" font-weight="bold" text-anchor="end" fill="#222">0.0</text>
<line x1="362" y1="374.47" x2="364.4" y2="374.47" stroke="#222" stroke-width="0.8"/>
<text x="361.6" y="376.37" font-size="5.4" font-weight="bold" text-anchor="end" fill="#222">0.5</text>
<line x1="362" y1="345.53" x2="364.4" y2="345.53" stroke="#222" stroke-width="0.8"/>
<text x="361.6" y="347.43" font-size="5.4" font-weight="bold" text-anchor="end" fill="#222">1.0</text>
<line x1="362" y1="316.6" x2="364.4" y2="316.6" stroke="#222" stroke-width="0.8"/>
<text x="361.6" y="318.5" font-size="5.4" font-weight="bold" text-anchor="end" fill="#222">1.5</text>
<text x="346" y="360.5" font-size="5.8" font-weight="bold" text-anchor="middle" fill="#222" transform="rotate(-90 346 360.5)">Cell viability</text>
<path d="M368.2 403.4 L368.2 346.11 L378.1 346.11 L378.1 403.4" fill="none" stroke="#1a1a1a" stroke-width="1.2"/>
<line x1="373.15" y1="347.85" x2="373.15" y2="344.38" stroke="#1a1a1a" stroke-width="0.6"/>
<line x1="371.15" y1="344.38" x2="375.15" y2="344.38" stroke="#1a1a1a" stroke-width="0.6"/>
<circle cx="370.75" cy="344.36" r="1.35" fill="#111111"/>
<circle cx="373.28" cy="346.01" r="1.35" fill="#111111"/>
<circle cx="375.58" cy="346.94" r="1.35" fill="#111111"/>
<circle cx="370.33" cy="348.36" r="1.35" fill="#111111"/>
<circle cx="373.22" cy="347.22" r="1.35" fill="#111111"/>
<circle cx="376" cy="348.48" r="1.35" fill="#111111"/>
<path d="M382.5 403.4 L382.5 346.4 L392.4 346.4 L392.4 403.4" fill="none" stroke="#a6998a" stroke-width="1.2"/>
<line x1="387.45" y1="348.14" x2="387.45" y2="344.67" stroke="#a6998a" stroke-width="0.6"/>
<line x1="385.45" y1="344.67" x2="389.45" y2="344.67" stroke="#a6998a" stroke-width="0.6"/>
<circle cx="385.17" cy="345.39" r="1.35" fill="#f0a040"/>
<circle cx="387.79" cy="344.34" r="1.35" fill="#f0a040"/>
<circle cx="390.37" cy="346" r="1.35" fill="#f0a040"/>
<circle cx="384.46" cy="345.12" r="1.35" fill="#f0a040"/>
<circle cx="387.19" cy="347.44" r="1.35" fill="#f0a040"/>
<circle cx="390.18" cy="346.27" r="1.35" fill="#f0a040"/>
<path d="M397.3 403.4 L397.3 374.47 L407.2 374.47 L407.2 403.4" fill="none" stroke="#5b86c4" stroke-width="1.2"/>
<line x1="402.25" y1="375.91" x2="402.25" y2="373.02" stroke="#5b86c4" stroke-width="0.6"/>
<line x1="400.25" y1="373.02" x2="404.25" y2="373.02" stroke="#5b86c4" stroke-width="0.6"/>
<circle cx="399.58" cy="372.18" r="1.35" fill="#86aee0"/>
<circle cx="402.34" cy="375.29" r="1.35" fill="#86aee0"/>
<circle cx="404.65" cy="372.58" r="1.35" fill="#86aee0"/>
<circle cx="399.63" cy="373" r="1.35" fill="#86aee0"/>
<circle cx="402.13" cy="376.04" r="1.35" fill="#86aee0"/>
<circle cx="404.88" cy="372.82" r="1.35" fill="#86aee0"/>
<path d="M411.6 403.4 L411.6 384.88 L421.5 384.88 L421.5 403.4" fill="none" stroke="#e06a6a" stroke-width="1.2"/>
<line x1="416.55" y1="386.33" x2="416.55" y2="383.44" stroke="#e06a6a" stroke-width="0.6"/>
<line x1="414.55" y1="383.44" x2="418.55" y2="383.44" stroke="#e06a6a" stroke-width="0.6"/>
<circle cx="413.69" cy="383.36" r="1.35" fill="#f09090"/>
<circle cx="416.89" cy="383.29" r="1.35" fill="#f09090"/>
<circle cx="419.41" cy="387.45" r="1.35" fill="#f09090"/>
<circle cx="414.05" cy="382.99" r="1.35" fill="#f09090"/>
<circle cx="416.19" cy="386.07" r="1.35" fill="#f09090"/>
<circle cx="418.96" cy="384.74" r="1.35" fill="#f09090"/>
<path d="M435.7 403.4 L435.7 346.11 L445.6 346.11 L445.6 403.4" fill="none" stroke="#1a1a1a" stroke-width="1.2"/>
<line x1="440.65" y1="347.85" x2="440.65" y2="344.38" stroke="#1a1a1a" stroke-width="0.6"/>
<line x1="438.65" y1="344.38" x2="442.65" y2="344.38" stroke="#1a1a1a" stroke-width="0.6"/>
<circle cx="437.99" cy="346.25" r="1.35" fill="#111111"/>
<circle cx="440.87" cy="348.71" r="1.35" fill="#111111"/>
<circle cx="442.89" cy="348.06" r="1.35" fill="#111111"/>
<circle cx="437.75" cy="348.36" r="1.35" fill="#111111"/>
<circle cx="441.03" cy="344.27" r="1.35" fill="#111111"/>
<circle cx="442.92" cy="346.1" r="1.35" fill="#111111"/>
<path d="M450.2 403.4 L450.2 349.58 L460.1 349.58 L460.1 403.4" fill="none" stroke="#a6998a" stroke-width="1.2"/>
<line x1="455.15" y1="351.32" x2="455.15" y2="347.85" stroke="#a6998a" stroke-width="0.6"/>
<line x1="453.15" y1="347.85" x2="457.15" y2="347.85" stroke="#a6998a" stroke-width="0.6"/>
<circle cx="452.4" cy="350.55" r="1.35" fill="#f0a040"/>
<circle cx="455.03" cy="348.82" r="1.35" fill="#f0a040"/>
<circle cx="457.82" cy="350.31" r="1.35" fill="#f0a040"/>
<circle cx="452.3" cy="350.48" r="1.35" fill="#f0a040"/>
<circle cx="454.85" cy="349.29" r="1.35" fill="#f0a040"/>
<circle cx="457.92" cy="350.21" r="1.35" fill="#f0a040"/>
<path d="M464.9 403.4 L464.9 386.33 L474.8 386.33 L474.8 403.4" fill="none" stroke="#5b86c4" stroke-width="1.2"/>
<line x1="469.85" y1="387.78" x2="469.85" y2="384.88" stroke="#5b86c4" stroke-width="0.6"/>
<line x1="467.85" y1="384.88" x2="471.85" y2="384.88" stroke="#5b86c4" stroke-width="0.6"/>
<circle cx="466.91" cy="388" r="1.35" fill="#86aee0"/>
<circle cx="469.75" cy="385.79" r="1.35" fill="#86aee0"/>
<circle cx="472.68" cy="386.95" r="1.35" fill="#86aee0"/>
<circle cx="467.49" cy="385.69" r="1.35" fill="#86aee0"/>
<circle cx="469.8" cy="386.99" r="1.35" fill="#86aee0"/>
<circle cx="472.45" cy="385.27" r="1.35" fill="#86aee0"/>
<path d="M479.4 403.4 L479.4 386.33 L489.3 386.33 L489.3 403.4" fill="none" stroke="#e06a6a" stroke-width="1.2"/>
<line x1="484.35" y1="387.78" x2="484.35" y2="384.88" stroke="#e06a6a" stroke-width="0.6"/>
<line x1="482.35" y1="384.88" x2="486.35" y2="384.88" stroke="#e06a6a" stroke-width="0.6"/>
<circle cx="481.69" cy="385.32" r="1.35" fill="#f09090"/>
<circle cx="484.32" cy="387.66" r="1.35" fill="#f09090"/>
<circle cx="486.98" cy="385.31" r="1.35" fill="#f09090"/>
<circle cx="481.41" cy="386.72" r="1.35" fill="#f09090"/>
<circle cx="484.29" cy="384.35" r="1.35" fill="#f09090"/>
<circle cx="487.3" cy="386.98" r="1.35" fill="#f09090"/>
<line x1="394.6" y1="403.4" x2="394.6" y2="405.6" stroke="#222" stroke-width="0.8"/>
<text x="394.6" y="412.3" font-size="5.7" font-weight="bold" text-anchor="middle" fill="#111">WT</text>
<line x1="462.7" y1="403.4" x2="462.7" y2="405.6" stroke="#222" stroke-width="0.8"/>
<text x="462.7" y="412.3" font-size="5.7" font-weight="bold" text-anchor="middle" fill="#111">KO</text>
<line x1="404.6" y1="365.2" x2="417.2" y2="365.2" stroke="#222" stroke-width="0.7"/>
<text x="410.9" y="364.2" font-size="5" text-anchor="middle" fill="#222">***</text>
<line x1="469.5" y1="378.8" x2="484.8" y2="378.8" stroke="#222" stroke-width="0.7"/>
<text x="477.15" y="377.5" font-size="5" text-anchor="middle" fill="#222">ns</text>
<circle cx="368" cy="318" r="1.35" fill="#111"/>
<text x="377" y="320" font-size="5.6" fill="#222">DMSO</text>
<circle cx="368" cy="323.85" r="1.35" fill="#f0a040"/>
<text x="377" y="325.85" font-size="5.6" fill="#222">BAG</text>
<circle cx="368" cy="329.7" r="1.35" fill="#86aee0"/>
<text x="377" y="331.7" font-size="5.6" fill="#222">Dio</text>
<circle cx="368" cy="335.55" r="1.35" fill="#f09090"/>
<text x="377" y="337.55" font-size="5.6" fill="#222">Combine</text>
<line x1="540.5" y1="316.6" x2="540.5" y2="403.4" stroke="#222" stroke-width="0.9"/>
<line x1="540.5" y1="403.4" x2="670" y2="403.4" stroke="#222" stroke-width="0.9"/>
<line x1="538.1" y1="403.4" x2="540.5" y2="403.4" stroke="#222" stroke-width="0.8"/>
<text x="537.7" y="405.3" font-size="5.4" font-weight="bold" text-anchor="end" fill="#222">0.0</text>
<line x1="538.1" y1="374.47" x2="540.5" y2="374.47" stroke="#222" stroke-width="0.8"/>
<text x="537.7" y="376.37" font-size="5.4" font-weight="bold" text-anchor="end" fill="#222">0.5</text>
<line x1="538.1" y1="345.53" x2="540.5" y2="345.53" stroke="#222" stroke-width="0.8"/>
<text x="537.7" y="347.43" font-size="5.4" font-weight="bold" text-anchor="end" fill="#222">1.0</text>
<line x1="538.1" y1="316.6" x2="540.5" y2="316.6" stroke="#222" stroke-width="0.8"/>
<text x="537.7" y="318.5" font-size="5.4" font-weight="bold" text-anchor="end" fill="#222">1.5</text>
<text x="522.1" y="360.5" font-size="5.8" font-weight="bold" text-anchor="middle" fill="#222" transform="rotate(-90 522.1 360.5)">Cell viability</text>
<path d="M544.3 403.4 L544.3 346.11 L554.2 346.11 L554.2 403.4" fill="none" stroke="#1a1a1a" stroke-width="1.2"/>
<line x1="549.25" y1="347.85" x2="549.25" y2="344.38" stroke="#1a1a1a" stroke-width="0.6"/>
<line x1="547.25" y1="344.38" x2="551.25" y2="344.38" stroke="#1a1a1a" stroke-width="0.6"/>
<circle cx="546.97" cy="344.6" r="1.35" fill="#111111"/>
<circle cx="549.06" cy="346.3" r="1.35" fill="#111111"/>
<circle cx="551.55" cy="344.48" r="1.35" fill="#111111"/>
<circle cx="546.78" cy="344.09" r="1.35" fill="#111111"/>
<circle cx="549.48" cy="345.24" r="1.35" fill="#111111"/>
<circle cx="552.04" cy="345.78" r="1.35" fill="#111111"/>
<path d="M558.6 403.4 L558.6 346.11 L568.5 346.11 L568.5 403.4" fill="none" stroke="#a6998a" stroke-width="1.2"/>
<line x1="563.55" y1="347.85" x2="563.55" y2="344.38" stroke="#a6998a" stroke-width="0.6"/>
<line x1="561.55" y1="344.38" x2="565.55" y2="344.38" stroke="#a6998a" stroke-width="0.6"/>
<circle cx="560.63" cy="345.65" r="1.35" fill="#f0a040"/>
<circle cx="563.15" cy="347.97" r="1.35" fill="#f0a040"/>
<circle cx="566.37" cy="348.49" r="1.35" fill="#f0a040"/>
<circle cx="560.62" cy="348.2" r="1.35" fill="#f0a040"/>
<circle cx="563.85" cy="347.78" r="1.35" fill="#f0a040"/>
<circle cx="565.77" cy="344.33" r="1.35" fill="#f0a040"/>
<path d="M573.4 403.4 L573.4 364.63 L583.3 364.63 L583.3 403.4" fill="none" stroke="#5b86c4" stroke-width="1.2"/>
<line x1="578.35" y1="366.08" x2="578.35" y2="363.18" stroke="#5b86c4" stroke-width="0.6"/>
<line x1="576.35" y1="363.18" x2="580.35" y2="363.18" stroke="#5b86c4" stroke-width="0.6"/>
<circle cx="575.45" cy="362.84" r="1.35" fill="#86aee0"/>
<circle cx="578.49" cy="362.88" r="1.35" fill="#86aee0"/>
<circle cx="581.31" cy="364.22" r="1.35" fill="#86aee0"/>
<circle cx="575.99" cy="367.04" r="1.35" fill="#86aee0"/>
<circle cx="578.56" cy="364.57" r="1.35" fill="#86aee0"/>
<circle cx="581.12" cy="366.68" r="1.35" fill="#86aee0"/>
<path d="M587.7 403.4 L587.7 380.25 L597.6 380.25 L597.6 403.4" fill="none" stroke="#e06a6a" stroke-width="1.2"/>
<line x1="592.65" y1="381.7" x2="592.65" y2="378.81" stroke="#e06a6a" stroke-width="0.6"/>
<line x1="590.65" y1="378.81" x2="594.65" y2="378.81" stroke="#e06a6a" stroke-width="0.6"/>
<circle cx="590.25" cy="377.99" r="1.35" fill="#f09090"/>
<circle cx="592.3" cy="381.17" r="1.35" fill="#f09090"/>
<circle cx="595.3" cy="378.54" r="1.35" fill="#f09090"/>
<circle cx="589.84" cy="381.92" r="1.35" fill="#f09090"/>
<circle cx="592.45" cy="379.65" r="1.35" fill="#f09090"/>
<circle cx="595.45" cy="380.81" r="1.35" fill="#f09090"/>
<path d="M611.8 403.4 L611.8 346.11 L621.7 346.11 L621.7 403.4" fill="none" stroke="#1a1a1a" stroke-width="1.2"/>
<line x1="616.75" y1="347.85" x2="616.75" y2="344.38" stroke="#1a1a1a" stroke-width="0.6"/>
<line x1="614.75" y1="344.38" x2="618.75" y2="344.38" stroke="#1a1a1a" stroke-width="0.6"/>
<circle cx="614.04" cy="346.65" r="1.35" fill="#111111"/>
<circle cx="616.63" cy="346.54" r="1.35" fill="#111111"/>
<circle cx="619.02" cy="346.11" r="1.35" fill="#111111"/>
<circle cx="614.53" cy="346.57" r="1.35" fill="#111111"/>
<circle cx="616.95" cy="347.88" r="1.35" fill="#111111"/>
<circle cx="619.5" cy="344.78" r="1.35" fill="#111111"/>
<path d="M626.3 403.4 L626.3 346.11 L636.2 346.11 L636.2 403.4" fill="none" stroke="#a6998a" stroke-width="1.2"/>
<line x1="631.25" y1="347.85" x2="631.25" y2="344.38" stroke="#a6998a" stroke-width="0.6"/>
<line x1="629.25" y1="344.38" x2="633.25" y2="344.38" stroke="#a6998a" stroke-width="0.6"/>
<circle cx="628.79" cy="346.02" r="1.35" fill="#f0a040"/>
<circle cx="631.24" cy="345.37" r="1.35" fill="#f0a040"/>
<circle cx="634.17" cy="347.94" r="1.35" fill="#f0a040"/>
<circle cx="628.33" cy="344.82" r="1.35" fill="#f0a040"/>
<circle cx="631.58" cy="346.02" r="1.35" fill="#f0a040"/>
<circle cx="633.8" cy="344.97" r="1.35" fill="#f0a040"/>
<path d="M641 403.4 L641 373.31 L650.9 373.31 L650.9 403.4" fill="none" stroke="#5b86c4" stroke-width="1.2"/>
<line x1="645.95" y1="374.76" x2="645.95" y2="371.86" stroke="#5b86c4" stroke-width="0.6"/>
<line x1="643.95" y1="371.86" x2="647.95" y2="371.86" stroke="#5b86c4" stroke-width="0.6"/>
<circle cx="643.1" cy="374.52" r="1.35" fill="#86aee0"/>
<circle cx="645.71" cy="372.86" r="1.35" fill="#86aee0"/>
<circle cx="648.4" cy="374.7" r="1.35" fill="#86aee0"/>
<circle cx="643.5" cy="370.95" r="1.35" fill="#86aee0"/>
<circle cx="645.79" cy="372.24" r="1.35" fill="#86aee0"/>
<circle cx="648.48" cy="371.47" r="1.35" fill="#86aee0"/>
<path d="M655.5 403.4 L655.5 372.73 L665.4 372.73 L665.4 403.4" fill="none" stroke="#e06a6a" stroke-width="1.2"/>
<line x1="660.45" y1="374.18" x2="660.45" y2="371.28" stroke="#e06a6a" stroke-width="0.6"/>
<line x1="658.45" y1="371.28" x2="662.45" y2="371.28" stroke="#e06a6a" stroke-width="0.6"/>
<circle cx="657.92" cy="373.94" r="1.35" fill="#f09090"/>
<circle cx="660.22" cy="375.21" r="1.35" fill="#f09090"/>
<circle cx="663.03" cy="373.34" r="1.35" fill="#f09090"/>
<circle cx="657.59" cy="373.46" r="1.35" fill="#f09090"/>
<circle cx="660.31" cy="371.3" r="1.35" fill="#f09090"/>
<circle cx="662.76" cy="370.17" r="1.35" fill="#f09090"/>
<line x1="570.7" y1="403.4" x2="570.7" y2="405.6" stroke="#222" stroke-width="0.8"/>
<text x="570.7" y="412.3" font-size="5.7" font-weight="bold" text-anchor="middle" fill="#111">WT</text>
<line x1="638.8" y1="403.4" x2="638.8" y2="405.6" stroke="#222" stroke-width="0.8"/>
<text x="638.8" y="412.3" font-size="5.7" font-weight="bold" text-anchor="middle" fill="#111">KO</text>
<line x1="581.2" y1="359.9" x2="594.3" y2="359.9" stroke="#222" stroke-width="0.7"/>
<text x="587.75" y="358.9" font-size="5" text-anchor="middle" fill="#222">****</text>
<line x1="645.6" y1="365.7" x2="661.3" y2="365.7" stroke="#222" stroke-width="0.7"/>
<text x="653.45" y="364.4" font-size="5" text-anchor="middle" fill="#222">ns</text>
<circle cx="544.1" cy="318" r="1.35" fill="#111"/>
<text x="553.1" y="320" font-size="5.6" fill="#222">DMSO</text>
<circle cx="544.1" cy="323.85" r="1.35" fill="#f0a040"/>
<text x="553.1" y="325.85" font-size="5.6" fill="#222">BAG</text>
<circle cx="544.1" cy="329.7" r="1.35" fill="#86aee0"/>
<text x="553.1" y="331.7" font-size="5.6" fill="#222">Que</text>
<circle cx="544.1" cy="335.55" r="1.35" fill="#f09090"/>
<text x="553.1" y="337.55" font-size="5.6" fill="#222">Combine</text>
<text x="-0.3" y="311.8" font-size="9.6" font-weight="bold">D</text>
<line x1="44" y1="428.5" x2="44" y2="452.1" stroke="#222" stroke-width="0.9"/>
<line x1="44" y1="459.3" x2="44" y2="482.1" stroke="#222" stroke-width="0.9"/>
<line x1="44" y1="489.7" x2="44" y2="512.6" stroke="#222" stroke-width="0.9"/>
<line x1="41.4" y1="459.3" x2="45.5" y2="459.3" stroke="#222" stroke-width="0.9"/>
<line x1="41.4" y1="482.1" x2="45.5" y2="482.1" stroke="#222" stroke-width="0.9"/>
<line x1="41.4" y1="452.1" x2="45.5" y2="452.1" stroke="#222" stroke-width="0.9"/>
<line x1="41.4" y1="489.7" x2="45.5" y2="489.7" stroke="#222" stroke-width="0.9"/>
<line x1="44" y1="512.6" x2="169.4" y2="512.6" stroke="#222" stroke-width="0.9"/>
<line x1="41.6" y1="428.5" x2="44" y2="428.5" stroke="#222" stroke-width="0.8"/>
<text x="41.1" y="430.1" font-size="4.4" font-weight="bold" text-anchor="end" fill="#222">400</text>
<line x1="41.6" y1="434.4" x2="44" y2="434.4" stroke="#222" stroke-width="0.8"/>
<text x="41.1" y="436" font-size="4.4" font-weight="bold" text-anchor="end" fill="#222">300</text>
<line x1="41.6" y1="440.3" x2="44" y2="440.3" stroke="#222" stroke-width="0.8"/>
<text x="41.1" y="441.9" font-size="4.4" font-weight="bold" text-anchor="end" fill="#222">200</text>
<line x1="41.6" y1="446.2" x2="44" y2="446.2" stroke="#222" stroke-width="0.8"/>
<text x="41.1" y="447.8" font-size="4.4" font-weight="bold" text-anchor="end" fill="#222">100</text>
<line x1="41.6" y1="467.85" x2="44" y2="467.85" stroke="#222" stroke-width="0.8"/>
<text x="41.1" y="469.45" font-size="4.4" font-weight="bold" text-anchor="end" fill="#222">5</text>
<line x1="41.6" y1="489.7" x2="44" y2="489.7" stroke="#222" stroke-width="0.8"/>
<text x="41.1" y="491.3" font-size="4.4" font-weight="bold" text-anchor="end" fill="#222">5.0×10⁻³</text>
<line x1="41.6" y1="501.15" x2="44" y2="501.15" stroke="#222" stroke-width="0.8"/>
<text x="41.1" y="502.75" font-size="4.4" font-weight="bold" text-anchor="end" fill="#222">2.5×10⁻³</text>
<line x1="41.6" y1="512.6" x2="44" y2="512.6" stroke="#222" stroke-width="0.8"/>
<text x="41.1" y="514.2" font-size="4.4" font-weight="bold" text-anchor="end" fill="#222">0.0</text>
<rect x="45.3" y="445.79" width="4.1" height="6.31" fill="#8c1c24"/>
<line x1="47.35" y1="442.25" x2="47.35" y2="445.79" stroke="#8c1c24" stroke-width="0.6"/>
<line x1="46.15" y1="442.25" x2="48.55" y2="442.25" stroke="#8c1c24" stroke-width="0.6"/>
<rect x="45.3" y="459.3" width="4.1" height="22.8" fill="#8c1c24"/>
<rect x="45.3" y="489.7" width="4.1" height="22.9" fill="#8c1c24"/>
<rect x="51.3" y="451.3" width="4.1" height="0.8" fill="#1f4e96"/>
<rect x="51.3" y="459.3" width="4.1" height="22.8" fill="#1f4e96"/>
<rect x="51.3" y="489.7" width="4.1" height="22.9" fill="#1f4e96"/>
<line x1="50.3" y1="512.6" x2="50.3" y2="514.9" stroke="#222" stroke-width="0.8"/>
<text x="52.1" y="518" font-size="5.6" font-weight="bold" text-anchor="end" fill="#222" transform="rotate(-45 52.1 518)">Cisplatin</text>
<rect x="61.3" y="441.48" width="4.1" height="10.62" fill="#8c1c24"/>
<line x1="63.35" y1="435.88" x2="63.35" y2="441.48" stroke="#8c1c24" stroke-width="0.6"/>
<line x1="62.15" y1="435.88" x2="64.55" y2="435.88" stroke="#8c1c24" stroke-width="0.6"/>
<rect x="61.3" y="459.3" width="4.1" height="22.8" fill="#8c1c24"/>
<rect x="61.3" y="489.7" width="4.1" height="22.9" fill="#8c1c24"/>
<rect x="67.3" y="451.3" width="4.1" height="0.8" fill="#1f4e96"/>
<rect x="67.3" y="459.3" width="4.1" height="22.8" fill="#1f4e96"/>
<rect x="67.3" y="489.7" width="4.1" height="22.9" fill="#1f4e96"/>
<line x1="66.3" y1="512.6" x2="66.3" y2="514.9" stroke="#222" stroke-width="0.8"/>
<text x="68.1" y="518" font-size="5.6" font-weight="bold" text-anchor="end" fill="#222" transform="rotate(-45 68.1 518)">5-FU</text>
<rect x="77.3" y="449.74" width="4.1" height="2.36" fill="#8c1c24"/>
<line x1="79.35" y1="447.38" x2="79.35" y2="449.74" stroke="#8c1c24" stroke-width="0.6"/>
<line x1="78.15" y1="447.38" x2="80.55" y2="447.38" stroke="#8c1c24" stroke-width="0.6"/>
<rect x="77.3" y="459.3" width="4.1" height="22.8" fill="#8c1c24"/>
<rect x="77.3" y="489.7" width="4.1" height="22.9" fill="#8c1c24"/>
<rect x="83.3" y="480.5" width="4.1" height="1.6" fill="#1f4e96"/>
<line x1="85.35" y1="479.82" x2="85.35" y2="480.5" stroke="#1f4e96" stroke-width="0.6"/>
<line x1="84.15" y1="479.82" x2="86.55" y2="479.82" stroke="#1f4e96" stroke-width="0.6"/>
<rect x="83.3" y="489.7" width="4.1" height="22.9" fill="#1f4e96"/>
<line x1="82.3" y1="512.6" x2="82.3" y2="514.9" stroke="#222" stroke-width="0.8"/>
<text x="84.1" y="518" font-size="5.6" font-weight="bold" text-anchor="end" fill="#222" transform="rotate(-45 84.1 518)">Bleomycin</text>
<rect x="93.3" y="450.33" width="4.1" height="1.77" fill="#8c1c24"/>
<rect x="93.3" y="459.3" width="4.1" height="22.8" fill="#8c1c24"/>
<rect x="93.3" y="489.7" width="4.1" height="22.9" fill="#8c1c24"/>
<rect x="99.3" y="450.33" width="4.1" height="1.77" fill="#1f4e96"/>
<rect x="99.3" y="459.3" width="4.1" height="22.8" fill="#1f4e96"/>
<rect x="99.3" y="489.7" width="4.1" height="22.9" fill="#1f4e96"/>
<line x1="98.3" y1="512.6" x2="98.3" y2="514.9" stroke="#222" stroke-width="0.8"/>
<text x="100.1" y="518" font-size="5.6" font-weight="bold" text-anchor="end" fill="#222" transform="rotate(-45 100.1 518)">Tamoxifen</text>
<rect x="109.3" y="480.96" width="4.1" height="1.14" fill="#8c1c24"/>
<line x1="111.35" y1="479.59" x2="111.35" y2="480.96" stroke="#8c1c24" stroke-width="0.6"/>
<line x1="110.15" y1="479.59" x2="112.55" y2="479.59" stroke="#8c1c24" stroke-width="0.6"/>
<rect x="109.3" y="489.7" width="4.1" height="22.9" fill="#8c1c24"/>
<rect x="115.3" y="481.3" width="4.1" height="0.8" fill="#1f4e96"/>
<rect x="115.3" y="489.7" width="4.1" height="22.9" fill="#1f4e96"/>
<line x1="114.3" y1="512.6" x2="114.3" y2="514.9" stroke="#222" stroke-width="0.8"/>
<text x="116.1" y="518" font-size="5.6" font-weight="bold" text-anchor="end" fill="#222" transform="rotate(-45 116.1 518)">Gemcitabine</text>
<rect x="125.3" y="480.96" width="4.1" height="1.14" fill="#8c1c24"/>
<line x1="127.35" y1="479.82" x2="127.35" y2="480.96" stroke="#8c1c24" stroke-width="0.6"/>
<line x1="126.15" y1="479.82" x2="128.55" y2="479.82" stroke="#8c1c24" stroke-width="0.6"/>
<rect x="125.3" y="489.7" width="4.1" height="22.9" fill="#8c1c24"/>
<rect x="131.3" y="481.3" width="4.1" height="0.8" fill="#1f4e96"/>
<rect x="131.3" y="489.7" width="4.1" height="22.9" fill="#1f4e96"/>
<line x1="130.3" y1="512.6" x2="130.3" y2="514.9" stroke="#222" stroke-width="0.8"/>
<text x="132.1" y="518" font-size="5.6" font-weight="bold" text-anchor="end" fill="#222" transform="rotate(-45 132.1 518)">Doxorubicin</text>
<rect x="141.3" y="481.3" width="4.1" height="0.8" fill="#8c1c24"/>
<rect x="141.3" y="489.7" width="4.1" height="22.9" fill="#8c1c24"/>
<rect x="147.3" y="498.4" width="4.1" height="14.2" fill="#1f4e96"/>
<line x1="149.35" y1="495.65" x2="149.35" y2="498.4" stroke="#1f4e96" stroke-width="0.6"/>
<line x1="148.15" y1="495.65" x2="150.55" y2="495.65" stroke="#1f4e96" stroke-width="0.6"/>
<line x1="146.3" y1="512.6" x2="146.3" y2="514.9" stroke="#222" stroke-width="0.8"/>
<text x="148.1" y="518" font-size="5.6" font-weight="bold" text-anchor="end" fill="#222" transform="rotate(-45 148.1 518)">Docetaxel</text>
<rect x="157.3" y="475.03" width="4.1" height="7.07" fill="#8c1c24"/>
<line x1="159.35" y1="469.56" x2="159.35" y2="475.03" stroke="#8c1c24" stroke-width="0.6"/>
<line x1="158.15" y1="469.56" x2="160.55" y2="469.56" stroke="#8c1c24" stroke-width="0.6"/>
<rect x="157.3" y="489.7" width="4.1" height="22.9" fill="#8c1c24"/>
<rect x="163.3" y="481.3" width="4.1" height="0.8" fill="#1f4e96"/>
<rect x="163.3" y="489.7" width="4.1" height="22.9" fill="#1f4e96"/>
<line x1="162.3" y1="512.6" x2="162.3" y2="514.9" stroke="#222" stroke-width="0.8"/>
<text x="164.1" y="518" font-size="5.6" font-weight="bold" text-anchor="end" fill="#222" transform="rotate(-45 164.1 518)">Mitomycin-C</text>
<rect x="141.6" y="424.9" width="9" height="2.3" fill="#8c1c24"/>
<rect x="141.6" y="429.8" width="9" height="2.3" fill="#1f4e96"/>
<text x="155.6" y="428" font-size="5.6" fill="#333">BRCA</text>
<text x="155.6" y="432.9" font-size="5.6" fill="#333">LUSC</text>
<line x1="47.1" y1="440.2" x2="53.5" y2="440.2" stroke="#333" stroke-width="0.6"/>
<text x="50.3" y="439.2" font-size="4.6" text-anchor="middle" fill="#333">*</text>
<line x1="63" y1="432.2" x2="69.6" y2="432.2" stroke="#333" stroke-width="0.6"/>
<text x="66.3" y="431.2" font-size="4.6" text-anchor="middle" fill="#333">****</text>
<line x1="63" y1="434.6" x2="69.6" y2="434.6" stroke="#333" stroke-width="0.6"/>
<text x="66.3" y="433.6" font-size="4.6" text-anchor="middle" fill="#333"></text>
<line x1="79" y1="445.4" x2="85.9" y2="445.4" stroke="#333" stroke-width="0.6"/>
<text x="82.45" y="444.4" font-size="4.6" text-anchor="middle" fill="#333">**</text>
<text x="16.6" y="470.55" font-size="4.8" font-weight="bold" text-anchor="middle" fill="#222" transform="rotate(-90 16.6 470.55)">IC<tspan font-size="3.3" dy="1.1">50</tspan><tspan dy="-1.1"> (μM)</tspan></text>
<line x1="208.1" y1="429" x2="208.1" y2="452.2" stroke="#222" stroke-width="0.9"/>
<line x1="208.1" y1="459.4" x2="208.1" y2="482.5" stroke="#222" stroke-width="0.9"/>
<line x1="208.1" y1="490" x2="208.1" y2="513.1" stroke="#222" stroke-width="0.9"/>
<line x1="205.5" y1="459.4" x2="209.6" y2="459.4" stroke="#222" stroke-width="0.9"/>
<line x1="205.5" y1="482.5" x2="209.6" y2="482.5" stroke="#222" stroke-width="0.9"/>
<line x1="205.5" y1="452.2" x2="209.6" y2="452.2" stroke="#222" stroke-width="0.9"/>
<line x1="205.5" y1="490" x2="209.6" y2="490" stroke="#222" stroke-width="0.9"/>
<line x1="208.1" y1="513.1" x2="334.1" y2="513.1" stroke="#222" stroke-width="0.9"/>
<line x1="205.7" y1="429" x2="208.1" y2="429" stroke="#222" stroke-width="0.8"/>
<text x="205.2" y="430.6" font-size="4.4" font-weight="bold" text-anchor="end" fill="#222">2000</text>
<line x1="205.7" y1="440.6" x2="208.1" y2="440.6" stroke="#222" stroke-width="0.8"/>
<text x="205.2" y="442.2" font-size="4.4" font-weight="bold" text-anchor="end" fill="#222">1000</text>
<line x1="205.7" y1="459.4" x2="208.1" y2="459.4" stroke="#222" stroke-width="0.8"/>
<text x="205.2" y="461" font-size="4.4" font-weight="bold" text-anchor="end" fill="#222">20</text>
<line x1="205.7" y1="465.17" x2="208.1" y2="465.17" stroke="#222" stroke-width="0.8"/>
<text x="205.2" y="466.77" font-size="4.4" font-weight="bold" text-anchor="end" fill="#222">15</text>
<line x1="205.7" y1="470.95" x2="208.1" y2="470.95" stroke="#222" stroke-width="0.8"/>
<text x="205.2" y="472.55" font-size="4.4" font-weight="bold" text-anchor="end" fill="#222">10</text>
<line x1="205.7" y1="476.73" x2="208.1" y2="476.73" stroke="#222" stroke-width="0.8"/>
<text x="205.2" y="478.33" font-size="4.4" font-weight="bold" text-anchor="end" fill="#222">5</text>
<line x1="205.7" y1="490" x2="208.1" y2="490" stroke="#222" stroke-width="0.8"/>
<text x="205.2" y="491.6" font-size="4.4" font-weight="bold" text-anchor="end" fill="#222">1×10⁻³</text>
<line x1="205.7" y1="501.55" x2="208.1" y2="501.55" stroke="#222" stroke-width="0.8"/>
<text x="205.2" y="503.15" font-size="4.4" font-weight="bold" text-anchor="end" fill="#222">5×10⁻⁴</text>
<line x1="205.7" y1="513.1" x2="208.1" y2="513.1" stroke="#222" stroke-width="0.8"/>
<text x="205.2" y="514.7" font-size="4.4" font-weight="bold" text-anchor="end" fill="#222">0</text>
<rect x="209.4" y="444.08" width="4.1" height="8.12" fill="#8c1c24"/>
<line x1="211.45" y1="438.28" x2="211.45" y2="444.08" stroke="#8c1c24" stroke-width="0.6"/>
<line x1="210.25" y1="438.28" x2="212.65" y2="438.28" stroke="#8c1c24" stroke-width="0.6"/>
<rect x="209.4" y="459.4" width="4.1" height="23.1" fill="#8c1c24"/>
<rect x="209.4" y="490" width="4.1" height="23.1" fill="#8c1c24"/>
<rect x="215.4" y="474.99" width="4.1" height="7.51" fill="#1f4e96"/>
<line x1="217.45" y1="473.26" x2="217.45" y2="474.99" stroke="#1f4e96" stroke-width="0.6"/>
<line x1="216.25" y1="473.26" x2="218.65" y2="473.26" stroke="#1f4e96" stroke-width="0.6"/>
<rect x="215.4" y="490" width="4.1" height="23.1" fill="#1f4e96"/>
<line x1="214.4" y1="513.1" x2="214.4" y2="515.4" stroke="#222" stroke-width="0.8"/>
<text x="216.2" y="518.5" font-size="5.6" font-weight="bold" text-anchor="end" fill="#222" transform="rotate(-45 216.2 518.5)">Cisplatin</text>
<rect x="225.4" y="448.95" width="4.1" height="3.25" fill="#8c1c24"/>
<line x1="227.45" y1="446.98" x2="227.45" y2="448.95" stroke="#8c1c24" stroke-width="0.6"/>
<line x1="226.25" y1="446.98" x2="228.65" y2="446.98" stroke="#8c1c24" stroke-width="0.6"/>
<rect x="225.4" y="459.4" width="4.1" height="23.1" fill="#8c1c24"/>
<rect x="225.4" y="490" width="4.1" height="23.1" fill="#8c1c24"/>
<rect x="231.4" y="451.4" width="4.1" height="0.8" fill="#1f4e96"/>
<rect x="231.4" y="459.4" width="4.1" height="23.1" fill="#1f4e96"/>
<rect x="231.4" y="490" width="4.1" height="23.1" fill="#1f4e96"/>
<line x1="230.4" y1="513.1" x2="230.4" y2="515.4" stroke="#222" stroke-width="0.8"/>
<text x="232.2" y="518.5" font-size="5.6" font-weight="bold" text-anchor="end" fill="#222" transform="rotate(-45 232.2 518.5)">5-FU</text>
<rect x="241.4" y="451.4" width="4.1" height="0.8" fill="#8c1c24"/>
<rect x="241.4" y="459.4" width="4.1" height="23.1" fill="#8c1c24"/>
<rect x="241.4" y="490" width="4.1" height="23.1" fill="#8c1c24"/>
<rect x="247.4" y="479.03" width="4.1" height="3.47" fill="#1f4e96"/>
<line x1="249.45" y1="477.3" x2="249.45" y2="479.03" stroke="#1f4e96" stroke-width="0.6"/>
<line x1="248.25" y1="477.3" x2="250.65" y2="477.3" stroke="#1f4e96" stroke-width="0.6"/>
<rect x="247.4" y="490" width="4.1" height="23.1" fill="#1f4e96"/>
<line x1="246.4" y1="513.1" x2="246.4" y2="515.4" stroke="#222" stroke-width="0.8"/>
<text x="248.2" y="518.5" font-size="5.6" font-weight="bold" text-anchor="end" fill="#222" transform="rotate(-45 248.2 518.5)">Bleomycin</text>
<rect x="257.4" y="451.27" width="4.1" height="0.93" fill="#8c1c24"/>
<rect x="257.4" y="459.4" width="4.1" height="23.1" fill="#8c1c24"/>
<rect x="257.4" y="490" width="4.1" height="23.1" fill="#8c1c24"/>
<rect x="263.4" y="451.4" width="4.1" height="0.8" fill="#1f4e96"/>
<rect x="263.4" y="459.4" width="4.1" height="23.1" fill="#1f4e96"/>
<rect x="263.4" y="490" width="4.1" height="23.1" fill="#1f4e96"/>
<line x1="262.4" y1="513.1" x2="262.4" y2="515.4" stroke="#222" stroke-width="0.8"/>
<text x="264.2" y="518.5" font-size="5.6" font-weight="bold" text-anchor="end" fill="#222" transform="rotate(-45 264.2 518.5)">Tamoxifen</text>
<rect x="273.4" y="481.35" width="4.1" height="1.16" fill="#8c1c24"/>
<line x1="275.45" y1="480.65" x2="275.45" y2="481.35" stroke="#8c1c24" stroke-width="0.6"/>
<line x1="274.25" y1="480.65" x2="276.65" y2="480.65" stroke="#8c1c24" stroke-width="0.6"/>
<rect x="273.4" y="490" width="4.1" height="23.1" fill="#8c1c24"/>
<rect x="279.4" y="496.01" width="4.1" height="17.09" fill="#1f4e96"/>
<line x1="281.45" y1="492.54" x2="281.45" y2="496.01" stroke="#1f4e96" stroke-width="0.6"/>
<line x1="280.25" y1="492.54" x2="282.65" y2="492.54" stroke="#1f4e96" stroke-width="0.6"/>
<line x1="278.4" y1="513.1" x2="278.4" y2="515.4" stroke="#222" stroke-width="0.8"/>
<text x="280.2" y="518.5" font-size="5.6" font-weight="bold" text-anchor="end" fill="#222" transform="rotate(-45 280.2 518.5)">Gemcitabine</text>
<rect x="289.4" y="481.7" width="4.1" height="0.8" fill="#8c1c24"/>
<rect x="289.4" y="490" width="4.1" height="23.1" fill="#8c1c24"/>
<rect x="295.4" y="481.7" width="4.1" height="0.8" fill="#1f4e96"/>
<rect x="295.4" y="490" width="4.1" height="23.1" fill="#1f4e96"/>
<line x1="294.4" y1="513.1" x2="294.4" y2="515.4" stroke="#222" stroke-width="0.8"/>
<text x="296.2" y="518.5" font-size="5.6" font-weight="bold" text-anchor="end" fill="#222" transform="rotate(-45 296.2 518.5)">Doxorubicin</text>
<rect x="305.4" y="481.7" width="4.1" height="0.8" fill="#8c1c24"/>
<rect x="305.4" y="490" width="4.1" height="23.1" fill="#8c1c24"/>
<rect x="311.4" y="499.93" width="4.1" height="13.17" fill="#1f4e96"/>
<line x1="313.45" y1="496.93" x2="313.45" y2="499.93" stroke="#1f4e96" stroke-width="0.6"/>
<line x1="312.25" y1="496.93" x2="314.65" y2="496.93" stroke="#1f4e96" stroke-width="0.6"/>
<line x1="310.4" y1="513.1" x2="310.4" y2="515.4" stroke="#222" stroke-width="0.8"/>
<text x="312.2" y="518.5" font-size="5.6" font-weight="bold" text-anchor="end" fill="#222" transform="rotate(-45 312.2 518.5)">Docetaxel</text>
<rect x="321.4" y="481.11" width="4.1" height="1.39" fill="#8c1c24"/>
<line x1="323.45" y1="480.65" x2="323.45" y2="481.11" stroke="#8c1c24" stroke-width="0.6"/>
<line x1="322.25" y1="480.65" x2="324.65" y2="480.65" stroke="#8c1c24" stroke-width="0.6"/>
<rect x="321.4" y="490" width="4.1" height="23.1" fill="#8c1c24"/>
<rect x="327.4" y="481.7" width="4.1" height="0.8" fill="#1f4e96"/>
<rect x="327.4" y="490" width="4.1" height="23.1" fill="#1f4e96"/>
<line x1="326.4" y1="513.1" x2="326.4" y2="515.4" stroke="#222" stroke-width="0.8"/>
<text x="328.2" y="518.5" font-size="5.6" font-weight="bold" text-anchor="end" fill="#222" transform="rotate(-45 328.2 518.5)">Mitomycin-C</text>
<rect x="306.2" y="425.5" width="9" height="2.3" fill="#8c1c24"/>
<rect x="306.2" y="430.4" width="9" height="2.3" fill="#1f4e96"/>
<text x="320.2" y="428.6" font-size="5.6" fill="#333">PAAD</text>
<text x="320.2" y="433.5" font-size="5.6" fill="#333">SKCM</text>
<line x1="212" y1="432.4" x2="218.2" y2="432.4" stroke="#333" stroke-width="0.6"/>
<text x="215.1" y="431.4" font-size="4.6" text-anchor="middle" fill="#333">****</text>
<line x1="212" y1="434.8" x2="218.2" y2="434.8" stroke="#333" stroke-width="0.6"/>
<text x="215.1" y="433.8" font-size="4.6" text-anchor="middle" fill="#333"></text>
<line x1="228" y1="445.5" x2="234.2" y2="445.5" stroke="#333" stroke-width="0.6"/>
<text x="231.1" y="444.5" font-size="4.6" text-anchor="middle" fill="#333">*</text>
<line x1="244.2" y1="449.8" x2="250.5" y2="449.8" stroke="#333" stroke-width="0.6"/>
<text x="247.35" y="448.8" font-size="4.6" text-anchor="middle" fill="#333">**</text>
<text x="180" y="471.05" font-size="4.8" font-weight="bold" text-anchor="middle" fill="#222" transform="rotate(-90 180 471.05)">IC<tspan font-size="3.3" dy="1.1">50</tspan><tspan dy="-1.1"> (μM)</tspan></text>
<text x="-0.3" y="421.7" font-size="9.6" font-weight="bold">E</text>
<text x="181" y="421.7" font-size="9.6" font-weight="bold">F</text>
<line x1="369.9" y1="423.1" x2="369.9" y2="514.6" stroke="#222" stroke-width="0.9"/>
<line x1="369.9" y1="514.6" x2="480.8" y2="514.6" stroke="#222" stroke-width="0.9"/>
<line x1="367.3" y1="514.6" x2="369.9" y2="514.6" stroke="#222" stroke-width="0.8"/>
<text x="366.9" y="516.8" font-size="6.1" font-weight="bold" text-anchor="end" fill="#222">0.0</text>
<line x1="367.3" y1="484.1" x2="369.9" y2="484.1" stroke="#222" stroke-width="0.8"/>
<text x="366.9" y="486.3" font-size="6.1" font-weight="bold" text-anchor="end" fill="#222">0.5</text>
<line x1="367.3" y1="453.6" x2="369.9" y2="453.6" stroke="#222" stroke-width="0.8"/>
<text x="366.9" y="455.8" font-size="6.1" font-weight="bold" text-anchor="end" fill="#222">1.0</text>
<line x1="367.3" y1="423.1" x2="369.9" y2="423.1" stroke="#222" stroke-width="0.8"/>
<text x="366.9" y="425.3" font-size="6.1" font-weight="bold" text-anchor="end" fill="#222">1.5</text>
<text x="348.8" y="469.5" font-size="5.5" font-weight="bold" text-anchor="middle" fill="#222" transform="rotate(-90 348.8 469.5)">Cell viability</text>
<path d="M373.6 514.6 L373.6 453.6 L381.2 453.6 L381.2 514.6" fill="none" stroke="#1a1a1a" stroke-width="1.2"/>
<line x1="377.4" y1="455.43" x2="377.4" y2="451.77" stroke="#1a1a1a" stroke-width="0.6"/>
<line x1="375.6" y1="451.77" x2="379.2" y2="451.77" stroke="#1a1a1a" stroke-width="0.6"/>
<circle cx="374.99" cy="454.88" r="1.2" fill="#111"/>
<circle cx="377.49" cy="455.16" r="1.2" fill="#111"/>
<circle cx="379.72" cy="454.09" r="1.2" fill="#111"/>
<circle cx="374.83" cy="453.57" r="1.2" fill="#111"/>
<circle cx="377.12" cy="453.84" r="1.2" fill="#111"/>
<circle cx="379.44" cy="455.1" r="1.2" fill="#111"/>
<path d="M384.1 514.6 L384.1 454.21 L391.7 454.21 L391.7 514.6" fill="none" stroke="#a8262a" stroke-width="1.2"/>
<line x1="387.9" y1="456.04" x2="387.9" y2="452.38" stroke="#a8262a" stroke-width="0.6"/>
<line x1="386.1" y1="452.38" x2="389.7" y2="452.38" stroke="#a8262a" stroke-width="0.6"/>
<circle cx="385.55" cy="453.01" r="1.2" fill="#a8262a"/>
<circle cx="387.67" cy="455.22" r="1.2" fill="#a8262a"/>
<circle cx="390.28" cy="452.57" r="1.2" fill="#a8262a"/>
<circle cx="385.65" cy="454.59" r="1.2" fill="#a8262a"/>
<circle cx="388.19" cy="455.87" r="1.2" fill="#a8262a"/>
<circle cx="390.42" cy="454.98" r="1.2" fill="#a8262a"/>
<path d="M402 514.6 L402 490.2 L409.6 490.2 L409.6 514.6" fill="none" stroke="#1a1a1a" stroke-width="1.2"/>
<line x1="405.8" y1="492.64" x2="405.8" y2="487.76" stroke="#1a1a1a" stroke-width="0.6"/>
<line x1="404" y1="487.76" x2="407.6" y2="487.76" stroke="#1a1a1a" stroke-width="0.6"/>
<circle cx="403.29" cy="492.07" r="1.2" fill="#111"/>
<circle cx="405.69" cy="488.66" r="1.2" fill="#111"/>
<circle cx="407.91" cy="489.8" r="1.2" fill="#111"/>
<circle cx="403.58" cy="490.82" r="1.2" fill="#111"/>
<circle cx="405.83" cy="492.33" r="1.2" fill="#111"/>
<circle cx="407.84" cy="491.63" r="1.2" fill="#111"/>
<path d="M412.5 514.6 L412.5 506.06 L420.1 506.06 L420.1 514.6" fill="none" stroke="#a8262a" stroke-width="1.2"/>
<line x1="416.3" y1="506.67" x2="416.3" y2="505.45" stroke="#a8262a" stroke-width="0.6"/>
<line x1="414.5" y1="505.45" x2="418.1" y2="505.45" stroke="#a8262a" stroke-width="0.6"/>
<circle cx="414.11" cy="506.24" r="1.2" fill="#a8262a"/>
<circle cx="416.19" cy="505.85" r="1.2" fill="#a8262a"/>
<circle cx="418.57" cy="506.55" r="1.2" fill="#a8262a"/>
<circle cx="414.18" cy="505.57" r="1.2" fill="#a8262a"/>
<circle cx="416.15" cy="505.88" r="1.2" fill="#a8262a"/>
<circle cx="418.62" cy="505.14" r="1.2" fill="#a8262a"/>
<path d="M430.4 514.6 L430.4 481.05 L438 481.05 L438 514.6" fill="none" stroke="#1a1a1a" stroke-width="1.2"/>
<line x1="434.2" y1="489.59" x2="434.2" y2="472.51" stroke="#1a1a1a" stroke-width="0.6"/>
<line x1="432.4" y1="472.51" x2="436" y2="472.51" stroke="#1a1a1a" stroke-width="0.6"/>
<circle cx="432.04" cy="484.67" r="1.2" fill="#111"/>
<circle cx="434.49" cy="487.57" r="1.2" fill="#111"/>
<circle cx="436.45" cy="476.66" r="1.2" fill="#111"/>
<circle cx="431.69" cy="481.24" r="1.2" fill="#111"/>
<circle cx="433.92" cy="478.18" r="1.2" fill="#111"/>
<circle cx="436.66" cy="479.8" r="1.2" fill="#111"/>
<path d="M440.9 514.6 L440.9 491.42 L448.5 491.42 L448.5 514.6" fill="none" stroke="#a8262a" stroke-width="1.2"/>
<line x1="444.7" y1="496.3" x2="444.7" y2="486.54" stroke="#a8262a" stroke-width="0.6"/>
<line x1="442.9" y1="486.54" x2="446.5" y2="486.54" stroke="#a8262a" stroke-width="0.6"/>
<circle cx="442.63" cy="493.24" r="1.2" fill="#a8262a"/>
<circle cx="444.82" cy="490.5" r="1.2" fill="#a8262a"/>
<circle cx="447.05" cy="491.85" r="1.2" fill="#a8262a"/>
<circle cx="442.6" cy="487.08" r="1.2" fill="#a8262a"/>
<circle cx="444.68" cy="489.82" r="1.2" fill="#a8262a"/>
<circle cx="446.74" cy="489.45" r="1.2" fill="#a8262a"/>
<path d="M459.3 514.6 L459.3 496.3 L466.9 496.3 L466.9 514.6" fill="none" stroke="#1a1a1a" stroke-width="1.2"/>
<line x1="463.1" y1="497.52" x2="463.1" y2="495.08" stroke="#1a1a1a" stroke-width="0.6"/>
<line x1="461.3" y1="495.08" x2="464.9" y2="495.08" stroke="#1a1a1a" stroke-width="0.6"/>
<circle cx="460.89" cy="495.1" r="1.2" fill="#111"/>
<circle cx="463.29" cy="496.83" r="1.2" fill="#111"/>
<circle cx="465.33" cy="495.89" r="1.2" fill="#111"/>
<circle cx="460.51" cy="496.39" r="1.2" fill="#111"/>
<circle cx="462.9" cy="497.23" r="1.2" fill="#111"/>
<circle cx="465.14" cy="495.65" r="1.2" fill="#111"/>
<path d="M469.8 514.6 L469.8 506.67 L477.4 506.67 L477.4 514.6" fill="none" stroke="#a8262a" stroke-width="1.2"/>
<line x1="473.6" y1="507.28" x2="473.6" y2="506.06" stroke="#a8262a" stroke-width="0.6"/>
<line x1="471.8" y1="506.06" x2="475.4" y2="506.06" stroke="#a8262a" stroke-width="0.6"/>
<circle cx="471.08" cy="507.29" r="1.2" fill="#a8262a"/>
<circle cx="473.53" cy="505.76" r="1.2" fill="#a8262a"/>
<circle cx="475.65" cy="506.79" r="1.2" fill="#a8262a"/>
<circle cx="471.33" cy="505.73" r="1.2" fill="#a8262a"/>
<circle cx="473.79" cy="505.78" r="1.2" fill="#a8262a"/>
<circle cx="475.77" cy="506.88" r="1.2" fill="#a8262a"/>
<line x1="382.6" y1="514.6" x2="382.6" y2="516.9" stroke="#222" stroke-width="0.8"/>
<text x="384.4" y="520.2" font-size="6" font-weight="bold" text-anchor="end" fill="#222" transform="rotate(-45 384.4 520.2)">DMSO</text>
<line x1="411.2" y1="514.6" x2="411.2" y2="516.9" stroke="#222" stroke-width="0.8"/>
<text x="413" y="520.2" font-size="6" font-weight="bold" text-anchor="end" fill="#222" transform="rotate(-45 413 520.2)">Cisplatin</text>
<line x1="439.6" y1="514.6" x2="439.6" y2="516.9" stroke="#222" stroke-width="0.8"/>
<text x="441.4" y="520.2" font-size="6" font-weight="bold" text-anchor="end" fill="#222" transform="rotate(-45 441.4 520.2)">5-FU</text>
<line x1="468.6" y1="514.6" x2="468.6" y2="516.9" stroke="#222" stroke-width="0.8"/>
<text x="470.4" y="520.2" font-size="6" font-weight="bold" text-anchor="end" fill="#222" transform="rotate(-45 470.4 520.2)">Bleomycin</text>
<line x1="376.5" y1="447.3" x2="388.9" y2="447.3" stroke="#222" stroke-width="0.7"/>
<text x="382.7" y="446.1" font-size="4.8" text-anchor="middle" fill="#222">ns</text>
<line x1="405.4" y1="480.9" x2="417.8" y2="480.9" stroke="#222" stroke-width="0.7"/>
<text x="411.6" y="479.7" font-size="4.8" text-anchor="middle" fill="#222">****</text>
<line x1="434.3" y1="467.8" x2="446.7" y2="467.8" stroke="#222" stroke-width="0.7"/>
<text x="440.5" y="466.6" font-size="4.8" text-anchor="middle" fill="#222">**</text>
<line x1="462.4" y1="490.9" x2="474.8" y2="490.9" stroke="#222" stroke-width="0.7"/>
<text x="468.6" y="489.7" font-size="4.8" text-anchor="middle" fill="#222">***</text>
<circle cx="373.6" cy="425.8" r="1.3" fill="#111"/>
<text x="383.6" y="428" font-size="6.2" fill="#222">WT</text>
<circle cx="373.6" cy="433.1" r="1.3" fill="#a8262a"/>
<text x="383.6" y="435.3" font-size="6.2" fill="#222">KO</text>
<text x="340.8" y="421.7" font-size="9.6" font-weight="bold">G</text>
<line x1="523.7" y1="417" x2="523.7" y2="516" stroke="#222" stroke-width="1"/>
<line x1="523.7" y1="516" x2="644.9" y2="516" stroke="#222" stroke-width="1"/>
<line x1="521.1" y1="516" x2="523.7" y2="516" stroke="#222" stroke-width="0.9"/>
<text x="520.5" y="518.3" font-size="6.4" font-weight="bold" text-anchor="end" fill="#222">0.0</text>
<line x1="521.1" y1="483" x2="523.7" y2="483" stroke="#222" stroke-width="0.9"/>
<text x="520.5" y="485.3" font-size="6.4" font-weight="bold" text-anchor="end" fill="#222">0.5</text>
<line x1="521.1" y1="450" x2="523.7" y2="450" stroke="#222" stroke-width="0.9"/>
<text x="520.5" y="452.3" font-size="6.4" font-weight="bold" text-anchor="end" fill="#222">1.0</text>
<line x1="521.1" y1="417" x2="523.7" y2="417" stroke="#222" stroke-width="0.9"/>
<text x="520.5" y="419.3" font-size="6.4" font-weight="bold" text-anchor="end" fill="#222">1.5</text>
<text x="503.6" y="467.6" font-size="6.45" font-weight="bold" text-anchor="middle" fill="#222" transform="rotate(-90 503.6 467.6)">Cell viability</text>
<text x="491.7" y="421.6" font-size="9.6" font-weight="bold">H</text>
<path d="M524.6 516 L524.6 450 L529.8 450 L529.8 516" fill="none" stroke="#1a1a1a" stroke-width="1"/>
<line x1="527.2" y1="451.32" x2="527.2" y2="448.68" stroke="#1a1a1a" stroke-width="0.6"/>
<line x1="525.8" y1="448.68" x2="528.6" y2="448.68" stroke="#1a1a1a" stroke-width="0.6"/>
<circle cx="525.7" cy="450.37" r="0.9" fill="#111"/>
<circle cx="527.2" cy="448.99" r="0.9" fill="#111"/>
<circle cx="528.7" cy="448.79" r="0.9" fill="#111"/>
<circle cx="525.7" cy="450.92" r="0.9" fill="#111"/>
<circle cx="527.2" cy="450.85" r="0.9" fill="#111"/>
<path d="M532.7 516 L532.7 451.32 L537.9 451.32 L537.9 516" fill="none" stroke="#a6998a" stroke-width="1"/>
<line x1="535.3" y1="453.96" x2="535.3" y2="448.68" stroke="#a6998a" stroke-width="0.6"/>
<line x1="533.9" y1="448.68" x2="536.7" y2="448.68" stroke="#a6998a" stroke-width="0.6"/>
<circle cx="533.8" cy="452.74" r="0.9" fill="#f0a040"/>
<circle cx="535.3" cy="452.73" r="0.9" fill="#f0a040"/>
<circle cx="536.8" cy="451.4" r="0.9" fill="#f0a040"/>
<circle cx="533.8" cy="450.85" r="0.9" fill="#f0a040"/>
<circle cx="535.3" cy="452.57" r="0.9" fill="#f0a040"/>
<path d="M540.2 516 L540.2 488.94 L545.4 488.94 L545.4 516" fill="none" stroke="#5b86c4" stroke-width="1"/>
<line x1="542.8" y1="492.24" x2="542.8" y2="485.64" stroke="#5b86c4" stroke-width="0.6"/>
<line x1="541.4" y1="485.64" x2="544.2" y2="485.64" stroke="#5b86c4" stroke-width="0.6"/>
<circle cx="541.3" cy="492.21" r="0.9" fill="#86aee0"/>
<circle cx="542.8" cy="489.47" r="0.9" fill="#86aee0"/>
<circle cx="544.3" cy="489.8" r="0.9" fill="#86aee0"/>
<circle cx="541.3" cy="488.5" r="0.9" fill="#86aee0"/>
<circle cx="542.8" cy="485.95" r="0.9" fill="#86aee0"/>
<path d="M546.9 516 L546.9 506.1 L552.1 506.1 L552.1 516" fill="none" stroke="#e67a7a" stroke-width="1"/>
<line x1="549.5" y1="507.42" x2="549.5" y2="504.78" stroke="#e67a7a" stroke-width="0.6"/>
<line x1="548.1" y1="504.78" x2="550.9" y2="504.78" stroke="#e67a7a" stroke-width="0.6"/>
<circle cx="548" cy="505.6" r="0.9" fill="#f09090"/>
<circle cx="549.5" cy="506.06" r="0.9" fill="#f09090"/>
<circle cx="551" cy="505.79" r="0.9" fill="#f09090"/>
<circle cx="548" cy="505.63" r="0.9" fill="#f09090"/>
<circle cx="549.5" cy="507.28" r="0.9" fill="#f09090"/>
<path d="M554.4 516 L554.4 479.7 L559.6 479.7 L559.6 516" fill="none" stroke="#9a9a9a" stroke-width="1"/>
<line x1="557" y1="492.9" x2="557" y2="466.5" stroke="#9a9a9a" stroke-width="0.6"/>
<line x1="555.6" y1="466.5" x2="558.4" y2="466.5" stroke="#9a9a9a" stroke-width="0.6"/>
<circle cx="555.5" cy="469.15" r="0.9" fill="#b0b0b0"/>
<circle cx="557" cy="472.31" r="0.9" fill="#b0b0b0"/>
<circle cx="558.5" cy="469.81" r="0.9" fill="#b0b0b0"/>
<circle cx="555.5" cy="471.84" r="0.9" fill="#b0b0b0"/>
<circle cx="557" cy="482.54" r="0.9" fill="#b0b0b0"/>
<path d="M561.4 516 L561.4 484.98 L566.6 484.98 L566.6 516" fill="none" stroke="#2a8f8f" stroke-width="1"/>
<line x1="564" y1="490.26" x2="564" y2="479.7" stroke="#2a8f8f" stroke-width="0.6"/>
<line x1="562.6" y1="479.7" x2="565.4" y2="479.7" stroke="#2a8f8f" stroke-width="0.6"/>
<circle cx="562.5" cy="486.05" r="0.9" fill="#2a9a9a"/>
<circle cx="564" cy="489.17" r="0.9" fill="#2a9a9a"/>
<circle cx="565.5" cy="483.56" r="0.9" fill="#2a9a9a"/>
<circle cx="562.5" cy="489.6" r="0.9" fill="#2a9a9a"/>
<circle cx="564" cy="489.55" r="0.9" fill="#2a9a9a"/>
<path d="M568.3 516 L568.3 495.54 L573.5 495.54 L573.5 516" fill="none" stroke="#5a2ab8" stroke-width="1"/>
<line x1="570.9" y1="496.86" x2="570.9" y2="494.22" stroke="#5a2ab8" stroke-width="0.6"/>
<line x1="569.5" y1="494.22" x2="572.3" y2="494.22" stroke="#5a2ab8" stroke-width="0.6"/>
<circle cx="569.4" cy="496.31" r="0.9" fill="#6a3ac8"/>
<circle cx="570.9" cy="496.43" r="0.9" fill="#6a3ac8"/>
<circle cx="572.4" cy="495.96" r="0.9" fill="#6a3ac8"/>
<circle cx="569.4" cy="496.72" r="0.9" fill="#6a3ac8"/>
<circle cx="570.9" cy="496.86" r="0.9" fill="#6a3ac8"/>
<path d="M575.4 516 L575.4 506.1 L580.6 506.1 L580.6 516" fill="none" stroke="#a02030" stroke-width="1"/>
<line x1="578" y1="508.08" x2="578" y2="504.12" stroke="#a02030" stroke-width="0.6"/>
<line x1="576.6" y1="504.12" x2="579.4" y2="504.12" stroke="#a02030" stroke-width="0.6"/>
<circle cx="576.5" cy="507.48" r="0.9" fill="#a02030"/>
<circle cx="578" cy="507.68" r="0.9" fill="#a02030"/>
<circle cx="579.5" cy="506.64" r="0.9" fill="#a02030"/>
<circle cx="576.5" cy="507.98" r="0.9" fill="#a02030"/>
<circle cx="578" cy="504.62" r="0.9" fill="#a02030"/>
<path d="M586.8 516 L586.8 450 L592 450 L592 516" fill="none" stroke="#1a1a1a" stroke-width="1"/>
<line x1="589.4" y1="451.32" x2="589.4" y2="448.68" stroke="#1a1a1a" stroke-width="0.6"/>
<line x1="588" y1="448.68" x2="590.8" y2="448.68" stroke="#1a1a1a" stroke-width="0.6"/>
<circle cx="587.9" cy="449.7" r="0.9" fill="#111"/>
<circle cx="589.4" cy="450.93" r="0.9" fill="#111"/>
<circle cx="590.9" cy="450.65" r="0.9" fill="#111"/>
<circle cx="587.9" cy="450.4" r="0.9" fill="#111"/>
<circle cx="589.4" cy="450.36" r="0.9" fill="#111"/>
<path d="M594 516 L594 450 L599.2 450 L599.2 516" fill="none" stroke="#a6998a" stroke-width="1"/>
<line x1="596.6" y1="452.64" x2="596.6" y2="447.36" stroke="#a6998a" stroke-width="0.6"/>
<line x1="595.2" y1="447.36" x2="598" y2="447.36" stroke="#a6998a" stroke-width="0.6"/>
<circle cx="595.1" cy="451.99" r="0.9" fill="#f0a040"/>
<circle cx="596.6" cy="448.16" r="0.9" fill="#f0a040"/>
<circle cx="598.1" cy="447.4" r="0.9" fill="#f0a040"/>
<circle cx="595.1" cy="450.18" r="0.9" fill="#f0a040"/>
<circle cx="596.6" cy="450.09" r="0.9" fill="#f0a040"/>
<path d="M601 516 L601 505.44 L606.2 505.44 L606.2 516" fill="none" stroke="#5b86c4" stroke-width="1"/>
<line x1="603.6" y1="506.76" x2="603.6" y2="504.12" stroke="#5b86c4" stroke-width="0.6"/>
<line x1="602.2" y1="504.12" x2="605" y2="504.12" stroke="#5b86c4" stroke-width="0.6"/>
<circle cx="602.1" cy="506.53" r="0.9" fill="#86aee0"/>
<circle cx="603.6" cy="506.49" r="0.9" fill="#86aee0"/>
<circle cx="605.1" cy="505.86" r="0.9" fill="#86aee0"/>
<circle cx="602.1" cy="506.06" r="0.9" fill="#86aee0"/>
<circle cx="603.6" cy="504.57" r="0.9" fill="#86aee0"/>
<path d="M608.2 516 L608.2 505.44 L613.4 505.44 L613.4 516" fill="none" stroke="#e67a7a" stroke-width="1"/>
<line x1="610.8" y1="508.08" x2="610.8" y2="502.8" stroke="#e67a7a" stroke-width="0.6"/>
<line x1="609.4" y1="502.8" x2="612.2" y2="502.8" stroke="#e67a7a" stroke-width="0.6"/>
<circle cx="609.3" cy="507.23" r="0.9" fill="#f09090"/>
<circle cx="610.8" cy="507.96" r="0.9" fill="#f09090"/>
<circle cx="612.3" cy="503.06" r="0.9" fill="#f09090"/>
<circle cx="609.3" cy="505.29" r="0.9" fill="#f09090"/>
<circle cx="610.8" cy="507.31" r="0.9" fill="#f09090"/>
<path d="M615.7 516 L615.7 491.58 L620.9 491.58 L620.9 516" fill="none" stroke="#9a9a9a" stroke-width="1"/>
<line x1="618.3" y1="496.86" x2="618.3" y2="486.3" stroke="#9a9a9a" stroke-width="0.6"/>
<line x1="616.9" y1="486.3" x2="619.7" y2="486.3" stroke="#9a9a9a" stroke-width="0.6"/>
<circle cx="616.8" cy="491.12" r="0.9" fill="#b0b0b0"/>
<circle cx="618.3" cy="496.57" r="0.9" fill="#b0b0b0"/>
<circle cx="619.8" cy="491.28" r="0.9" fill="#b0b0b0"/>
<circle cx="616.8" cy="486.53" r="0.9" fill="#b0b0b0"/>
<circle cx="618.3" cy="487.74" r="0.9" fill="#b0b0b0"/>
<path d="M622.9 516 L622.9 491.58 L628.1 491.58 L628.1 516" fill="none" stroke="#2a8f8f" stroke-width="1"/>
<line x1="625.5" y1="501.48" x2="625.5" y2="481.68" stroke="#2a8f8f" stroke-width="0.6"/>
<line x1="624.1" y1="481.68" x2="626.9" y2="481.68" stroke="#2a8f8f" stroke-width="0.6"/>
<circle cx="624" cy="487.7" r="0.9" fill="#2a9a9a"/>
<circle cx="625.5" cy="496.31" r="0.9" fill="#2a9a9a"/>
<circle cx="627" cy="494.22" r="0.9" fill="#2a9a9a"/>
<circle cx="624" cy="498.17" r="0.9" fill="#2a9a9a"/>
<circle cx="625.5" cy="486.2" r="0.9" fill="#2a9a9a"/>
<path d="M629.9 516 L629.9 506.76 L635.1 506.76 L635.1 516" fill="none" stroke="#5a2ab8" stroke-width="1"/>
<line x1="632.5" y1="508.08" x2="632.5" y2="505.44" stroke="#5a2ab8" stroke-width="0.6"/>
<line x1="631.1" y1="505.44" x2="633.9" y2="505.44" stroke="#5a2ab8" stroke-width="0.6"/>
<circle cx="631" cy="506.67" r="0.9" fill="#6a3ac8"/>
<circle cx="632.5" cy="506.02" r="0.9" fill="#6a3ac8"/>
<circle cx="634" cy="507.21" r="0.9" fill="#6a3ac8"/>
<circle cx="631" cy="507.49" r="0.9" fill="#6a3ac8"/>
<circle cx="632.5" cy="505.94" r="0.9" fill="#6a3ac8"/>
<path d="M637 516 L637 508.08 L642.2 508.08 L642.2 516" fill="none" stroke="#a02030" stroke-width="1"/>
<line x1="639.6" y1="510.06" x2="639.6" y2="506.1" stroke="#a02030" stroke-width="0.6"/>
<line x1="638.2" y1="506.1" x2="641" y2="506.1" stroke="#a02030" stroke-width="0.6"/>
<circle cx="638.1" cy="506.16" r="0.9" fill="#a02030"/>
<circle cx="639.6" cy="506.68" r="0.9" fill="#a02030"/>
<circle cx="641.1" cy="506.87" r="0.9" fill="#a02030"/>
<circle cx="638.1" cy="506.82" r="0.9" fill="#a02030"/>
<circle cx="639.6" cy="507.13" r="0.9" fill="#a02030"/>
<line x1="553.2" y1="516" x2="553.2" y2="518.4" stroke="#222" stroke-width="0.9"/>
<text x="553.2" y="527.6" font-size="7.6" font-weight="bold" text-anchor="middle" fill="#111">WT</text>
<line x1="614.5" y1="516" x2="614.5" y2="518.4" stroke="#222" stroke-width="0.9"/>
<text x="614.5" y="527.6" font-size="7.6" font-weight="bold" text-anchor="middle" fill="#111">KO</text>
<line x1="527.2" y1="443.2" x2="536.4" y2="443.2" stroke="#444" stroke-width="0.6"/>
<text x="531.8" y="442.1" font-size="4.6" text-anchor="middle" fill="#333">ns</text>
<line x1="542.4" y1="480" x2="549.9" y2="480" stroke="#444" stroke-width="0.6"/>
<text x="546.15" y="478.9" font-size="4.6" text-anchor="middle" fill="#333">***</text>
<line x1="556.6" y1="466.9" x2="564.1" y2="466.9" stroke="#444" stroke-width="0.6"/>
<text x="560.35" y="465.8" font-size="4.6" text-anchor="middle" fill="#333">*</text>
<line x1="570.4" y1="491.3" x2="578.4" y2="491.3" stroke="#444" stroke-width="0.6"/>
<text x="574.4" y="490.2" font-size="4.6" text-anchor="middle" fill="#333">***</text>
<line x1="588.1" y1="443.2" x2="597.8" y2="443.2" stroke="#444" stroke-width="0.6"/>
<text x="592.95" y="442.1" font-size="4.6" text-anchor="middle" fill="#333">ns</text>
<line x1="604.2" y1="500.3" x2="612" y2="500.3" stroke="#444" stroke-width="0.6"/>
<text x="608.1" y="499.2" font-size="4.6" text-anchor="middle" fill="#333">ns</text>
<line x1="617.9" y1="478.1" x2="625.7" y2="478.1" stroke="#444" stroke-width="0.6"/>
<text x="621.8" y="477" font-size="4.6" text-anchor="middle" fill="#333">ns</text>
<line x1="632.2" y1="501.6" x2="639.6" y2="501.6" stroke="#444" stroke-width="0.6"/>
<text x="635.9" y="500.5" font-size="4.6" text-anchor="middle" fill="#333">ns</text>
<circle cx="642.2" cy="419.3" r="1" fill="#111"/>
<text x="653.6" y="421.3" font-size="5.8" fill="#222">DMSO</text>
<circle cx="642.2" cy="425.65" r="1" fill="#f0a040"/>
<text x="653.6" y="427.65" font-size="5.8" fill="#222">BAG</text>
<circle cx="642.2" cy="432" r="1" fill="#86aee0"/>
<text x="653.6" y="434" font-size="5.8" fill="#222">Cisplatin</text>
<circle cx="642.2" cy="438.35" r="1" fill="#f09090"/>
<text x="653.6" y="440.35" font-size="5.8" fill="#222">BAG+Cis</text>
<circle cx="642.2" cy="444.7" r="1" fill="#b0b0b0"/>
<text x="653.6" y="446.7" font-size="5.8" fill="#222">5-FU</text>
<circle cx="642.2" cy="451.05" r="1" fill="#2a9a9a"/>
<text x="653.6" y="453.05" font-size="5.8" fill="#222">BAG+5-FU</text>
<circle cx="642.2" cy="457.4" r="1" fill="#6a3ac8"/>
<text x="653.6" y="459.4" font-size="5.8" fill="#222">Bleomycin</text>
<circle cx="642.2" cy="463.75" r="1" fill="#a02030"/>
<text x="653.6" y="465.75" font-size="5.8" fill="#222">BAG+Bleo</text>
<rect x="45.5" y="571.6" width="189.1" height="183.6" fill="#fff"/>
<line x1="54.2" y1="571.6" x2="54.2" y2="755.2" stroke="#d8d8d8" stroke-width="0.5" stroke-dasharray="1 1.4"/>
<line x1="68.5" y1="571.6" x2="68.5" y2="755.2" stroke="#d8d8d8" stroke-width="0.5" stroke-dasharray="1 1.4"/>
<line x1="82.8" y1="571.6" x2="82.8" y2="755.2" stroke="#d8d8d8" stroke-width="0.5" stroke-dasharray="1 1.4"/>
<line x1="97.1" y1="571.6" x2="97.1" y2="755.2" stroke="#d8d8d8" stroke-width="0.5" stroke-dasharray="1 1.4"/>
<line x1="111.4" y1="571.6" x2="111.4" y2="755.2" stroke="#d8d8d8" stroke-width="0.5" stroke-dasharray="1 1.4"/>
<line x1="125.7" y1="571.6" x2="125.7" y2="755.2" stroke="#d8d8d8" stroke-width="0.5" stroke-dasharray="1 1.4"/>
<line x1="140" y1="571.6" x2="140" y2="755.2" stroke="#d8d8d8" stroke-width="0.5" stroke-dasharray="1 1.4"/>
<line x1="154.3" y1="571.6" x2="154.3" y2="755.2" stroke="#d8d8d8" stroke-width="0.5" stroke-dasharray="1 1.4"/>
<line x1="168.6" y1="571.6" x2="168.6" y2="755.2" stroke="#d8d8d8" stroke-width="0.5" stroke-dasharray="1 1.4"/>
<line x1="182.9" y1="571.6" x2="182.9" y2="755.2" stroke="#d8d8d8" stroke-width="0.5" stroke-dasharray="1 1.4"/>
<line x1="197.2" y1="571.6" x2="197.2" y2="755.2" stroke="#d8d8d8" stroke-width="0.5" stroke-dasharray="1 1.4"/>
<line x1="211.5" y1="571.6" x2="211.5" y2="755.2" stroke="#d8d8d8" stroke-width="0.5" stroke-dasharray="1 1.4"/>
<line x1="225.8" y1="571.6" x2="225.8" y2="755.2" stroke="#d8d8d8" stroke-width="0.5" stroke-dasharray="1 1.4"/>
<line x1="45.5" y1="578.1" x2="234.6" y2="578.1" stroke="#d8d8d8" stroke-width="0.5" stroke-dasharray="1 1.4"/>
<line x1="45.5" y1="588.79" x2="234.6" y2="588.79" stroke="#d8d8d8" stroke-width="0.5" stroke-dasharray="1 1.4"/>
<line x1="45.5" y1="599.48" x2="234.6" y2="599.48" stroke="#d8d8d8" stroke-width="0.5" stroke-dasharray="1 1.4"/>
<line x1="45.5" y1="610.17" x2="234.6" y2="610.17" stroke="#d8d8d8" stroke-width="0.5" stroke-dasharray="1 1.4"/>
<line x1="45.5" y1="620.86" x2="234.6" y2="620.86" stroke="#d8d8d8" stroke-width="0.5" stroke-dasharray="1 1.4"/>
<line x1="45.5" y1="631.55" x2="234.6" y2="631.55" stroke="#d8d8d8" stroke-width="0.5" stroke-dasharray="1 1.4"/>
<line x1="45.5" y1="642.24" x2="234.6" y2="642.24" stroke="#d8d8d8" stroke-width="0.5" stroke-dasharray="1 1.4"/>
<line x1="45.5" y1="652.93" x2="234.6" y2="652.93" stroke="#d8d8d8" stroke-width="0.5" stroke-dasharray="1 1.4"/>
<line x1="45.5" y1="663.62" x2="234.6" y2="663.62" stroke="#d8d8d8" stroke-width="0.5" stroke-dasharray="1 1.4"/>
<line x1="45.5" y1="674.31" x2="234.6" y2="674.31" stroke="#d8d8d8" stroke-width="0.5" stroke-dasharray="1 1.4"/>
<line x1="45.5" y1="685" x2="234.6" y2="685" stroke="#d8d8d8" stroke-width="0.5" stroke-dasharray="1 1.4"/>
<line x1="45.5" y1="695.69" x2="234.6" y2="695.69" stroke="#d8d8d8" stroke-width="0.5" stroke-dasharray="1 1.4"/>
<line x1="45.5" y1="706.38" x2="234.6" y2="706.38" stroke="#d8d8d8" stroke-width="0.5" stroke-dasharray="1 1.4"/>
<line x1="45.5" y1="717.07" x2="234.6" y2="717.07" stroke="#d8d8d8" stroke-width="0.5" stroke-dasharray="1 1.4"/>
<line x1="45.5" y1="727.76" x2="234.6" y2="727.76" stroke="#d8d8d8" stroke-width="0.5" stroke-dasharray="1 1.4"/>
<line x1="45.5" y1="738.45" x2="234.6" y2="738.45" stroke="#d8d8d8" stroke-width="0.5" stroke-dasharray="1 1.4"/>
<line x1="45.5" y1="749.14" x2="234.6" y2="749.14" stroke="#d8d8d8" stroke-width="0.5" stroke-dasharray="1 1.4"/>
<circle cx="54.2" cy="578.1" r="4.3" fill="#f03c22" stroke="#1a1a1a" stroke-width="0.85"/>
<circle cx="68.5" cy="578.1" r="3.6" fill="#f57354" stroke="#1a1a1a" stroke-width="0.85"/>
<circle cx="82.8" cy="578.1" r="4.3" fill="#f03c22" stroke="#1a1a1a" stroke-width="0.85"/>
<circle cx="97.1" cy="578.1" r="3.6" fill="#f57354" stroke="#1a1a1a" stroke-width="0.85"/>
<circle cx="111.4" cy="578.1" r="4.3" fill="#f03c22" stroke="#1a1a1a" stroke-width="0.85"/>
<circle cx="125.7" cy="578.1" r="3.6" fill="#f57354" stroke="#1a1a1a" stroke-width="0.85"/>
<circle cx="140" cy="578.1" r="4.3" fill="#f03c22" stroke="#1a1a1a" stroke-width="0.85"/>
<circle cx="154.3" cy="578.1" r="2.95" fill="#f8947a" stroke="#1a1a1a" stroke-width="0.85"/>
<circle cx="168.6" cy="578.1" r="3.6" fill="#f57354" stroke="#1a1a1a" stroke-width="0.85"/>
<circle cx="182.9" cy="578.1" r="2.95" fill="#f8947a" stroke="#1a1a1a" stroke-width="0.85"/>
<circle cx="197.2" cy="578.1" r="3.6" fill="#f57354" stroke="#1a1a1a" stroke-width="0.85"/>
<circle cx="211.5" cy="578.1" r="3.6" fill="#f57354" stroke="#1a1a1a" stroke-width="0.85"/>
<circle cx="225.8" cy="578.1" r="2.2" fill="#facbbd" stroke="#c8c8c8" stroke-width="0.35"/>
<circle cx="54.2" cy="588.79" r="2.95" fill="#f8947a" stroke="#1a1a1a" stroke-width="0.85"/>
<circle cx="68.5" cy="588.79" r="2.95" fill="#f8947a" stroke="#1a1a1a" stroke-width="0.85"/>
<circle cx="82.8" cy="588.79" r="3.6" fill="#f57354" stroke="#1a1a1a" stroke-width="0.85"/>
<circle cx="97.1" cy="588.79" r="3.6" fill="#f57354" stroke="#1a1a1a" stroke-width="0.85"/>
<circle cx="111.4" cy="588.79" r="3.6" fill="#f57354" stroke="#1a1a1a" stroke-width="0.85"/>
<circle cx="125.7" cy="588.79" r="2.95" fill="#f8947a" stroke="#1a1a1a" stroke-width="0.85"/>
<circle cx="140" cy="588.79" r="2.95" fill="#f8947a" stroke="#1a1a1a" stroke-width="0.85"/>
<circle cx="154.3" cy="588.79" r="4.3" fill="#f03c22" stroke="#1a1a1a" stroke-width="0.85"/>
<circle cx="168.6" cy="588.79" r="2.95" fill="#f8947a" stroke="#1a1a1a" stroke-width="0.85"/>
<circle cx="182.9" cy="588.79" r="2.95" fill="#f8947a" stroke="#1a1a1a" stroke-width="0.85"/>
<circle cx="197.2" cy="588.79" r="3.6" fill="#f57354" stroke="#1a1a1a" stroke-width="0.85"/>
<circle cx="211.5" cy="588.79" r="1.9" fill="#f1eaee" stroke="#c8c8c8" stroke-width="0.35"/>
<circle cx="225.8" cy="588.79" r="2.2" fill="#facbbd" stroke="#c8c8c8" stroke-width="0.35"/>
<circle cx="54.2" cy="599.48" r="4.3" fill="#f03c22" stroke="#1a1a1a" stroke-width="0.85"/>
<circle cx="68.5" cy="599.48" r="4.3" fill="#f03c22" stroke="#1a1a1a" stroke-width="0.85"/>
<circle cx="82.8" cy="599.48" r="4.3" fill="#f03c22" stroke="#1a1a1a" stroke-width="0.85"/>
<circle cx="97.1" cy="599.48" r="2.4" fill="#f9b09a" stroke="#1a1a1a" stroke-width="0.85"/>
<circle cx="111.4" cy="599.48" r="4.3" fill="#f03c22" stroke="#1a1a1a" stroke-width="0.85"/>
<circle cx="125.7" cy="599.48" r="3.6" fill="#f57354" stroke="#1a1a1a" stroke-width="0.85"/>
<circle cx="140" cy="599.48" r="4.3" fill="#f03c22" stroke="#1a1a1a" stroke-width="0.85"/>
<circle cx="154.3" cy="599.48" r="3.6" fill="#f57354" stroke="#1a1a1a" stroke-width="0.85"/>
<circle cx="168.6" cy="599.48" r="2.2" fill="#facbbd" stroke="#c8c8c8" stroke-width="0.35"/>
<circle cx="182.9" cy="599.48" r="2.95" fill="#f8947a" stroke="#1a1a1a" stroke-width="0.85"/>
<circle cx="197.2" cy="599.48" r="2.95" fill="#f8947a" stroke="#1a1a1a" stroke-width="0.85"/>
<circle cx="211.5" cy="599.48" r="3.6" fill="#f57354" stroke="#1a1a1a" stroke-width="0.85"/>
<circle cx="225.8" cy="599.48" r="2.2" fill="#facbbd" stroke="#c8c8c8" stroke-width="0.35"/>
<circle cx="54.2" cy="610.17" r="2.95" fill="#f8947a" stroke="#1a1a1a" stroke-width="0.85"/>
<circle cx="68.5" cy="610.17" r="3.6" fill="#f57354" stroke="#1a1a1a" stroke-width="0.85"/>
<circle cx="82.8" cy="610.17" r="3.6" fill="#f57354" stroke="#1a1a1a" stroke-width="0.85"/>
<circle cx="97.1" cy="610.17" r="2.95" fill="#f8947a" stroke="#1a1a1a" stroke-width="0.85"/>
<circle cx="111.4" cy="610.17" r="4.3" fill="#f03c22" stroke="#1a1a1a" stroke-width="0.85"/>
<circle cx="125.7" cy="610.17" r="3.6" fill="#f57354" stroke="#1a1a1a" stroke-width="0.85"/>
<circle cx="140" cy="610.17" r="3.6" fill="#f57354" stroke="#1a1a1a" stroke-width="0.85"/>
<circle cx="154.3" cy="610.17" r="4.3" fill="#f03c22" stroke="#1a1a1a" stroke-width="0.85"/>
<circle cx="168.6" cy="610.17" r="2.2" fill="#facbbd" stroke="#c8c8c8" stroke-width="0.35"/>
<circle cx="182.9" cy="610.17" r="3.6" fill="#f57354" stroke="#1a1a1a" stroke-width="0.85"/>
<circle cx="197.2" cy="610.17" r="3.6" fill="#f57354" stroke="#1a1a1a" stroke-width="0.85"/>
<circle cx="211.5" cy="610.17" r="2.95" fill="#f8947a" stroke="#1a1a1a" stroke-width="0.85"/>
<circle cx="225.8" cy="610.17" r="2.95" fill="#f8947a" stroke="#1a1a1a" stroke-width="0.85"/>
<circle cx="54.2" cy="620.86" r="2.95" fill="#f8947a" stroke="#1a1a1a" stroke-width="0.85"/>
<circle cx="68.5" cy="620.86" r="2.4" fill="#f9b09a" stroke="#1a1a1a" stroke-width="0.85"/>
<circle cx="82.8" cy="620.86" r="2.95" fill="#f8947a" stroke="#1a1a1a" stroke-width="0.85"/>
<circle cx="97.1" cy="620.86" r="2.95" fill="#f8947a" stroke="#1a1a1a" stroke-width="0.85"/>
<circle cx="111.4" cy="620.86" r="2.95" fill="#f8947a" stroke="#1a1a1a" stroke-width="0.85"/>
<circle cx="125.7" cy="620.86" r="2.2" fill="#facbbd" stroke="#c8c8c8" stroke-width="0.35"/>
<circle cx="140" cy="620.86" r="2.4" fill="#f9b09a" stroke="#1a1a1a" stroke-width="0.85"/>
<circle cx="154.3" cy="620.86" r="3.6" fill="#f57354" stroke="#1a1a1a" stroke-width="0.85"/>
<circle cx="168.6" cy="620.86" r="2.95" fill="#f8947a" stroke="#1a1a1a" stroke-width="0.85"/>
<circle cx="182.9" cy="620.86" r="3.6" fill="#f57354" stroke="#1a1a1a" stroke-width="0.85"/>
<circle cx="197.2" cy="620.86" r="2.95" fill="#f8947a" stroke="#1a1a1a" stroke-width="0.85"/>
<circle cx="211.5" cy="620.86" r="2.1" fill="#dacdf6" stroke="#c8c8c8" stroke-width="0.35"/>
<circle cx="225.8" cy="620.86" r="2.95" fill="#f8947a" stroke="#1a1a1a" stroke-width="0.85"/>
<circle cx="54.2" cy="631.55" r="2.95" fill="#f8947a" stroke="#1a1a1a" stroke-width="0.85"/>
<circle cx="68.5" cy="631.55" r="2.95" fill="#f8947a" stroke="#1a1a1a" stroke-width="0.85"/>
<circle cx="82.8" cy="631.55" r="3.6" fill="#f57354" stroke="#1a1a1a" stroke-width="0.85"/>
<circle cx="97.1" cy="631.55" r="2.95" fill="#f8947a" stroke="#1a1a1a" stroke-width="0.85"/>
<circle cx="111.4" cy="631.55" r="3.6" fill="#f57354" stroke="#1a1a1a" stroke-width="0.85"/>
<circle cx="125.7" cy="631.55" r="2.95" fill="#f8947a" stroke="#1a1a1a" stroke-width="0.85"/>
<circle cx="140" cy="631.55" r="3.6" fill="#f57354" stroke="#1a1a1a" stroke-width="0.85"/>
<circle cx="154.3" cy="631.55" r="3.6" fill="#f57354" stroke="#1a1a1a" stroke-width="0.85"/>
<circle cx="168.6" cy="631.55" r="2.2" fill="#facbbd" stroke="#c8c8c8" stroke-width="0.35"/>
<circle cx="182.9" cy="631.55" r="2.95" fill="#f8947a" stroke="#1a1a1a" stroke-width="0.85"/>
<circle cx="197.2" cy="631.55" r="3.6" fill="#f57354" stroke="#1a1a1a" stroke-width="0.85"/>
<circle cx="211.5" cy="631.55" r="2.2" fill="#facbbd" stroke="#c8c8c8" stroke-width="0.35"/>
<circle cx="225.8" cy="631.55" r="1.9" fill="#f1eaee" stroke="#c8c8c8" stroke-width="0.35"/>
<circle cx="54.2" cy="642.24" r="2.2" fill="#facbbd" stroke="#c8c8c8" stroke-width="0.35"/>
<circle cx="68.5" cy="642.24" r="3.6" fill="#f57354" stroke="#1a1a1a" stroke-width="0.85"/>
<circle cx="82.8" cy="642.24" r="3.6" fill="#f57354" stroke="#1a1a1a" stroke-width="0.85"/>
<circle cx="97.1" cy="642.24" r="2.95" fill="#f8947a" stroke="#1a1a1a" stroke-width="0.85"/>
<circle cx="111.4" cy="642.24" r="2.95" fill="#f8947a" stroke="#1a1a1a" stroke-width="0.85"/>
<circle cx="125.7" cy="642.24" r="3.6" fill="#f57354" stroke="#1a1a1a" stroke-width="0.85"/>
<circle cx="140" cy="642.24" r="2.1" fill="#dacdf6" stroke="#c8c8c8" stroke-width="0.35"/>
<circle cx="154.3" cy="642.24" r="3.6" fill="#f57354" stroke="#1a1a1a" stroke-width="0.85"/>
<circle cx="168.6" cy="642.24" r="2.95" fill="#f8947a" stroke="#1a1a1a" stroke-width="0.85"/>
<circle cx="182.9" cy="642.24" r="2.95" fill="#f8947a" stroke="#1a1a1a" stroke-width="0.85"/>
<circle cx="197.2" cy="642.24" r="3.6" fill="#f57354" stroke="#1a1a1a" stroke-width="0.85"/>
<circle cx="211.5" cy="642.24" r="2.1" fill="#dacdf6" stroke="#c8c8c8" stroke-width="0.35"/>
<circle cx="225.8" cy="642.24" r="2.2" fill="#facbbd" stroke="#c8c8c8" stroke-width="0.35"/>
<circle cx="54.2" cy="652.93" r="2.95" fill="#f8947a" stroke="#1a1a1a" stroke-width="0.85"/>
<circle cx="68.5" cy="652.93" r="3.6" fill="#f57354" stroke="#1a1a1a" stroke-width="0.85"/>
<circle cx="82.8" cy="652.93" r="3.6" fill="#f57354" stroke="#1a1a1a" stroke-width="0.85"/>
<circle cx="97.1" cy="652.93" r="3.6" fill="#f57354" stroke="#1a1a1a" stroke-width="0.85"/>
<circle cx="111.4" cy="652.93" r="3.6" fill="#f57354" stroke="#1a1a1a" stroke-width="0.85"/>
<circle cx="125.7" cy="652.93" r="3.6" fill="#f57354" stroke="#1a1a1a" stroke-width="0.85"/>
<circle cx="140" cy="652.93" r="1.9" fill="#f1eaee" stroke="#c8c8c8" stroke-width="0.35"/>
<circle cx="154.3" cy="652.93" r="3.6" fill="#f57354" stroke="#1a1a1a" stroke-width="0.85"/>
<circle cx="168.6" cy="652.93" r="2.2" fill="#facbbd" stroke="#c8c8c8" stroke-width="0.35"/>
<circle cx="182.9" cy="652.93" r="2.2" fill="#facbbd" stroke="#c8c8c8" stroke-width="0.35"/>
<circle cx="197.2" cy="652.93" r="2.95" fill="#f8947a" stroke="#1a1a1a" stroke-width="0.85"/>
<circle cx="211.5" cy="652.93" r="2.95" fill="#f8947a" stroke="#1a1a1a" stroke-width="0.85"/>
<circle cx="225.8" cy="652.93" r="1.9" fill="#f1eaee" stroke="#c8c8c8" stroke-width="0.35"/>
<circle cx="54.2" cy="663.62" r="2.95" fill="#f8947a" stroke="#1a1a1a" stroke-width="0.85"/>
<circle cx="68.5" cy="663.62" r="2.95" fill="#f8947a" stroke="#1a1a1a" stroke-width="0.85"/>
<circle cx="82.8" cy="663.62" r="3.6" fill="#f57354" stroke="#1a1a1a" stroke-width="0.85"/>
<circle cx="97.1" cy="663.62" r="2.2" fill="#facbbd" stroke="#c8c8c8" stroke-width="0.35"/>
<circle cx="111.4" cy="663.62" r="3.6" fill="#f57354" stroke="#1a1a1a" stroke-width="0.85"/>
<circle cx="125.7" cy="663.62" r="2.95" fill="#f8947a" stroke="#1a1a1a" stroke-width="0.85"/>
<circle cx="140" cy="663.62" r="3.6" fill="#f57354" stroke="#1a1a1a" stroke-width="0.85"/>
<circle cx="154.3" cy="663.62" r="3.6" fill="#f57354" stroke="#1a1a1a" stroke-width="0.85"/>
<circle cx="168.6" cy="663.62" r="1.9" fill="#f1eaee" stroke="#c8c8c8" stroke-width="0.35"/>
<circle cx="182.9" cy="663.62" r="2.95" fill="#f8947a" stroke="#1a1a1a" stroke-width="0.85"/>
<circle cx="197.2" cy="663.62" r="3.6" fill="#f57354" stroke="#1a1a1a" stroke-width="0.85"/>
<circle cx="211.5" cy="663.62" r="1.9" fill="#f1eaee" stroke="#c8c8c8" stroke-width="0.35"/>
<circle cx="225.8" cy="663.62" r="2.95" fill="#f8947a" stroke="#1a1a1a" stroke-width="0.85"/>
<circle cx="54.2" cy="674.31" r="3.6" fill="#f57354" stroke="#1a1a1a" stroke-width="0.85"/>
<circle cx="68.5" cy="674.31" r="3.6" fill="#f57354" stroke="#1a1a1a" stroke-width="0.85"/>
<circle cx="82.8" cy="674.31" r="4.3" fill="#f03c22" stroke="#1a1a1a" stroke-width="0.85"/>
<circle cx="97.1" cy="674.31" r="4.3" fill="#f03c22" stroke="#1a1a1a" stroke-width="0.85"/>
<circle cx="111.4" cy="674.31" r="3.6" fill="#f57354" stroke="#1a1a1a" stroke-width="0.85"/>
<circle cx="125.7" cy="674.31" r="3.6" fill="#f57354" stroke="#1a1a1a" stroke-width="0.85"/>
<circle cx="140" cy="674.31" r="2.95" fill="#f8947a" stroke="#1a1a1a" stroke-width="0.85"/>
<circle cx="154.3" cy="674.31" r="1.9" fill="#f1eaee" stroke="#c8c8c8" stroke-width="0.35"/>
<circle cx="168.6" cy="674.31" r="3.6" fill="#f57354" stroke="#1a1a1a" stroke-width="0.85"/>
<circle cx="182.9" cy="674.31" r="1.9" fill="#f1eaee" stroke="#c8c8c8" stroke-width="0.35"/>
<circle cx="197.2" cy="674.31" r="3.6" fill="#f57354" stroke="#1a1a1a" stroke-width="0.85"/>
<circle cx="211.5" cy="674.31" r="2.2" fill="#facbbd" stroke="#c8c8c8" stroke-width="0.35"/>
<circle cx="225.8" cy="674.31" r="3.6" fill="#f57354" stroke="#1a1a1a" stroke-width="0.85"/>
<circle cx="54.2" cy="685" r="2.95" fill="#f8947a" stroke="#1a1a1a" stroke-width="0.85"/>
<circle cx="68.5" cy="685" r="3.6" fill="#f57354" stroke="#1a1a1a" stroke-width="0.85"/>
<circle cx="82.8" cy="685" r="4.3" fill="#f03c22" stroke="#1a1a1a" stroke-width="0.85"/>
<circle cx="97.1" cy="685" r="2.95" fill="#f8947a" stroke="#1a1a1a" stroke-width="0.85"/>
<circle cx="111.4" cy="685" r="3.6" fill="#f57354" stroke="#1a1a1a" stroke-width="0.85"/>
<circle cx="125.7" cy="685" r="2.95" fill="#f8947a" stroke="#1a1a1a" stroke-width="0.85"/>
<circle cx="140" cy="685" r="1.9" fill="#f1eaee" stroke="#c8c8c8" stroke-width="0.35"/>
<circle cx="154.3" cy="685" r="2.2" fill="#facbbd" stroke="#c8c8c8" stroke-width="0.35"/>
<circle cx="168.6" cy="685" r="3.6" fill="#f57354" stroke="#1a1a1a" stroke-width="0.85"/>
<circle cx="182.9" cy="685" r="2.95" fill="#f8947a" stroke="#1a1a1a" stroke-width="0.85"/>
<circle cx="197.2" cy="685" r="1.9" fill="#f1eaee" stroke="#c8c8c8" stroke-width="0.35"/>
<circle cx="211.5" cy="685" r="2.2" fill="#facbbd" stroke="#c8c8c8" stroke-width="0.35"/>
<circle cx="225.8" cy="685" r="2.95" fill="#f8947a" stroke="#1a1a1a" stroke-width="0.85"/>
<circle cx="54.2" cy="695.69" r="2.95" fill="#f8947a" stroke="#1a1a1a" stroke-width="0.85"/>
<circle cx="68.5" cy="695.69" r="2.95" fill="#f8947a" stroke="#1a1a1a" stroke-width="0.85"/>
<circle cx="82.8" cy="695.69" r="2.95" fill="#f8947a" stroke="#1a1a1a" stroke-width="0.85"/>
<circle cx="97.1" cy="695.69" r="3.6" fill="#f57354" stroke="#1a1a1a" stroke-width="0.85"/>
<circle cx="111.4" cy="695.69" r="2.2" fill="#facbbd" stroke="#c8c8c8" stroke-width="0.35"/>
<circle cx="125.7" cy="695.69" r="2.95" fill="#f8947a" stroke="#1a1a1a" stroke-width="0.85"/>
<circle cx="140" cy="695.69" r="1.9" fill="#f1eaee" stroke="#c8c8c8" stroke-width="0.35"/>
<circle cx="154.3" cy="695.69" r="2.1" fill="#dacdf6" stroke="#c8c8c8" stroke-width="0.35"/>
<circle cx="168.6" cy="695.69" r="2.95" fill="#f8947a" stroke="#1a1a1a" stroke-width="0.85"/>
<circle cx="182.9" cy="695.69" r="1.9" fill="#f1eaee" stroke="#c8c8c8" stroke-width="0.35"/>
<circle cx="197.2" cy="695.69" r="2.2" fill="#facbbd" stroke="#c8c8c8" stroke-width="0.35"/>
<circle cx="211.5" cy="695.69" r="2.2" fill="#facbbd" stroke="#c8c8c8" stroke-width="0.35"/>
<circle cx="225.8" cy="695.69" r="2.2" fill="#facbbd" stroke="#c8c8c8" stroke-width="0.35"/>
<circle cx="54.2" cy="706.38" r="2.95" fill="#f8947a" stroke="#1a1a1a" stroke-width="0.85"/>
<circle cx="68.5" cy="706.38" r="3.6" fill="#f57354" stroke="#1a1a1a" stroke-width="0.85"/>
<circle cx="82.8" cy="706.38" r="2.95" fill="#f8947a" stroke="#1a1a1a" stroke-width="0.85"/>
<circle cx="97.1" cy="706.38" r="2.95" fill="#f8947a" stroke="#1a1a1a" stroke-width="0.85"/>
<circle cx="111.4" cy="706.38" r="2.95" fill="#f8947a" stroke="#1a1a1a" stroke-width="0.85"/>
<circle cx="125.7" cy="706.38" r="2.95" fill="#f8947a" stroke="#1a1a1a" stroke-width="0.85"/>
<circle cx="140" cy="706.38" r="2.95" fill="#f8947a" stroke="#1a1a1a" stroke-width="0.85"/>
<circle cx="154.3" cy="706.38" r="2.8" fill="#a88cf4" stroke="#1a1a1a" stroke-width="0.85"/>
<circle cx="168.6" cy="706.38" r="2.95" fill="#f8947a" stroke="#1a1a1a" stroke-width="0.85"/>
<circle cx="182.9" cy="706.38" r="2.8" fill="#a88cf4" stroke="#1a1a1a" stroke-width="0.85"/>
<circle cx="197.2" cy="706.38" r="2.8" fill="#a88cf4" stroke="#1a1a1a" stroke-width="0.85"/>
<circle cx="211.5" cy="706.38" r="2.95" fill="#f8947a" stroke="#1a1a1a" stroke-width="0.85"/>
<circle cx="225.8" cy="706.38" r="2.8" fill="#a88cf4" stroke="#1a1a1a" stroke-width="0.85"/>
<circle cx="54.2" cy="717.07" r="3.6" fill="#f57354" stroke="#1a1a1a" stroke-width="0.85"/>
<circle cx="68.5" cy="717.07" r="1.9" fill="#f1eaee" stroke="#c8c8c8" stroke-width="0.35"/>
<circle cx="82.8" cy="717.07" r="1.9" fill="#f1eaee" stroke="#c8c8c8" stroke-width="0.35"/>
<circle cx="97.1" cy="717.07" r="2.95" fill="#f8947a" stroke="#1a1a1a" stroke-width="0.85"/>
<circle cx="111.4" cy="717.07" r="2.2" fill="#facbbd" stroke="#c8c8c8" stroke-width="0.35"/>
<circle cx="125.7" cy="717.07" r="1.9" fill="#f1eaee" stroke="#c8c8c8" stroke-width="0.35"/>
<circle cx="140" cy="717.07" r="3.6" fill="#f57354" stroke="#1a1a1a" stroke-width="0.85"/>
<circle cx="154.3" cy="717.07" r="2.1" fill="#dacdf6" stroke="#c8c8c8" stroke-width="0.35"/>
<circle cx="168.6" cy="717.07" r="2.95" fill="#f8947a" stroke="#1a1a1a" stroke-width="0.85"/>
<circle cx="182.9" cy="717.07" r="1.9" fill="#f1eaee" stroke="#c8c8c8" stroke-width="0.35"/>
<circle cx="197.2" cy="717.07" r="1.9" fill="#f1eaee" stroke="#c8c8c8" stroke-width="0.35"/>
<circle cx="211.5" cy="717.07" r="3.6" fill="#f57354" stroke="#1a1a1a" stroke-width="0.85"/>
<circle cx="225.8" cy="717.07" r="2.1" fill="#dacdf6" stroke="#c8c8c8" stroke-width="0.35"/>
<circle cx="54.2" cy="727.76" r="1.9" fill="#f1eaee" stroke="#c8c8c8" stroke-width="0.35"/>
<circle cx="68.5" cy="727.76" r="2.1" fill="#dacdf6" stroke="#c8c8c8" stroke-width="0.35"/>
<circle cx="82.8" cy="727.76" r="1.9" fill="#f1eaee" stroke="#c8c8c8" stroke-width="0.35"/>
<circle cx="97.1" cy="727.76" r="2.1" fill="#dacdf6" stroke="#c8c8c8" stroke-width="0.35"/>
<circle cx="111.4" cy="727.76" r="1.9" fill="#f1eaee" stroke="#c8c8c8" stroke-width="0.35"/>
<circle cx="125.7" cy="727.76" r="2.1" fill="#dacdf6" stroke="#c8c8c8" stroke-width="0.35"/>
<circle cx="140" cy="727.76" r="2.95" fill="#f8947a" stroke="#1a1a1a" stroke-width="0.85"/>
<circle cx="154.3" cy="727.76" r="2.95" fill="#f8947a" stroke="#1a1a1a" stroke-width="0.85"/>
<circle cx="168.6" cy="727.76" r="2.1" fill="#dacdf6" stroke="#c8c8c8" stroke-width="0.35"/>
<circle cx="182.9" cy="727.76" r="3.6" fill="#f57354" stroke="#1a1a1a" stroke-width="0.85"/>
<circle cx="197.2" cy="727.76" r="2.2" fill="#facbbd" stroke="#c8c8c8" stroke-width="0.35"/>
<circle cx="211.5" cy="727.76" r="2.2" fill="#facbbd" stroke="#c8c8c8" stroke-width="0.35"/>
<circle cx="225.8" cy="727.76" r="2.2" fill="#facbbd" stroke="#c8c8c8" stroke-width="0.35"/>
<circle cx="54.2" cy="738.45" r="2.1" fill="#dacdf6" stroke="#c8c8c8" stroke-width="0.35"/>
<circle cx="68.5" cy="738.45" r="1.9" fill="#f1eaee" stroke="#c8c8c8" stroke-width="0.35"/>
<circle cx="82.8" cy="738.45" r="2.1" fill="#dacdf6" stroke="#c8c8c8" stroke-width="0.35"/>
<circle cx="97.1" cy="738.45" r="1.9" fill="#f1eaee" stroke="#c8c8c8" stroke-width="0.35"/>
<circle cx="111.4" cy="738.45" r="1.9" fill="#f1eaee" stroke="#c8c8c8" stroke-width="0.35"/>
<circle cx="125.7" cy="738.45" r="1.9" fill="#f1eaee" stroke="#c8c8c8" stroke-width="0.35"/>
<circle cx="140" cy="738.45" r="2.1" fill="#dacdf6" stroke="#c8c8c8" stroke-width="0.35"/>
<circle cx="154.3" cy="738.45" r="2.95" fill="#f8947a" stroke="#1a1a1a" stroke-width="0.85"/>
<circle cx="168.6" cy="738.45" r="1.9" fill="#f1eaee" stroke="#c8c8c8" stroke-width="0.35"/>
<circle cx="182.9" cy="738.45" r="1.9" fill="#f1eaee" stroke="#c8c8c8" stroke-width="0.35"/>
<circle cx="197.2" cy="738.45" r="1.9" fill="#f1eaee" stroke="#c8c8c8" stroke-width="0.35"/>
<circle cx="211.5" cy="738.45" r="2.1" fill="#dacdf6" stroke="#c8c8c8" stroke-width="0.35"/>
<circle cx="225.8" cy="738.45" r="2.8" fill="#a88cf4" stroke="#1a1a1a" stroke-width="0.85"/>
<circle cx="54.2" cy="749.14" r="2.1" fill="#dacdf6" stroke="#c8c8c8" stroke-width="0.35"/>
<circle cx="68.5" cy="749.14" r="2.1" fill="#dacdf6" stroke="#c8c8c8" stroke-width="0.35"/>
<circle cx="82.8" cy="749.14" r="2.1" fill="#dacdf6" stroke="#c8c8c8" stroke-width="0.35"/>
<circle cx="97.1" cy="749.14" r="2.8" fill="#a88cf4" stroke="#1a1a1a" stroke-width="0.85"/>
<circle cx="111.4" cy="749.14" r="2.1" fill="#dacdf6" stroke="#c8c8c8" stroke-width="0.35"/>
<circle cx="125.7" cy="749.14" r="2.1" fill="#dacdf6" stroke="#c8c8c8" stroke-width="0.35"/>
<circle cx="140" cy="749.14" r="1.9" fill="#f1eaee" stroke="#c8c8c8" stroke-width="0.35"/>
<circle cx="154.3" cy="749.14" r="1.9" fill="#f1eaee" stroke="#c8c8c8" stroke-width="0.35"/>
<circle cx="168.6" cy="749.14" r="2.1" fill="#dacdf6" stroke="#c8c8c8" stroke-width="0.35"/>
<circle cx="182.9" cy="749.14" r="1.9" fill="#f1eaee" stroke="#c8c8c8" stroke-width="0.35"/>
<circle cx="197.2" cy="749.14" r="3.7" fill="#a27cf8" stroke="#1a1a1a" stroke-width="0.85"/>
<circle cx="211.5" cy="749.14" r="2.1" fill="#dacdf6" stroke="#c8c8c8" stroke-width="0.35"/>
<circle cx="225.8" cy="749.14" r="2.1" fill="#dacdf6" stroke="#c8c8c8" stroke-width="0.35"/>
<rect x="45.5" y="571.6" width="189.1" height="183.6" fill="none" stroke="#8a8a8a" stroke-width="0.8"/>
<line x1="43.7" y1="578.1" x2="45.5" y2="578.1" stroke="#555" stroke-width="0.6"/>
<text x="42.9" y="580.3" font-size="6.2" text-anchor="end" fill="#222">GALNT5</text>
<line x1="43.7" y1="588.79" x2="45.5" y2="588.79" stroke="#555" stroke-width="0.6"/>
<text x="42.9" y="590.99" font-size="6.2" text-anchor="end" fill="#222">MUC1</text>
<line x1="43.7" y1="599.48" x2="45.5" y2="599.48" stroke="#555" stroke-width="0.6"/>
<text x="42.9" y="601.68" font-size="6.2" text-anchor="end" fill="#222">GCNT3</text>
<line x1="43.7" y1="610.17" x2="45.5" y2="610.17" stroke="#555" stroke-width="0.6"/>
<text x="42.9" y="612.37" font-size="6.2" text-anchor="end" fill="#222">GALNT3</text>
<line x1="43.7" y1="620.86" x2="45.5" y2="620.86" stroke="#555" stroke-width="0.6"/>
<text x="42.9" y="623.06" font-size="6.2" text-anchor="end" fill="#222">MUC16</text>
<line x1="43.7" y1="631.55" x2="45.5" y2="631.55" stroke="#555" stroke-width="0.6"/>
<text x="42.9" y="633.75" font-size="6.2" text-anchor="end" fill="#222">GALNT7</text>
<line x1="43.7" y1="642.24" x2="45.5" y2="642.24" stroke="#555" stroke-width="0.6"/>
<text x="42.9" y="644.44" font-size="6.2" text-anchor="end" fill="#222">GCNT2</text>
<line x1="43.7" y1="652.93" x2="45.5" y2="652.93" stroke="#555" stroke-width="0.6"/>
<text x="42.9" y="655.13" font-size="6.2" text-anchor="end" fill="#222">GALNT18</text>
<line x1="43.7" y1="663.62" x2="45.5" y2="663.62" stroke="#555" stroke-width="0.6"/>
<text x="42.9" y="665.82" font-size="6.2" text-anchor="end" fill="#222">GALNT12</text>
<line x1="43.7" y1="674.31" x2="45.5" y2="674.31" stroke="#555" stroke-width="0.6"/>
<text x="42.9" y="676.51" font-size="6.2" text-anchor="end" fill="#222">GALNT10</text>
<line x1="43.7" y1="685" x2="45.5" y2="685" stroke="#555" stroke-width="0.6"/>
<text x="42.9" y="687.2" font-size="6.2" text-anchor="end" fill="#222">GALNT11</text>
<line x1="43.7" y1="695.69" x2="45.5" y2="695.69" stroke="#555" stroke-width="0.6"/>
<text x="42.9" y="697.89" font-size="6.2" text-anchor="end" fill="#222">GALNT2</text>
<line x1="43.7" y1="706.38" x2="45.5" y2="706.38" stroke="#555" stroke-width="0.6"/>
<text x="42.9" y="708.58" font-size="6.2" text-anchor="end" fill="#222">GALNT1</text>
<line x1="43.7" y1="717.07" x2="45.5" y2="717.07" stroke="#555" stroke-width="0.6"/>
<text x="42.9" y="719.27" font-size="6.2" text-anchor="end" fill="#222">GCNT1</text>
<line x1="43.7" y1="727.76" x2="45.5" y2="727.76" stroke="#555" stroke-width="0.6"/>
<text x="42.9" y="729.96" font-size="6.2" text-anchor="end" fill="#222">GALNT6</text>
<line x1="43.7" y1="738.45" x2="45.5" y2="738.45" stroke="#555" stroke-width="0.6"/>
<text x="42.9" y="740.65" font-size="6.2" text-anchor="end" fill="#222">GALNT14</text>
<line x1="43.7" y1="749.14" x2="45.5" y2="749.14" stroke="#555" stroke-width="0.6"/>
<text x="42.9" y="751.34" font-size="6.2" text-anchor="end" fill="#222">GCNT4</text>
<line x1="54.2" y1="755.2" x2="54.2" y2="757" stroke="#555" stroke-width="0.6"/>
<text x="55.8" y="759.8" font-size="6.2" text-anchor="end" fill="#222" transform="rotate(-45 55.8 759.8)">BRD-K92856060</text>
<line x1="68.5" y1="755.2" x2="68.5" y2="757" stroke="#555" stroke-width="0.6"/>
<text x="70.1" y="759.8" font-size="6.2" text-anchor="end" fill="#222" transform="rotate(-45 70.1 759.8)">CAY10618</text>
<line x1="82.8" y1="755.2" x2="82.8" y2="757" stroke="#555" stroke-width="0.6"/>
<text x="84.4" y="759.8" font-size="6.2" text-anchor="end" fill="#222" transform="rotate(-45 84.4 759.8)">manumycin A</text>
<line x1="97.1" y1="755.2" x2="97.1" y2="757" stroke="#555" stroke-width="0.6"/>
<text x="98.7" y="759.8" font-size="6.2" text-anchor="end" fill="#222" transform="rotate(-45 98.7 759.8)">SCH-79797</text>
<line x1="111.4" y1="755.2" x2="111.4" y2="757" stroke="#555" stroke-width="0.6"/>
<text x="113" y="759.8" font-size="6.2" text-anchor="end" fill="#222" transform="rotate(-45 113 759.8)">STF-31</text>
<line x1="125.7" y1="755.2" x2="125.7" y2="757" stroke="#555" stroke-width="0.6"/>
<text x="127.3" y="759.8" font-size="6.2" text-anchor="end" fill="#222" transform="rotate(-45 127.3 759.8)">daporinad</text>
<line x1="140" y1="755.2" x2="140" y2="757" stroke="#555" stroke-width="0.6"/>
<text x="141.6" y="759.8" font-size="6.2" text-anchor="end" fill="#222" transform="rotate(-45 141.6 759.8)">niclosamide</text>
<line x1="154.3" y1="755.2" x2="154.3" y2="757" stroke="#555" stroke-width="0.6"/>
<text x="155.9" y="759.8" font-size="6.2" text-anchor="end" fill="#222" transform="rotate(-45 155.9 759.8)">AZD4547</text>
<line x1="168.6" y1="755.2" x2="168.6" y2="757" stroke="#555" stroke-width="0.6"/>
<text x="170.2" y="759.8" font-size="6.2" text-anchor="end" fill="#222" transform="rotate(-45 170.2 759.8)">BRD-K97651142</text>
<line x1="182.9" y1="755.2" x2="182.9" y2="757" stroke="#555" stroke-width="0.6"/>
<text x="184.5" y="759.8" font-size="6.2" text-anchor="end" fill="#222" transform="rotate(-45 184.5 759.8)">lenvatinib</text>
<line x1="197.2" y1="755.2" x2="197.2" y2="757" stroke="#555" stroke-width="0.6"/>
<text x="198.8" y="759.8" font-size="6.2" text-anchor="end" fill="#222" transform="rotate(-45 198.8 759.8)">nutlin-3</text>
<line x1="211.5" y1="755.2" x2="211.5" y2="757" stroke="#555" stroke-width="0.6"/>
<text x="213.1" y="759.8" font-size="6.2" text-anchor="end" fill="#222" transform="rotate(-45 213.1 759.8)">YM-155</text>
<line x1="225.8" y1="755.2" x2="225.8" y2="757" stroke="#555" stroke-width="0.6"/>
<text x="227.4" y="759.8" font-size="6.2" text-anchor="end" fill="#222" transform="rotate(-45 227.4 759.8)">ABT-199</text>
<rect x="15.5" y="571.9" width="28.7" height="42.9" fill="none" stroke="#9ec0e0" stroke-width="0.7"/>
<text x="11.6" y="664.7" font-size="7.6" text-anchor="middle" fill="#222" transform="rotate(-90 11.6 664.7)">Symbol</text>
<text x="140.8" y="799.6" font-size="7.6" text-anchor="middle" fill="#222">Drugs</text>
<text x="45.6" y="557.6" font-size="8.25" fill="#222">Correlation between CTRP drug sensitivity</text>
<text x="45.6" y="566.6" font-size="8.25" fill="#222">and mRNA expression</text>
<text x="4" y="553.4" font-size="9.6" font-weight="bold">I</text>
<defs><linearGradient id="cg" x1="0" y1="0" x2="0" y2="1"><stop offset="0" stop-color="#8a70ff"/><stop offset="0.4" stop-color="#ffffff"/><stop offset="1" stop-color="#ff2000"/></linearGradient></defs>
<text x="244.7" y="623.6" font-size="7" fill="#222">Correlation</text>
<rect x="244.4" y="628.1" width="8.5" height="41.5" fill="url(#cg)"/>
<text x="256" y="630.4" font-size="6.3" fill="#222">−0.2</text>
<text x="256" y="647" font-size="6.3" fill="#222">0.0</text>
<text x="256" y="671.9" font-size="6.3" fill="#222">0.3</text>
<text x="244.7" y="688.4" font-size="7" fill="#222">FDR</text>
<rect x="244.4" y="692.8" width="8.5" height="16.8" fill="#fff" stroke="#222" stroke-width="0.6"/>
<line x1="244.4" y1="701.2" x2="252.9" y2="701.2" stroke="#222" stroke-width="0.5"/>
<circle cx="248.65" cy="697" r="1.4" fill="#fff" stroke="#111" stroke-width="0.8"/>
<circle cx="248.65" cy="705.4" r="1.4" fill="#fff" stroke="#aaa" stroke-width="0.4"/>
<text x="256" y="699.3" font-size="6.3" fill="#222">&lt;=0.05</text>
<text x="256" y="707.7" font-size="6.3" fill="#222">&gt;0.05</text>
<rect x="290.8" y="559.5" width="196.2" height="229.7" fill="#fffad4"/>
<rect x="487" y="559.5" width="192.6" height="229.7" fill="#e4f7f7"/>
<text x="266" y="553.4" font-size="9.6" font-weight="bold">J</text>
<path d="M292.8 686 Q291 690.5 292.6 695.2 L300.8 695.2 Q299 690.5 301.4 686 Z" fill="#fbf6f4" stroke="#ad9c9c" stroke-width="0.45"/>
<path d="M304.88 686 Q303.08 690.5 304.68 695.2 L312.88 695.2 Q311.08 690.5 313.48 686 Z" fill="#fbf6f4" stroke="#ad9c9c" stroke-width="0.45"/>
<path d="M316.96 686 Q315.16 690.5 316.76 695.2 L324.96 695.2 Q323.16 690.5 325.56 686 Z" fill="#fbf6f4" stroke="#ad9c9c" stroke-width="0.45"/>
<path d="M329.04 686 Q327.24 690.5 328.84 695.2 L337.04 695.2 Q335.24 690.5 337.64 686 Z" fill="#fbf6f4" stroke="#ad9c9c" stroke-width="0.45"/>
<path d="M341.12 686 Q339.32 690.5 340.92 695.2 L349.12 695.2 Q347.32 690.5 349.72 686 Z" fill="#fbf6f4" stroke="#ad9c9c" stroke-width="0.45"/>
<path d="M353.2 686 Q351.4 690.5 353 695.2 L361.2 695.2 Q359.4 690.5 361.8 686 Z" fill="#fbf6f4" stroke="#ad9c9c" stroke-width="0.45"/>
<path d="M365.28 686 Q363.48 690.5 365.08 695.2 L373.28 695.2 Q371.48 690.5 373.88 686 Z" fill="#fbf6f4" stroke="#ad9c9c" stroke-width="0.45"/>
<path d="M377.36 686 Q375.56 690.5 377.16 695.2 L385.36 695.2 Q383.56 690.5 385.96 686 Z" fill="#fbf6f4" stroke="#ad9c9c" stroke-width="0.45"/>
<path d="M389.44 686 Q387.64 690.5 389.24 695.2 L397.44 695.2 Q395.64 690.5 398.04 686 Z" fill="#fbf6f4" stroke="#ad9c9c" stroke-width="0.45"/>
<path d="M401.52 686 Q399.72 690.5 401.32 695.2 L409.52 695.2 Q407.72 690.5 410.12 686 Z" fill="#fbf6f4" stroke="#ad9c9c" stroke-width="0.45"/>
<path d="M413.6 686 Q411.8 690.5 413.4 695.2 L421.6 695.2 Q419.8 690.5 422.2 686 Z" fill="#fbf6f4" stroke="#ad9c9c" stroke-width="0.45"/>
<path d="M425.68 686 Q423.88 690.5 425.48 695.2 L433.68 695.2 Q431.88 690.5 434.28 686 Z" fill="#fbf6f4" stroke="#ad9c9c" stroke-width="0.45"/>
<path d="M437.76 686 Q435.96 690.5 437.56 695.2 L445.76 695.2 Q443.96 690.5 446.36 686 Z" fill="#fbf6f4" stroke="#ad9c9c" stroke-width="0.45"/>
<path d="M449.84 686 Q448.04 690.5 449.64 695.2 L457.84 695.2 Q456.04 690.5 458.44 686 Z" fill="#fbf6f4" stroke="#ad9c9c" stroke-width="0.45"/>
<path d="M461.92 686 Q460.12 690.5 461.72 695.2 L469.92 695.2 Q468.12 690.5 470.52 686 Z" fill="#fbf6f4" stroke="#ad9c9c" stroke-width="0.45"/>
<path d="M474 686 Q472.2 690.5 473.8 695.2 L482 695.2 Q480.2 690.5 482.6 686 Z" fill="#fbf6f4" stroke="#ad9c9c" stroke-width="0.45"/>
<path d="M486.08 686 Q484.28 690.5 485.88 695.2 L494.08 695.2 Q492.28 690.5 494.68 686 Z" fill="#fbf6f4" stroke="#ad9c9c" stroke-width="0.45"/>
<path d="M498.16 686 Q496.36 690.5 497.96 695.2 L506.16 695.2 Q504.36 690.5 506.76 686 Z" fill="#fbf6f4" stroke="#ad9c9c" stroke-width="0.45"/>
<path d="M510.24 686 Q508.44 690.5 510.04 695.2 L518.24 695.2 Q516.44 690.5 518.84 686 Z" fill="#fbf6f4" stroke="#ad9c9c" stroke-width="0.45"/>
<path d="M522.32 686 Q520.52 690.5 522.12 695.2 L530.32 695.2 Q528.52 690.5 530.92 686 Z" fill="#fbf6f4" stroke="#ad9c9c" stroke-width="0.45"/>
<path d="M534.4 686 Q532.6 690.5 534.2 695.2 L542.4 695.2 Q540.6 690.5 543 686 Z" fill="#fbf6f4" stroke="#ad9c9c" stroke-width="0.45"/>
<path d="M546.48 686 Q544.68 690.5 546.28 695.2 L554.48 695.2 Q552.68 690.5 555.08 686 Z" fill="#fbf6f4" stroke="#ad9c9c" stroke-width="0.45"/>
<path d="M558.56 686 Q556.76 690.5 558.36 695.2 L566.56 695.2 Q564.76 690.5 567.16 686 Z" fill="#fbf6f4" stroke="#ad9c9c" stroke-width="0.45"/>
<path d="M570.64 686 Q568.84 690.5 570.44 695.2 L578.64 695.2 Q576.84 690.5 579.24 686 Z" fill="#fbf6f4" stroke="#ad9c9c" stroke-width="0.45"/>
<path d="M582.72 686 Q580.92 690.5 582.52 695.2 L590.72 695.2 Q588.92 690.5 591.32 686 Z" fill="#fbf6f4" stroke="#ad9c9c" stroke-width="0.45"/>
<path d="M594.8 686 Q593 690.5 594.6 695.2 L602.8 695.2 Q601 690.5 603.4 686 Z" fill="#fbf6f4" stroke="#ad9c9c" stroke-width="0.45"/>
<path d="M606.88 686 Q605.08 690.5 606.68 695.2 L614.88 695.2 Q613.08 690.5 615.48 686 Z" fill="#fbf6f4" stroke="#ad9c9c" stroke-width="0.45"/>
<path d="M618.96 686 Q617.16 690.5 618.76 695.2 L626.96 695.2 Q625.16 690.5 627.56 686 Z" fill="#fbf6f4" stroke="#ad9c9c" stroke-width="0.45"/>
<path d="M631.04 686 Q629.24 690.5 630.84 695.2 L639.04 695.2 Q637.24 690.5 639.64 686 Z" fill="#fbf6f4" stroke="#ad9c9c" stroke-width="0.45"/>
<path d="M643.12 686 Q641.32 690.5 642.92 695.2 L651.12 695.2 Q649.32 690.5 651.72 686 Z" fill="#fbf6f4" stroke="#ad9c9c" stroke-width="0.45"/>
<path d="M655.2 686 Q653.4 690.5 655 695.2 L663.2 695.2 Q661.4 690.5 663.8 686 Z" fill="#fbf6f4" stroke="#ad9c9c" stroke-width="0.45"/>
<path d="M667.28 686 Q665.48 690.5 667.08 695.2 L675.28 695.2 Q673.48 690.5 675.88 686 Z" fill="#fbf6f4" stroke="#ad9c9c" stroke-width="0.45"/>
<path d="M292.4 703 Q290.6 699 292 694.8 L300.2 694.8 Q298.4 699 300.9 703 Z" fill="#fbf6f4" stroke="#ad9c9c" stroke-width="0.45"/>
<path d="M304.48 703 Q302.68 699 304.08 694.8 L312.28 694.8 Q310.48 699 312.98 703 Z" fill="#fbf6f4" stroke="#ad9c9c" stroke-width="0.45"/>
<path d="M316.56 703 Q314.76 699 316.16 694.8 L324.36 694.8 Q322.56 699 325.06 703 Z" fill="#fbf6f4" stroke="#ad9c9c" stroke-width="0.45"/>
<path d="M328.64 703 Q326.84 699 328.24 694.8 L336.44 694.8 Q334.64 699 337.14 703 Z" fill="#fbf6f4" stroke="#ad9c9c" stroke-width="0.45"/>
<path d="M340.72 703 Q338.92 699 340.32 694.8 L348.52 694.8 Q346.72 699 349.22 703 Z" fill="#fbf6f4" stroke="#ad9c9c" stroke-width="0.45"/>
<path d="M352.8 703 Q351 699 352.4 694.8 L360.6 694.8 Q358.8 699 361.3 703 Z" fill="#fbf6f4" stroke="#ad9c9c" stroke-width="0.45"/>
<path d="M364.88 703 Q363.08 699 364.48 694.8 L372.68 694.8 Q370.88 699 373.38 703 Z" fill="#fbf6f4" stroke="#ad9c9c" stroke-width="0.45"/>
<path d="M376.96 703 Q375.16 699 376.56 694.8 L384.76 694.8 Q382.96 699 385.46 703 Z" fill="#fbf6f4" stroke="#ad9c9c" stroke-width="0.45"/>
<path d="M389.04 703 Q387.24 699 388.64 694.8 L396.84 694.8 Q395.04 699 397.54 703 Z" fill="#fbf6f4" stroke="#ad9c9c" stroke-width="0.45"/>
<path d="M401.12 703 Q399.32 699 400.72 694.8 L408.92 694.8 Q407.12 699 409.62 703 Z" fill="#fbf6f4" stroke="#ad9c9c" stroke-width="0.45"/>
<path d="M413.2 703 Q411.4 699 412.8 694.8 L421 694.8 Q419.2 699 421.7 703 Z" fill="#fbf6f4" stroke="#ad9c9c" stroke-width="0.45"/>
<path d="M425.28 703 Q423.48 699 424.88 694.8 L433.08 694.8 Q431.28 699 433.78 703 Z" fill="#fbf6f4" stroke="#ad9c9c" stroke-width="0.45"/>
<path d="M437.36 703 Q435.56 699 436.96 694.8 L445.16 694.8 Q443.36 699 445.86 703 Z" fill="#fbf6f4" stroke="#ad9c9c" stroke-width="0.45"/>
<path d="M449.44 703 Q447.64 699 449.04 694.8 L457.24 694.8 Q455.44 699 457.94 703 Z" fill="#fbf6f4" stroke="#ad9c9c" stroke-width="0.45"/>
<path d="M461.52 703 Q459.72 699 461.12 694.8 L469.32 694.8 Q467.52 699 470.02 703 Z" fill="#fbf6f4" stroke="#ad9c9c" stroke-width="0.45"/>
<path d="M473.6 703 Q471.8 699 473.2 694.8 L481.4 694.8 Q479.6 699 482.1 703 Z" fill="#fbf6f4" stroke="#ad9c9c" stroke-width="0.45"/>
<path d="M485.68 703 Q483.88 699 485.28 694.8 L493.48 694.8 Q491.68 699 494.18 703 Z" fill="#fbf6f4" stroke="#ad9c9c" stroke-width="0.45"/>
<path d="M497.76 703 Q495.96 699 497.36 694.8 L505.56 694.8 Q503.76 699 506.26 703 Z" fill="#fbf6f4" stroke="#ad9c9c" stroke-width="0.45"/>
<path d="M509.84 703 Q508.04 699 509.44 694.8 L517.64 694.8 Q515.84 699 518.34 703 Z" fill="#fbf6f4" stroke="#ad9c9c" stroke-width="0.45"/>
<path d="M521.92 703 Q520.12 699 521.52 694.8 L529.72 694.8 Q527.92 699 530.42 703 Z" fill="#fbf6f4" stroke="#ad9c9c" stroke-width="0.45"/>
<path d="M534 703 Q532.2 699 533.6 694.8 L541.8 694.8 Q540 699 542.5 703 Z" fill="#fbf6f4" stroke="#ad9c9c" stroke-width="0.45"/>
<path d="M546.08 703 Q544.28 699 545.68 694.8 L553.88 694.8 Q552.08 699 554.58 703 Z" fill="#fbf6f4" stroke="#ad9c9c" stroke-width="0.45"/>
<path d="M558.16 703 Q556.36 699 557.76 694.8 L565.96 694.8 Q564.16 699 566.66 703 Z" fill="#fbf6f4" stroke="#ad9c9c" stroke-width="0.45"/>
<path d="M570.24 703 Q568.44 699 569.84 694.8 L578.04 694.8 Q576.24 699 578.74 703 Z" fill="#fbf6f4" stroke="#ad9c9c" stroke-width="0.45"/>
<path d="M582.32 703 Q580.52 699 581.92 694.8 L590.12 694.8 Q588.32 699 590.82 703 Z" fill="#fbf6f4" stroke="#ad9c9c" stroke-width="0.45"/>
<path d="M594.4 703 Q592.6 699 594 694.8 L602.2 694.8 Q600.4 699 602.9 703 Z" fill="#fbf6f4" stroke="#ad9c9c" stroke-width="0.45"/>
<path d="M606.48 703 Q604.68 699 606.08 694.8 L614.28 694.8 Q612.48 699 614.98 703 Z" fill="#fbf6f4" stroke="#ad9c9c" stroke-width="0.45"/>
<path d="M618.56 703 Q616.76 699 618.16 694.8 L626.36 694.8 Q624.56 699 627.06 703 Z" fill="#fbf6f4" stroke="#ad9c9c" stroke-width="0.45"/>
<path d="M630.64 703 Q628.84 699 630.24 694.8 L638.44 694.8 Q636.64 699 639.14 703 Z" fill="#fbf6f4" stroke="#ad9c9c" stroke-width="0.45"/>
<path d="M642.72 703 Q640.92 699 642.32 694.8 L650.52 694.8 Q648.72 699 651.22 703 Z" fill="#fbf6f4" stroke="#ad9c9c" stroke-width="0.45"/>
<path d="M654.8 703 Q653 699 654.4 694.8 L662.6 694.8 Q660.8 699 663.3 703 Z" fill="#fbf6f4" stroke="#ad9c9c" stroke-width="0.45"/>
<path d="M666.88 703 Q665.08 699 666.48 694.8 L674.68 694.8 Q672.88 699 675.38 703 Z" fill="#fbf6f4" stroke="#ad9c9c" stroke-width="0.45"/>
<ellipse cx="297.2" cy="681.8" rx="5.6" ry="5.4" fill="#f3a3ad" stroke="#a4646e" stroke-width="0.6"/>
<ellipse cx="309.28" cy="681.8" rx="5.6" ry="5.4" fill="#f3a3ad" stroke="#a4646e" stroke-width="0.6"/>
<ellipse cx="321.36" cy="681.8" rx="5.6" ry="5.4" fill="#f3a3ad" stroke="#a4646e" stroke-width="0.6"/>
<ellipse cx="333.44" cy="681.8" rx="5.6" ry="5.4" fill="#f3a3ad" stroke="#a4646e" stroke-width="0.6"/>
<ellipse cx="345.52" cy="681.8" rx="5.6" ry="5.4" fill="#f3a3ad" stroke="#a4646e" stroke-width="0.6"/>
<ellipse cx="357.6" cy="681.8" rx="5.6" ry="5.4" fill="#f3a3ad" stroke="#a4646e" stroke-width="0.6"/>
<ellipse cx="369.68" cy="681.8" rx="5.6" ry="5.4" fill="#f3a3ad" stroke="#a4646e" stroke-width="0.6"/>
<ellipse cx="381.76" cy="681.8" rx="5.6" ry="5.4" fill="#f3a3ad" stroke="#a4646e" stroke-width="0.6"/>
<ellipse cx="393.84" cy="681.8" rx="5.6" ry="5.4" fill="#f3a3ad" stroke="#a4646e" stroke-width="0.6"/>
<ellipse cx="405.92" cy="681.8" rx="5.6" ry="5.4" fill="#f3a3ad" stroke="#a4646e" stroke-width="0.6"/>
<ellipse cx="418" cy="681.8" rx="5.6" ry="5.4" fill="#f3a3ad" stroke="#a4646e" stroke-width="0.6"/>
<ellipse cx="430.08" cy="681.8" rx="5.6" ry="5.4" fill="#f3a3ad" stroke="#a4646e" stroke-width="0.6"/>
<ellipse cx="442.16" cy="681.8" rx="5.6" ry="5.4" fill="#f3a3ad" stroke="#a4646e" stroke-width="0.6"/>
<ellipse cx="454.24" cy="681.8" rx="5.6" ry="5.4" fill="#f3a3ad" stroke="#a4646e" stroke-width="0.6"/>
<ellipse cx="466.32" cy="681.8" rx="5.6" ry="5.4" fill="#f3a3ad" stroke="#a4646e" stroke-width="0.6"/>
<ellipse cx="478.4" cy="681.8" rx="5.6" ry="5.4" fill="#f3a3ad" stroke="#a4646e" stroke-width="0.6"/>
<ellipse cx="490.48" cy="681.8" rx="5.6" ry="5.4" fill="#f3a3ad" stroke="#a4646e" stroke-width="0.6"/>
<ellipse cx="502.56" cy="681.8" rx="5.6" ry="5.4" fill="#f3a3ad" stroke="#a4646e" stroke-width="0.6"/>
<ellipse cx="514.64" cy="681.8" rx="5.6" ry="5.4" fill="#f3a3ad" stroke="#a4646e" stroke-width="0.6"/>
<ellipse cx="526.72" cy="681.8" rx="5.6" ry="5.4" fill="#f3a3ad" stroke="#a4646e" stroke-width="0.6"/>
<ellipse cx="538.8" cy="681.8" rx="5.6" ry="5.4" fill="#f3a3ad" stroke="#a4646e" stroke-width="0.6"/>
<ellipse cx="550.88" cy="681.8" rx="5.6" ry="5.4" fill="#f3a3ad" stroke="#a4646e" stroke-width="0.6"/>
<ellipse cx="562.96" cy="681.8" rx="5.6" ry="5.4" fill="#f3a3ad" stroke="#a4646e" stroke-width="0.6"/>
<ellipse cx="575.04" cy="681.8" rx="5.6" ry="5.4" fill="#f3a3ad" stroke="#a4646e" stroke-width="0.6"/>
<ellipse cx="587.12" cy="681.8" rx="5.6" ry="5.4" fill="#f3a3ad" stroke="#a4646e" stroke-width="0.6"/>
<ellipse cx="599.2" cy="681.8" rx="5.6" ry="5.4" fill="#f3a3ad" stroke="#a4646e" stroke-width="0.6"/>
<ellipse cx="611.28" cy="681.8" rx="5.6" ry="5.4" fill="#f3a3ad" stroke="#a4646e" stroke-width="0.6"/>
<ellipse cx="623.36" cy="681.8" rx="5.6" ry="5.4" fill="#f3a3ad" stroke="#a4646e" stroke-width="0.6"/>
<ellipse cx="635.44" cy="681.8" rx="5.6" ry="5.4" fill="#f3a3ad" stroke="#a4646e" stroke-width="0.6"/>
<ellipse cx="647.52" cy="681.8" rx="5.6" ry="5.4" fill="#f3a3ad" stroke="#a4646e" stroke-width="0.6"/>
<ellipse cx="659.6" cy="681.8" rx="5.6" ry="5.4" fill="#f3a3ad" stroke="#a4646e" stroke-width="0.6"/>
<ellipse cx="671.68" cy="681.8" rx="5.6" ry="5.4" fill="#f3a3ad" stroke="#a4646e" stroke-width="0.6"/>
<ellipse cx="296.6" cy="707.6" rx="5.5" ry="5.2" fill="#f3a3ad" stroke="#a4646e" stroke-width="0.6"/>
<ellipse cx="308.68" cy="707.6" rx="5.5" ry="5.2" fill="#f3a3ad" stroke="#a4646e" stroke-width="0.6"/>
<ellipse cx="320.76" cy="707.6" rx="5.5" ry="5.2" fill="#f3a3ad" stroke="#a4646e" stroke-width="0.6"/>
<ellipse cx="332.84" cy="707.6" rx="5.5" ry="5.2" fill="#f3a3ad" stroke="#a4646e" stroke-width="0.6"/>
<ellipse cx="344.92" cy="707.6" rx="5.5" ry="5.2" fill="#f3a3ad" stroke="#a4646e" stroke-width="0.6"/>
<ellipse cx="357" cy="707.6" rx="5.5" ry="5.2" fill="#f3a3ad" stroke="#a4646e" stroke-width="0.6"/>
<ellipse cx="369.08" cy="707.6" rx="5.5" ry="5.2" fill="#f3a3ad" stroke="#a4646e" stroke-width="0.6"/>
<ellipse cx="381.16" cy="707.6" rx="5.5" ry="5.2" fill="#f3a3ad" stroke="#a4646e" stroke-width="0.6"/>
<ellipse cx="393.24" cy="707.6" rx="5.5" ry="5.2" fill="#f3a3ad" stroke="#a4646e" stroke-width="0.6"/>
<ellipse cx="405.32" cy="707.6" rx="5.5" ry="5.2" fill="#f3a3ad" stroke="#a4646e" stroke-width="0.6"/>
<ellipse cx="417.4" cy="707.6" rx="5.5" ry="5.2" fill="#f3a3ad" stroke="#a4646e" stroke-width="0.6"/>
<ellipse cx="429.48" cy="707.6" rx="5.5" ry="5.2" fill="#f3a3ad" stroke="#a4646e" stroke-width="0.6"/>
<ellipse cx="441.56" cy="707.6" rx="5.5" ry="5.2" fill="#f3a3ad" stroke="#a4646e" stroke-width="0.6"/>
<ellipse cx="453.64" cy="707.6" rx="5.5" ry="5.2" fill="#f3a3ad" stroke="#a4646e" stroke-width="0.6"/>
<ellipse cx="465.72" cy="707.6" rx="5.5" ry="5.2" fill="#f3a3ad" stroke="#a4646e" stroke-width="0.6"/>
<ellipse cx="477.8" cy="707.6" rx="5.5" ry="5.2" fill="#f3a3ad" stroke="#a4646e" stroke-width="0.6"/>
<ellipse cx="489.88" cy="707.6" rx="5.5" ry="5.2" fill="#f3a3ad" stroke="#a4646e" stroke-width="0.6"/>
<ellipse cx="501.96" cy="707.6" rx="5.5" ry="5.2" fill="#f3a3ad" stroke="#a4646e" stroke-width="0.6"/>
<ellipse cx="514.04" cy="707.6" rx="5.5" ry="5.2" fill="#f3a3ad" stroke="#a4646e" stroke-width="0.6"/>
<ellipse cx="526.12" cy="707.6" rx="5.5" ry="5.2" fill="#f3a3ad" stroke="#a4646e" stroke-width="0.6"/>
<ellipse cx="538.2" cy="707.6" rx="5.5" ry="5.2" fill="#f3a3ad" stroke="#a4646e" stroke-width="0.6"/>
<ellipse cx="550.28" cy="707.6" rx="5.5" ry="5.2" fill="#f3a3ad" stroke="#a4646e" stroke-width="0.6"/>
<ellipse cx="562.36" cy="707.6" rx="5.5" ry="5.2" fill="#f3a3ad" stroke="#a4646e" stroke-width="0.6"/>
<ellipse cx="574.44" cy="707.6" rx="5.5" ry="5.2" fill="#f3a3ad" stroke="#a4646e" stroke-width="0.6"/>
<ellipse cx="586.52" cy="707.6" rx="5.5" ry="5.2" fill="#f3a3ad" stroke="#a4646e" stroke-width="0.6"/>
<ellipse cx="598.6" cy="707.6" rx="5.5" ry="5.2" fill="#f3a3ad" stroke="#a4646e" stroke-width="0.6"/>
<ellipse cx="610.68" cy="707.6" rx="5.5" ry="5.2" fill="#f3a3ad" stroke="#a4646e" stroke-width="0.6"/>
<ellipse cx="622.76" cy="707.6" rx="5.5" ry="5.2" fill="#f3a3ad" stroke="#a4646e" stroke-width="0.6"/>
<ellipse cx="634.84" cy="707.6" rx="5.5" ry="5.2" fill="#f3a3ad" stroke="#a4646e" stroke-width="0.6"/>
<ellipse cx="646.92" cy="707.6" rx="5.5" ry="5.2" fill="#f3a3ad" stroke="#a4646e" stroke-width="0.6"/>
<ellipse cx="659" cy="707.6" rx="5.5" ry="5.2" fill="#f3a3ad" stroke="#a4646e" stroke-width="0.6"/>
<ellipse cx="671.08" cy="707.6" rx="5.5" ry="5.2" fill="#f3a3ad" stroke="#a4646e" stroke-width="0.6"/>
<text x="435" y="696.6" font-size="8.2" fill="#222">Transmemberane</text>
<text x="509.3" y="696.6" font-size="8.2" fill="#222">domain</text>
<rect x="360.2" y="587.3" width="13.8" height="85.5" fill="#fccb92" rx="6.9"/>
<rect x="374" y="659.5" width="16.7" height="58.6" fill="#f7a03a" rx="7"/>
<path d="M545.4 595 Q545.6 588 552 588 Q558.6 588 558.6 595 L557.6 666 Q557.4 673 550.2 673 Q543 673 543.1 666 Z" fill="#fccb92"/>
<rect x="554.4" y="662.4" width="15.6" height="60" fill="#f7a03a" rx="7"/>
<path d="M364 589 Q360.65 581.45 357.3 570.9" fill="none" stroke="#bf9fd8" stroke-width="0.65"/>
<circle cx="361.66" cy="582.55" r="0.7" fill="#3a763a"/>
<circle cx="359.64" cy="577.12" r="0.7" fill="#3a763a"/>
<path d="M370 589 Q369.25 580.15 368.5 568.3" fill="none" stroke="#bf9fd8" stroke-width="0.65"/>
<circle cx="369.48" cy="581.64" r="0.7" fill="#3a763a"/>
<circle cx="369.02" cy="575.43" r="0.7" fill="#3a763a"/>
<path d="M370 589 Q373.5 579.8 377 567.6" fill="none" stroke="#bf9fd8" stroke-width="0.65"/>
<circle cx="372.45" cy="581.39" r="0.7" fill="#3a763a"/>
<circle cx="374.55" cy="574.97" r="0.7" fill="#3a763a"/>
<path d="M370 589 Q379.45 580.45 388.9 568.9" fill="none" stroke="#bf9fd8" stroke-width="0.65"/>
<circle cx="376.61" cy="581.85" r="0.7" fill="#3a763a"/>
<circle cx="382.28" cy="575.82" r="0.7" fill="#3a763a"/>
<path d="M370 589 Q381 583.9 392 575.8" fill="none" stroke="#bf9fd8" stroke-width="0.65"/>
<circle cx="377.7" cy="584.26" r="0.7" fill="#3a763a"/>
<circle cx="384.3" cy="580.3" r="0.7" fill="#3a763a"/>
<path d="M370 589 Q382.05 587.05 394.1 582.1" fill="none" stroke="#bf9fd8" stroke-width="0.65"/>
<circle cx="378.43" cy="586.47" r="0.7" fill="#3a763a"/>
<circle cx="385.66" cy="584.4" r="0.7" fill="#3a763a"/>
<path d="M370 589 Q385.8 590.35 401.6 588.7" fill="none" stroke="#bf9fd8" stroke-width="0.65"/>
<circle cx="381.06" cy="588.78" r="0.7" fill="#3a763a"/>
<circle cx="390.54" cy="588.69" r="0.7" fill="#3a763a"/>
<path d="M372.5 602.1 Q384.9 600.6 397.3 596.1" fill="none" stroke="#bf9fd8" stroke-width="0.65"/>
<circle cx="381.18" cy="599.88" r="0.7" fill="#3a763a"/>
<circle cx="388.62" cy="598.08" r="0.7" fill="#3a763a"/>
<path d="M372.5 606.7 Q387.85 605.2 403.2 600.7" fill="none" stroke="#bf9fd8" stroke-width="0.65"/>
<circle cx="383.25" cy="604.48" r="0.7" fill="#3a763a"/>
<circle cx="392.45" cy="602.68" r="0.7" fill="#3a763a"/>
<path d="M372.5 614.8 Q386.75 613.3 401 608.8" fill="none" stroke="#bf9fd8" stroke-width="0.65"/>
<circle cx="382.48" cy="612.58" r="0.7" fill="#3a763a"/>
<circle cx="391.02" cy="610.78" r="0.7" fill="#3a763a"/>
<path d="M372.5 619 Q383.1 617.5 393.7 613" fill="none" stroke="#bf9fd8" stroke-width="0.65"/>
<circle cx="379.92" cy="616.78" r="0.7" fill="#3a763a"/>
<circle cx="386.28" cy="614.98" r="0.7" fill="#3a763a"/>
<path d="M372.5 621.6 Q387.25 620.1 402 615.6" fill="none" stroke="#bf9fd8" stroke-width="0.65"/>
<circle cx="382.83" cy="619.38" r="0.7" fill="#3a763a"/>
<circle cx="391.68" cy="617.58" r="0.7" fill="#3a763a"/>
<path d="M372.5 625 Q383.65 624.75 394.8 621.5" fill="none" stroke="#bf9fd8" stroke-width="0.65"/>
<circle cx="380.31" cy="623.66" r="0.7" fill="#3a763a"/>
<circle cx="387" cy="622.61" r="0.7" fill="#3a763a"/>
<path d="M364 589 Q355.2 588.5 346.4 585" fill="none" stroke="#bf9fd8" stroke-width="0.65"/>
<circle cx="357.84" cy="587.48" r="0.7" fill="#3a763a"/>
<circle cx="352.56" cy="586.28" r="0.7" fill="#3a763a"/>
<path d="M361.5 598.3 Q352.65 596.8 343.8 592.3" fill="none" stroke="#bf9fd8" stroke-width="0.65"/>
<circle cx="355.3" cy="596.08" r="0.7" fill="#3a763a"/>
<circle cx="350" cy="594.28" r="0.7" fill="#3a763a"/>
<path d="M361.5 601.2 Q355.3 599.7 349.1 595.2" fill="none" stroke="#bf9fd8" stroke-width="0.65"/>
<circle cx="357.16" cy="598.98" r="0.7" fill="#3a763a"/>
<circle cx="353.44" cy="597.18" r="0.7" fill="#3a763a"/>
<path d="M361.5 603.8 Q353.3 602.3 345.1 597.8" fill="none" stroke="#bf9fd8" stroke-width="0.65"/>
<circle cx="355.76" cy="601.58" r="0.7" fill="#3a763a"/>
<circle cx="350.84" cy="599.78" r="0.7" fill="#3a763a"/>
<path d="M361.5 608.4 Q348.7 606.9 335.9 602.4" fill="none" stroke="#bf9fd8" stroke-width="0.65"/>
<circle cx="352.54" cy="606.18" r="0.7" fill="#3a763a"/>
<circle cx="344.86" cy="604.38" r="0.7" fill="#3a763a"/>
<path d="M361.5 608.4 Q352 606.9 342.5 602.4" fill="none" stroke="#bf9fd8" stroke-width="0.65"/>
<circle cx="354.85" cy="606.18" r="0.7" fill="#3a763a"/>
<circle cx="349.15" cy="604.38" r="0.7" fill="#3a763a"/>
<path d="M361.5 617 Q354.5 615.5 347.5 611" fill="none" stroke="#bf9fd8" stroke-width="0.65"/>
<circle cx="356.6" cy="614.78" r="0.7" fill="#3a763a"/>
<circle cx="352.4" cy="612.98" r="0.7" fill="#3a763a"/>
<path d="M361.5 622 Q353.3 620.5 345.1 616" fill="none" stroke="#bf9fd8" stroke-width="0.65"/>
<circle cx="355.76" cy="619.78" r="0.7" fill="#3a763a"/>
<circle cx="350.84" cy="617.98" r="0.7" fill="#3a763a"/>
<path d="M361.5 625 Q351.55 624.9 341.6 621.8" fill="none" stroke="#bf9fd8" stroke-width="0.65"/>
<circle cx="354.53" cy="623.76" r="0.7" fill="#3a763a"/>
<circle cx="348.56" cy="622.8" r="0.7" fill="#3a763a"/>
<rect x="360.2" y="587.3" width="13.8" height="85.5" fill="#fccb92" rx="6.9"/>
<circle cx="357.3" cy="570.9" r="2.3" fill="#8a1ee6"/>
<circle cx="368.5" cy="568.3" r="2.3" fill="#8a1ee6"/>
<circle cx="377" cy="567.6" r="2.3" fill="#8a1ee6"/>
<circle cx="388.9" cy="568.9" r="2.3" fill="#8a1ee6"/>
<circle cx="392" cy="575.8" r="2.3" fill="#8a1ee6"/>
<circle cx="394.1" cy="582.1" r="2.3" fill="#8a1ee6"/>
<circle cx="401.6" cy="588.7" r="2.3" fill="#8a1ee6"/>
<circle cx="397.3" cy="596.1" r="2.3" fill="#8a1ee6"/>
<circle cx="403.2" cy="600.7" r="2.3" fill="#8a1ee6"/>
<circle cx="401" cy="608.8" r="2.3" fill="#8a1ee6"/>
<circle cx="393.7" cy="613" r="2.3" fill="#8a1ee6"/>
<circle cx="402" cy="615.6" r="2.3" fill="#8a1ee6"/>
<circle cx="394.8" cy="621.5" r="2.3" fill="#8a1ee6"/>
<circle cx="346.4" cy="585" r="2.3" fill="#8a1ee6"/>
<circle cx="343.8" cy="592.3" r="2.3" fill="#8a1ee6"/>
<circle cx="349.1" cy="595.2" r="2.3" fill="#8a1ee6"/>
<circle cx="345.1" cy="597.8" r="2.3" fill="#8a1ee6"/>
<circle cx="335.9" cy="602.4" r="2.3" fill="#8a1ee6"/>
<circle cx="342.5" cy="602.4" r="2.3" fill="#8a1ee6"/>
<circle cx="347.5" cy="611" r="2.3" fill="#8a1ee6"/>
<circle cx="345.1" cy="616" r="2.3" fill="#8a1ee6"/>
<circle cx="341.6" cy="621.8" r="2.3" fill="#8a1ee6"/>
<text x="298.1" y="611" font-size="7.3" font-weight="bold" fill="#9a32d8">Sialic Acid</text>
<text x="320" y="642" font-size="8.4" fill="#222">MUC1-N</text>
<text x="391.6" y="723.5" font-size="8.3" fill="#222">MUC1-C</text>
<text x="295" y="569.9" font-size="9.2" font-weight="bold" fill="#111">Extracellular</text>
<text x="295.2" y="785.6" font-size="9.45" font-weight="bold" fill="#111">Intracellular</text>
<line x1="405.5" y1="601.5" x2="438" y2="614.5" stroke="#222" stroke-width="0.9"/>
<text x="438.3" y="619.2" font-size="9" font-weight="bold" fill="#111">O-Glycosylation</text>
<path d="M442.5 573.4 L447.35 576.2 L447.35 581.8 L442.5 584.6 L437.65 581.8 L437.65 576.2 Z" fill="none" stroke="#2a2a2a" stroke-width="0.75"/>
<path d="M452.2 573.4 L457.05 576.2 L457.05 581.8 L452.2 584.6 L447.35 581.8 L447.35 576.2 Z" fill="none" stroke="#2a2a2a" stroke-width="0.75"/>
<path d="M468 564.35 L473.2 567.35 L473.2 573.35 L468 576.35 L462.8 573.35 L462.8 567.35 Z" fill="none" stroke="#2a2a2a" stroke-width="0.75"/>
<line x1="442.5" y1="574.63" x2="446.28" y2="576.82" stroke="#2a2a2a" stroke-width="0.6"/>
<line x1="446.28" y1="581.18" x2="442.5" y2="583.37" stroke="#2a2a2a" stroke-width="0.6"/>
<line x1="438.72" y1="581.18" x2="438.72" y2="576.82" stroke="#2a2a2a" stroke-width="0.6"/>
<line x1="468" y1="565.67" x2="472.05" y2="568.01" stroke="#2a2a2a" stroke-width="0.6"/>
<line x1="472.05" y1="572.69" x2="468" y2="575.03" stroke="#2a2a2a" stroke-width="0.6"/>
<line x1="463.95" y1="572.69" x2="463.95" y2="568.01" stroke="#2a2a2a" stroke-width="0.6"/>
<line x1="455.98" y1="576.82" x2="455.98" y2="581.18" stroke="#2a2a2a" stroke-width="0.6"/>
<line x1="457.05" y1="576.2" x2="462.8" y2="573.35" stroke="#2a2a2a" stroke-width="0.75"/>
<line x1="452.2" y1="584.6" x2="452.2" y2="589.8" stroke="#2a2a2a" stroke-width="0.75"/>
<line x1="453.2" y1="584.6" x2="453.2" y2="589.8" stroke="#2a2a2a" stroke-width="0.5"/>
<line x1="442.5" y1="584.6" x2="442.5" y2="589.1" stroke="#2a2a2a" stroke-width="0.75"/>
<line x1="437.65" y1="576.2" x2="433.85" y2="573.9" stroke="#2a2a2a" stroke-width="0.75"/>
<line x1="473.2" y1="567.35" x2="477" y2="565.05" stroke="#2a2a2a" stroke-width="0.75"/>
<rect x="450.6" y="571.8" width="3.2" height="3.2" fill="#fffad4"/>
<text x="452.2" y="575" font-size="4.2" font-weight="bold" text-anchor="middle" fill="#333">O</text>
<text x="452.7" y="593.9" font-size="4.2" font-weight="bold" text-anchor="middle" fill="#333">O</text>
<text x="442.5" y="593.2" font-size="4" font-weight="bold" text-anchor="middle" fill="#333">OH</text>
<text x="434.05" y="575.4" font-size="4" font-weight="bold" text-anchor="end" fill="#333">HO</text>
<text x="476.8" y="565.75" font-size="4" font-weight="bold" fill="#333">OH</text>
<text x="439.9" y="600.2" font-size="6.7" font-weight="bold" fill="#3a8a3a">Apigenin</text>
<path d="M553.5 590 C555.83 582.78 550.67 575.72 553 568.5" fill="none" stroke="#b493e2" stroke-width="0.8"/>
<path d="M556.5 590 C565.77 586.13 571.23 576.87 580.5 573" fill="none" stroke="#b493e2" stroke-width="0.8"/>
<path d="M548 590 C544.61 586.21 538.89 586.29 535.5 582.5" fill="none" stroke="#b493e2" stroke-width="0.8"/>
<path d="M547 593 C542.64 589.97 536.86 591.53 532.5 588.5" fill="none" stroke="#b493e2" stroke-width="0.8"/>
<path d="M547 597 C541.01 598.29 535.49 594.21 529.5 595.5" fill="none" stroke="#b493e2" stroke-width="0.8"/>
<path d="M547 601 C539.96 599.37 533.04 603.13 526 601.5" fill="none" stroke="#b493e2" stroke-width="0.8"/>
<path d="M547 606 C540.54 607.67 533.96 604.83 527.5 606.5" fill="none" stroke="#b493e2" stroke-width="0.8"/>
<path d="M547 611 C540.29 609.57 533.71 612.93 527 611.5" fill="none" stroke="#b493e2" stroke-width="0.8"/>
<path d="M547 616 C540.34 619.06 532.66 617.44 526 620.5" fill="none" stroke="#b493e2" stroke-width="0.8"/>
<path d="M557 594 C565.56 593.92 572.94 588.58 581.5 588.5" fill="none" stroke="#b493e2" stroke-width="0.8"/>
<path d="M557 598 C566.11 595.08 575.89 596.92 585 594" fill="none" stroke="#b493e2" stroke-width="0.8"/>
<path d="M557 602 C568.74 603.1 580.26 599.4 592 600.5" fill="none" stroke="#b493e2" stroke-width="0.8"/>
<path d="M557 607 C565.67 605.4 574.33 608.6 583 607" fill="none" stroke="#b493e2" stroke-width="0.8"/>
<path d="M557 612 C566.64 613.77 576.36 610.73 586 612.5" fill="none" stroke="#b493e2" stroke-width="0.8"/>
<path d="M557 617 C567.83 615.4 578.67 618.6 589.5 617" fill="none" stroke="#b493e2" stroke-width="0.8"/>
<path d="M551 589 C546.71 584.89 547.79 578.11 543.5 574" fill="none" stroke="#b493e2" stroke-width="0.8"/>
<path d="M545.4 595 Q545.6 588 552 588 Q558.6 588 558.6 595 L557.6 666 Q557.4 673 550.2 673 Q543 673 543.1 666 Z" fill="#fccb92"/>
<circle cx="539.5" cy="582" r="0.7" fill="#556b2f"/>
<circle cx="559" cy="574.5" r="0.7" fill="#556b2f"/>
<circle cx="575.5" cy="582.8" r="0.7" fill="#556b2f"/>
<circle cx="527" cy="600.8" r="0.7" fill="#556b2f"/>
<circle cx="569" cy="597.7" r="0.7" fill="#556b2f"/>
<circle cx="585" cy="602.2" r="0.7" fill="#556b2f"/>
<circle cx="536.5" cy="613.7" r="0.7" fill="#556b2f"/>
<circle cx="564.5" cy="609.8" r="0.7" fill="#556b2f"/>
<circle cx="580" cy="616" r="0.7" fill="#556b2f"/>
<circle cx="528" cy="624.5" r="0.7" fill="#556b2f"/>
<circle cx="532" cy="595" r="0.7" fill="#556b2f"/>
<circle cx="520" cy="612" r="0.7" fill="#556b2f"/>
<text x="488.9" y="580.4" font-size="8.3" fill="#222">BAG</text>
<line x1="506.9" y1="577.5" x2="529.5" y2="585.4" stroke="#222" stroke-width="0.8"/>
<line x1="527.6" y1="589.8" x2="531.4" y2="581" stroke="#222" stroke-width="0.8"/>
<line x1="503.9" y1="613.4" x2="527.2" y2="594.6" stroke="#222" stroke-width="0.8"/>
<text x="614.9" y="575.5" font-size="8.3" fill="#222">Sialidase</text>
<line x1="613.5" y1="572.8" x2="592.3" y2="582" stroke="#222" stroke-width="0.8"/>
<line x1="590.2" y1="577.6" x2="594.4" y2="586.4" stroke="#222" stroke-width="0.8"/>
<text x="621.6" y="612.9" font-size="8.3" fill="#222">GCNT3 KO</text>
<line x1="619.8" y1="606.6" x2="596.6" y2="598.5" stroke="#222" stroke-width="0.8"/>
<line x1="594.6" y1="602.9" x2="597.5" y2="594.2" stroke="#222" stroke-width="0.8"/>
<line x1="307.9" y1="734" x2="307.9" y2="727.9" stroke="#2a6a2a" stroke-width="1"/>
<path d="M307.9 724.4 L306 728.4 L309.8 728.4 Z" fill="#2a6a2a"/>
<text x="314" y="731.9" font-size="8.4" fill="#222" textLength="32" lengthAdjust="spacingAndGlyphs">Apoptosis</text>
<line x1="307.9" y1="748.9" x2="307.9" y2="742.8" stroke="#2a6a2a" stroke-width="1"/>
<path d="M307.9 739.3 L306 743.3 L309.8 743.3 Z" fill="#2a6a2a"/>
<text x="313.3" y="747.7" font-size="8.4" fill="#222" textLength="60.1" lengthAdjust="spacingAndGlyphs">Cell cycle arrest</text>
<line x1="307.9" y1="765.2" x2="307.9" y2="758.5" stroke="#2a6a2a" stroke-width="1"/>
<path d="M307.9 755 L306 759 L309.8 759 Z" fill="#2a6a2a"/>
<text x="313.3" y="762.9" font-size="8.4" fill="#222" textLength="95.3" lengthAdjust="spacingAndGlyphs">Mitochondrial dysfunction</text>
<circle cx="388" cy="746.5" r="0.65" fill="#2e6b2e"/>
<circle cx="392" cy="741.5" r="0.65" fill="#2e6b2e"/>
<circle cx="396.5" cy="745.5" r="0.65" fill="#2e6b2e"/>
<circle cx="399" cy="735" r="0.65" fill="#2e6b2e"/>
<circle cx="402" cy="741.5" r="0.65" fill="#2e6b2e"/>
<circle cx="409.5" cy="731.5" r="0.65" fill="#2e6b2e"/>
<circle cx="400" cy="748" r="0.65" fill="#2e6b2e"/>
<g transform="translate(450.1 751) rotate(20)"><ellipse cx="0" cy="0" rx="17.5" ry="33.5" fill="#c8ccf3" stroke="#8585b5" stroke-width="0.7"/><clipPath id="mclip1"><ellipse cx="0" cy="0" rx="13.9" ry="29.5"/></clipPath><ellipse cx="0" cy="0" rx="13.9" ry="29.5" fill="#fffad4"/><g clip-path="url(#mclip1)"><line x1="12.52" y1="-21.5" x2="-2.28" y2="-21.5" stroke="#c8ccf3" stroke-width="3.3" stroke-linecap="round"/><line x1="-15.15" y1="-14.33" x2="2.92" y2="-14.33" stroke="#c8ccf3" stroke-width="3.3" stroke-linecap="round"/><line x1="16.48" y1="-7.17" x2="-3.24" y2="-7.17" stroke="#c8ccf3" stroke-width="3.3" stroke-linecap="round"/><line x1="-16.9" y1="0" x2="3.34" y2="0" stroke="#c8ccf3" stroke-width="3.3" stroke-linecap="round"/><line x1="16.48" y1="7.17" x2="-3.24" y2="7.17" stroke="#c8ccf3" stroke-width="3.3" stroke-linecap="round"/><line x1="-15.15" y1="14.33" x2="2.92" y2="14.33" stroke="#c8ccf3" stroke-width="3.3" stroke-linecap="round"/><line x1="12.52" y1="21.5" x2="-2.28" y2="21.5" stroke="#c8ccf3" stroke-width="3.3" stroke-linecap="round"/></g></g>
<text x="424" y="731.7" font-size="7.3" font-weight="bold" fill="#111">ATP</text>
<line x1="438.9" y1="723.5" x2="438.9" y2="730.9" stroke="#e88a8a" stroke-width="0.9"/>
<path d="M438.9 734 L437 730.4 L440.8 730.4 Z" fill="#e00010"/>
<text x="451" y="785.6" font-size="6.9" font-weight="bold" fill="#111">MMP</text>
<line x1="468.5" y1="776.6" x2="468.5" y2="784.5" stroke="#e05050" stroke-width="0.9"/>
<path d="M468.5 787.6 L466.6 784 L470.4 784 Z" fill="#e00010"/>
<line x1="497.5" y1="736.6" x2="497.5" y2="729.6" stroke="#7434a8" stroke-width="1.1"/>
<path d="M497.5 726.1 L495.5 730.1 L499.5 730.1 Z" fill="#7434a8"/>
<line x1="503.1" y1="736.6" x2="503.1" y2="729.6" stroke="#7434a8" stroke-width="1.1"/>
<path d="M503.1 726.1 L501.1 730.1 L505.1 730.1 Z" fill="#7434a8"/>
<text x="509.6" y="734" font-size="8.4" fill="#222">Apoptosis</text>
<line x1="497.5" y1="752" x2="497.5" y2="745" stroke="#7434a8" stroke-width="1.1"/>
<path d="M497.5 741.5 L495.5 745.5 L499.5 745.5 Z" fill="#7434a8"/>
<line x1="503.1" y1="752" x2="503.1" y2="745" stroke="#7434a8" stroke-width="1.1"/>
<path d="M503.1 741.5 L501.1 745.5 L505.1 745.5 Z" fill="#7434a8"/>
<text x="508" y="749.4" font-size="8.4" fill="#222">Cell cycle arrest</text>
<line x1="497.5" y1="767.5" x2="497.5" y2="760.5" stroke="#7434a8" stroke-width="1.1"/>
<path d="M497.5 757 L495.5 761 L499.5 761 Z" fill="#7434a8"/>
<line x1="503.1" y1="767.5" x2="503.1" y2="760.5" stroke="#7434a8" stroke-width="1.1"/>
<path d="M503.1 757 L501.1 761 L505.1 761 Z" fill="#7434a8"/>
<text x="508.4" y="764.7" font-size="8.4" fill="#222">Mitochondrial dysfunction</text>
<circle cx="579.83" cy="723.18" r="0.75" fill="#2a7a5e"/>
<circle cx="584.03" cy="728.3" r="0.75" fill="#2a7a5e"/>
<circle cx="580.03" cy="734.06" r="0.75" fill="#2a7a5e"/>
<circle cx="581.36" cy="739.24" r="0.75" fill="#2a7a5e"/>
<circle cx="580.47" cy="745.48" r="0.75" fill="#2a7a5e"/>
<circle cx="584.54" cy="722.41" r="0.75" fill="#2a7a5e"/>
<circle cx="587.03" cy="729.33" r="0.75" fill="#2a7a5e"/>
<circle cx="586.7" cy="732.43" r="0.75" fill="#2a7a5e"/>
<circle cx="590.24" cy="740.59" r="0.75" fill="#2a7a5e"/>
<circle cx="586.55" cy="744.95" r="0.75" fill="#2a7a5e"/>
<circle cx="590.77" cy="721.55" r="0.75" fill="#2a7a5e"/>
<circle cx="594.6" cy="727.08" r="0.75" fill="#2a7a5e"/>
<circle cx="590.88" cy="733.03" r="0.75" fill="#2a7a5e"/>
<circle cx="592.81" cy="739.09" r="0.75" fill="#2a7a5e"/>
<circle cx="591.79" cy="745.63" r="0.75" fill="#2a7a5e"/>
<circle cx="598.07" cy="723.42" r="0.75" fill="#2a7a5e"/>
<circle cx="600.5" cy="728.89" r="0.75" fill="#2a7a5e"/>
<circle cx="597.85" cy="733.13" r="0.75" fill="#2a7a5e"/>
<circle cx="602.29" cy="740.69" r="0.75" fill="#2a7a5e"/>
<circle cx="599.22" cy="745.22" r="0.75" fill="#2a7a5e"/>
<circle cx="603.33" cy="722.19" r="0.75" fill="#2a7a5e"/>
<circle cx="605.74" cy="727.11" r="0.75" fill="#2a7a5e"/>
<circle cx="604.96" cy="733.5" r="0.75" fill="#2a7a5e"/>
<circle cx="607.75" cy="738.86" r="0.75" fill="#2a7a5e"/>
<circle cx="605.65" cy="745.64" r="0.75" fill="#2a7a5e"/>
<circle cx="608.2" cy="722.13" r="0.75" fill="#2a7a5e"/>
<circle cx="613.98" cy="728.31" r="0.75" fill="#2a7a5e"/>
<circle cx="611.73" cy="733.49" r="0.75" fill="#2a7a5e"/>
<circle cx="610.96" cy="739.59" r="0.75" fill="#2a7a5e"/>
<circle cx="611" cy="743.91" r="0.75" fill="#2a7a5e"/>
<g transform="translate(646.5 748.5) rotate(15)"><rect x="-15" y="-37" width="30" height="74" rx="15" fill="#9d9dad" stroke="#787888" stroke-width="0.8"/><clipPath id="mclip2"><rect x="-11.2" y="-32.5" width="22.4" height="65" rx="11.2"/></clipPath><rect x="-11.2" y="-32.5" width="22.4" height="65" rx="11.2" fill="#eef7f8"/><g clip-path="url(#mclip2)"><line x1="14.2" y1="-22" x2="-2.69" y2="-22" stroke="#9d9dad" stroke-width="3.6" stroke-linecap="round"/><line x1="-14.2" y1="-13.2" x2="2.69" y2="-13.2" stroke="#9d9dad" stroke-width="3.6" stroke-linecap="round"/><line x1="14.2" y1="-4.4" x2="-2.69" y2="-4.4" stroke="#9d9dad" stroke-width="3.6" stroke-linecap="round"/><line x1="-14.2" y1="4.4" x2="2.69" y2="4.4" stroke="#9d9dad" stroke-width="3.6" stroke-linecap="round"/><line x1="14.2" y1="13.2" x2="-2.69" y2="13.2" stroke="#9d9dad" stroke-width="3.6" stroke-linecap="round"/><line x1="-14.2" y1="22" x2="2.69" y2="22" stroke="#9d9dad" stroke-width="3.6" stroke-linecap="round"/></g></g>
<circle cx="631.8" cy="727" r="2.2" fill="#ffffff" opacity="0.95"/>
<text x="632.8" y="729" font-size="7.2" font-weight="bold" fill="#111">ATP</text>
<line x1="651.2" y1="717.5" x2="651.2" y2="726.9" stroke="#e01010" stroke-width="0.9"/>
<path d="M651.2 730 L649.2 726.4 L653.2 726.4 Z" fill="#e01010"/>
<line x1="656.6" y1="717.5" x2="656.6" y2="726.9" stroke="#e01010" stroke-width="0.9"/>
<path d="M656.6 730 L654.6 726.4 L658.6 726.4 Z" fill="#e01010"/>
<text x="652" y="785" font-size="6.8" font-weight="bold" fill="#111">MMP</text>
<line x1="671.1" y1="775.7" x2="671.1" y2="785.1" stroke="#e01010" stroke-width="0.9"/>
<path d="M671.1 788.2 L669.1 784.6 L673.1 784.6 Z" fill="#e01010"/>
<line x1="676.5" y1="775.7" x2="676.5" y2="785.1" stroke="#e01010" stroke-width="0.9"/>
<path d="M676.5 788.2 L674.5 784.6 L678.5 784.6 Z" fill="#e01010"/>
<rect x="290.8" y="559.5" width="388.8" height="229.7" fill="none" stroke="#555" stroke-width="1"/>
</svg>
</body></html>
